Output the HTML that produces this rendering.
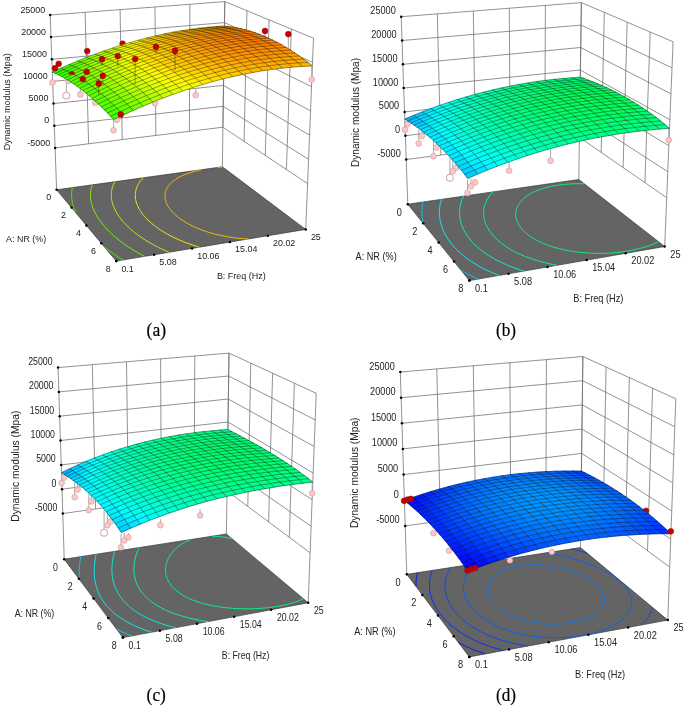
<!DOCTYPE html>
<html><head><meta charset="utf-8"><style>html,body{margin:0;padding:0;background:#fff;}svg{display:block;will-change:transform;}</style></head><body>
<svg width="685" height="705" viewBox="0 0 685 705" font-family="Liberation Sans, sans-serif" fill="#222">
<rect width="685" height="705" fill="#fff"/>
<line x1="50.2" y1="15" x2="55.1" y2="147.9" stroke="#6e6e6e" stroke-width="0.75"/>
<line x1="85.1" y1="12.3" x2="88.6" y2="143.7" stroke="#6e6e6e" stroke-width="0.75"/>
<line x1="120.1" y1="9.6" x2="122.2" y2="139.6" stroke="#6e6e6e" stroke-width="0.75"/>
<line x1="155" y1="7" x2="155.8" y2="135.5" stroke="#6e6e6e" stroke-width="0.75"/>
<line x1="189.9" y1="4.3" x2="189.4" y2="131.3" stroke="#6e6e6e" stroke-width="0.75"/>
<line x1="224.8" y1="1.6" x2="222.9" y2="127.2" stroke="#6e6e6e" stroke-width="0.75"/>
<line x1="224.8" y1="1.6" x2="222.9" y2="127.2" stroke="#6e6e6e" stroke-width="0.75"/>
<line x1="247" y1="10.8" x2="244.1" y2="141.3" stroke="#6e6e6e" stroke-width="0.75"/>
<line x1="269.1" y1="19.9" x2="265.3" y2="155.4" stroke="#6e6e6e" stroke-width="0.75"/>
<line x1="291.3" y1="29.1" x2="286.4" y2="169.5" stroke="#6e6e6e" stroke-width="0.75"/>
<line x1="313.5" y1="38.2" x2="307.6" y2="183.6" stroke="#6e6e6e" stroke-width="0.75"/>
<line x1="55.1" y1="147.9" x2="222.9" y2="127.2" stroke="#6e6e6e" stroke-width="0.75"/>
<line x1="222.9" y1="127.2" x2="307.6" y2="183.6" stroke="#6e6e6e" stroke-width="0.75"/>
<line x1="54.3" y1="125.7" x2="223.2" y2="106.3" stroke="#6e6e6e" stroke-width="0.75"/>
<line x1="223.2" y1="106.3" x2="308.6" y2="159.3" stroke="#6e6e6e" stroke-width="0.75"/>
<line x1="53.5" y1="103.6" x2="223.5" y2="85.4" stroke="#6e6e6e" stroke-width="0.75"/>
<line x1="223.5" y1="85.4" x2="309.6" y2="135.1" stroke="#6e6e6e" stroke-width="0.75"/>
<line x1="52.7" y1="81.4" x2="223.9" y2="64.4" stroke="#6e6e6e" stroke-width="0.75"/>
<line x1="223.9" y1="64.4" x2="310.6" y2="110.9" stroke="#6e6e6e" stroke-width="0.75"/>
<line x1="51.9" y1="59.3" x2="224.2" y2="43.5" stroke="#6e6e6e" stroke-width="0.75"/>
<line x1="224.2" y1="43.5" x2="311.6" y2="86.7" stroke="#6e6e6e" stroke-width="0.75"/>
<line x1="51" y1="37.1" x2="224.5" y2="22.6" stroke="#6e6e6e" stroke-width="0.75"/>
<line x1="224.5" y1="22.6" x2="312.6" y2="62.4" stroke="#6e6e6e" stroke-width="0.75"/>
<line x1="50.2" y1="15" x2="224.8" y2="1.6" stroke="#6e6e6e" stroke-width="0.75"/>
<line x1="224.8" y1="1.6" x2="313.5" y2="38.2" stroke="#6e6e6e" stroke-width="0.75"/>
<line x1="56.6" y1="189.8" x2="55.1" y2="147.9" stroke="#6e6e6e" stroke-width="0.75"/>
<line x1="222.4" y1="166.8" x2="222.9" y2="127.2" stroke="#6e6e6e" stroke-width="0.75"/>
<line x1="305.7" y1="229.4" x2="307.6" y2="183.6" stroke="#6e6e6e" stroke-width="0.75"/>
<polygon points="56.6,189.8 222.4,166.8 305.7,229.4 116.2,261.1" fill="#646464" stroke="#3a3a3a" stroke-width="0.7"/>
<polyline points="75.6,212.5 75.5,212.4 75,211.1 74.5,209.8 74.1,208.6 73.6,207.3 73.2,206 73.2,205.8 72.9,204.7 72.6,203.5 72.3,202.2 72.1,200.9 72.1,200.7 71.9,199.6 71.8,198.3 71.7,196.9 71.6,196.5 71.6,195.6 71.6,194.3 71.6,193 71.7,192.9 71.7,191.6 71.9,190.3 72,189.7 72.1,188.9 72.3,187.6" fill="none" stroke="#44ff00" stroke-width="0.9"/>
<polyline points="123,260 122,259.4 121.3,258.9 119.6,257.9 117.9,256.8 116.3,255.7 114.6,254.6 114,254.2 113.1,253.5 111.5,252.4 110,251.3 108.5,250.2 107,249.1 105.6,248 104.7,247.3" fill="none" stroke="#44ff00" stroke-width="0.9"/>
<polyline points="144.5,256.4 142.6,255.4 140.7,254.3 138.8,253.3 137.8,252.7 137,252.3 135.2,251.2 133.5,250.2 131.7,249.1 130.1,248 130,248 128.4,247 126.8,245.9 125.3,244.8 123.7,243.7 122.2,242.6 120.8,241.5 120.6,241.4 119.3,240.4 117.9,239.3 116.6,238.1 115.2,237 113.9,235.9 112.7,234.7 111.4,233.6 110.2,232.5 109,231.3 107.9,230.1 106.8,229 105.7,227.8 104.7,226.6 103.7,225.5 102.7,224.3 101.7,223.1 100.8,221.9 99.9,220.7 99.1,219.5 98.3,218.3 97.5,217.1 96.8,215.8 96.1,214.6 95.4,213.4 94.8,212.2 94.7,211.9 94.2,210.9 93.7,209.7 93.2,208.4 92.7,207.2 92.3,205.9 92.1,205.3 91.9,204.6 91.5,203.4 91.2,202.1 91,200.8 90.9,200.4 90.8,199.5 90.6,198.2 90.5,196.9 90.5,196.3 90.5,195.6 90.5,194.3 90.5,192.9 90.5,192.8 90.6,191.6 90.8,190.3 90.9,189.8 91,188.9 91.3,187.6 91.4,187 91.7,186.2 92.1,184.9" fill="none" stroke="#86ff00" stroke-width="0.9"/>
<polyline points="169.1,252.3 166.8,251.3 164.6,250.3 164.5,250.3 162.5,249.4 160.4,248.4 158.4,247.4 157.9,247.1 156.4,246.4 154.5,245.4 152.6,244.3 150.8,243.3 150.6,243.2 149,242.3 147.2,241.2 145.5,240.2 143.9,239.1 142.2,238 142.1,237.9 140.7,237 139.1,235.9 137.6,234.8 136.2,233.7 134.8,232.6 133.4,231.5 132,230.3 130.7,229.2 129.5,228.1 129.3,227.9 128.3,227 127.1,225.8 125.9,224.7 124.8,223.5 123.8,222.3 122.7,221.2 121.8,220 120.8,218.8 120.5,218.4 119.9,217.6 119.1,216.4 118.2,215.2 117.4,214 116.7,212.8 116,211.6 115.4,210.4 114.8,209.2 114.3,208.1 114.2,207.9 113.7,206.7 113.2,205.4 112.8,204.2 112.4,202.9 112.3,202.5 112.1,201.7 111.8,200.4 111.6,199.1 111.5,198.2 111.4,197.8 111.3,196.5 111.3,195.2 111.3,194.6 111.3,193.9 111.4,192.6 111.5,191.5 111.6,191.3 111.8,189.9 112,188.8 112.1,188.6 112.4,187.2 112.8,186.3 112.9,185.9 113.4,184.5 113.7,184 114.1,183.1 114.7,181.9 114.8,181.7" fill="none" stroke="#c8ff00" stroke-width="0.9"/>
<polyline points="199.4,247.2 197.6,246.7 196.6,246.3 193.8,245.5 192.2,244.9 191.2,244.6 188.6,243.7 186.4,242.9 186.2,242.8 183.8,241.9 181.5,240.9 180.3,240.4 179.2,240 177.1,239 175,238 173.6,237.4 172.9,237 170.9,236 169,235 167.2,234 166,233.3 165.4,233 163.6,231.9 161.9,230.9 160.3,229.8 158.7,228.8 157.2,227.7 156,226.8 155.7,226.6 154.3,225.5 152.9,224.4 151.6,223.3 150.3,222.2 149,221.1 147.9,219.9 146.7,218.8 145.6,217.6 144.6,216.5 143.6,215.3 142.7,214.2 141.8,213 141,211.8 140.6,211.2 140.2,210.6 139.5,209.4 138.8,208.2 138.2,207 137.6,205.8 137.1,204.5 137,204.2 136.6,203.3 136.2,202 135.9,200.8 135.7,199.6 135.7,199.5 135.5,198.2 135.3,197 135.3,195.9 135.3,195.7 135.3,194.4 135.4,193.1 135.4,192.9 135.6,191.7 135.8,190.4 135.9,190.2 136.2,189 136.6,187.8 136.7,187.7 137.2,186.3 137.6,185.6 137.9,184.9 138.7,183.6 138.7,183.5 139.7,182.1 139.9,181.7 140.7,180.7 141.3,180 142,179.2 142.8,178.4 143.4,177.7" fill="none" stroke="#fff600" stroke-width="0.9"/>
<polyline points="217.7,167.5 219.7,167.3 222.7,167.1" fill="none" stroke="#ffc200" stroke-width="0.9"/>
<polyline points="248.6,239 245,238.8 242.9,238.6 240.8,238.5 237.8,238.2 236.6,238 233.2,237.6 232.2,237.5 229.1,237 227.7,236.8 225.2,236.3 223.1,235.9 221.6,235.6 218.2,234.9 218.2,234.9 215.1,234.1 213.1,233.6 212,233.3 209.2,232.4 207.7,232 206.5,231.6 203.9,230.7 201.9,230 201.4,229.8 199,228.9 196.8,227.9 195.5,227.4 194.6,227 192.5,226 190.5,225 188.6,224 187.9,223.6 186.8,223 185,222 183.4,220.9 181.8,219.9 180.2,218.8 178.8,217.7 177.4,216.6 176.1,215.5 174.8,214.4 173.7,213.3 172.5,212.2 171.5,211 170.6,209.9 169.7,208.7 168.8,207.6 168.1,206.4 167.4,205.2 166.8,204 166.7,203.8 166.3,202.8 165.8,201.5 165.5,200.3 165.3,199.3 165.2,199 165,197.8 165,196.5 165,195.9 165,195.2 165.1,193.9 165.2,193.1 165.3,192.6 165.7,191.2 165.9,190.7 166.2,189.9 166.8,188.6 166.8,188.5 167.7,187.1 168,186.7 168.7,185.7 169.3,184.9 169.9,184.2 170.8,183.3 171.3,182.8 172.3,181.8 173.1,181.2 174,180.5 175.2,179.7 175.8,179.2 177.7,178 177.7,178 179.7,176.9 180.9,176.3 181.7,175.9 183.8,175 184.9,174.5 186,174.1 188.2,173.3 190.5,172.5 190.6,172.5 192.9,171.8 195.3,171.1 197.8,170.5 200.3,169.9 201.6,169.7" fill="none" stroke="#ffc200" stroke-width="0.9"/>
<circle cx="56.6" cy="189.8" r="1.25" fill="#000"/>
<circle cx="71.5" cy="207.6" r="1.25" fill="#000"/>
<circle cx="86.4" cy="225.4" r="1.25" fill="#000"/>
<circle cx="101.3" cy="243.3" r="1.25" fill="#000"/>
<circle cx="116.2" cy="261.1" r="1.25" fill="#000"/>
<circle cx="116.2" cy="261.1" r="1.25" fill="#000"/>
<circle cx="154.1" cy="254.8" r="1.25" fill="#000"/>
<circle cx="192" cy="248.4" r="1.25" fill="#000"/>
<circle cx="229.9" cy="242.1" r="1.25" fill="#000"/>
<circle cx="267.8" cy="235.7" r="1.25" fill="#000"/>
<circle cx="305.7" cy="229.4" r="1.25" fill="#000"/>
<circle cx="55.1" cy="147.9" r="1.25" fill="#000"/>
<circle cx="54.3" cy="125.7" r="1.25" fill="#000"/>
<circle cx="53.5" cy="103.6" r="1.25" fill="#000"/>
<circle cx="52.7" cy="81.4" r="1.25" fill="#000"/>
<circle cx="51.9" cy="59.3" r="1.25" fill="#000"/>
<circle cx="51" cy="37.1" r="1.25" fill="#000"/>
<circle cx="50.2" cy="15" r="1.25" fill="#000"/>
<line x1="52.4" y1="82.5" x2="52.4" y2="72" stroke="#a0a0a0" stroke-width="0.9"/>
<line x1="68.5" y1="81" x2="68.5" y2="76" stroke="#a0a0a0" stroke-width="0.9"/>
<line x1="66.3" y1="95.6" x2="66.3" y2="80" stroke="#a0a0a0" stroke-width="0.9"/>
<line x1="80.3" y1="94.5" x2="80.3" y2="86" stroke="#a0a0a0" stroke-width="0.9"/>
<line x1="95.2" y1="102.8" x2="95.2" y2="96" stroke="#a0a0a0" stroke-width="0.9"/>
<line x1="113.6" y1="130.3" x2="113.6" y2="119.8" stroke="#a0a0a0" stroke-width="0.9"/>
<line x1="117" y1="119.8" x2="117" y2="114" stroke="#a0a0a0" stroke-width="0.9"/>
<line x1="155" y1="103.2" x2="155" y2="99" stroke="#a0a0a0" stroke-width="0.9"/>
<line x1="195.7" y1="95.2" x2="195.7" y2="88.5" stroke="#a0a0a0" stroke-width="0.9"/>
<line x1="311.8" y1="79.5" x2="311.8" y2="66.2" stroke="#a0a0a0" stroke-width="0.9"/>
<circle cx="52.4" cy="82.5" r="2.9" fill="#ffc6c6" stroke="#bf9a9a" stroke-width="0.55"/>
<circle cx="68.5" cy="81" r="2.9" fill="#ffc6c6" stroke="#bf9a9a" stroke-width="0.55"/>
<circle cx="66.3" cy="95.6" r="3.4" fill="#fff" stroke="#dcaaaa" stroke-width="1.1"/>
<circle cx="80.3" cy="94.5" r="2.9" fill="#ffc6c6" stroke="#bf9a9a" stroke-width="0.55"/>
<circle cx="95.2" cy="102.8" r="2.9" fill="#ffc6c6" stroke="#bf9a9a" stroke-width="0.55"/>
<circle cx="113.6" cy="130.3" r="2.9" fill="#ffc6c6" stroke="#bf9a9a" stroke-width="0.55"/>
<circle cx="117" cy="119.8" r="2.9" fill="#ffc6c6" stroke="#bf9a9a" stroke-width="0.55"/>
<circle cx="155" cy="103.2" r="2.9" fill="#ffc6c6" stroke="#bf9a9a" stroke-width="0.55"/>
<circle cx="195.7" cy="95.2" r="2.9" fill="#ffc6c6" stroke="#bf9a9a" stroke-width="0.55"/>
<circle cx="311.8" cy="79.5" r="2.9" fill="#ffc6c6" stroke="#bf9a9a" stroke-width="0.55"/>
<circle cx="122.6" cy="43.7" r="2.9" fill="#c80000" stroke="#8c0000" stroke-width="0.5"/>
<g stroke-width="0.5">
<path d="M215.7 26.6l8.7 -0.6 4.4 0.5 -8.7 0.6z" fill="#ffbb00" stroke="#ffbb00"/>
<path d="M207.1 27.3l8.6 -0.7 4.4 0.5 -8.7 0.7z" fill="#ffba00" stroke="#ffba00"/>
<path d="M198.4 28.2l8.7 -0.9 4.3 0.5 -8.8 1z" fill="#ffbb00" stroke="#ffbb00"/>
<path d="M220.1 27.1l8.7 -0.6 4.5 0.7 -8.8 0.5z" fill="#ffaf00" stroke="#ffaf00"/>
<path d="M189.8 29.4l8.6 -1.2 4.2 0.6 -8.7 1.1z" fill="#ffbe00" stroke="#ffbe00"/>
<path d="M211.4 27.8l8.7 -0.7 4.4 0.6 -8.8 0.8z" fill="#ffae00" stroke="#ffae00"/>
<path d="M181.1 30.7l8.7 -1.3 4.1 0.5 -8.7 1.4z" fill="#ffc200" stroke="#ffc200"/>
<path d="M202.6 28.8l8.8 -1 4.3 0.7 -8.8 1z" fill="#ffaf00" stroke="#ffaf00"/>
<path d="M172.4 32.2l8.7 -1.5 4.1 0.6 -8.8 1.6z" fill="#ffc800" stroke="#ffc800"/>
<path d="M224.5 27.7l8.8 -0.5 4.4 0.8 -8.9 0.5z" fill="#ffa400" stroke="#ffa400"/>
<path d="M193.9 29.9l8.7 -1.1 4.3 0.7 -8.8 1.2z" fill="#ffb200" stroke="#ffb200"/>
<path d="M163.8 34l8.6 -1.8 4 0.7 -8.7 1.7z" fill="#ffd000" stroke="#ffd000"/>
<path d="M215.7 28.5l8.8 -0.8 4.3 0.8 -8.9 0.8z" fill="#ffa300" stroke="#ffa300"/>
<path d="M185.2 31.3l8.7 -1.4 4.2 0.8 -8.8 1.4z" fill="#ffb600" stroke="#ffb600"/>
<path d="M155.1 35.9l8.7 -1.9 3.9 0.6 -8.7 2z" fill="#ffd900" stroke="#ffd900"/>
<path d="M206.9 29.5l8.8 -1 4.2 0.8 -8.8 1z" fill="#ffa400" stroke="#ffa400"/>
<path d="M146.5 38l8.6 -2.1 3.9 0.7 -8.7 2.1z" fill="#ffe300" stroke="#ffe300"/>
<path d="M228.8 28.5l8.9 -0.5 4.4 0.9 -8.9 0.6z" fill="#ff9b00" stroke="#ff9b00"/>
<path d="M176.4 32.9l8.8 -1.6 4.1 0.8 -8.8 1.6z" fill="#ffbc00" stroke="#ffbc00"/>
<path d="M198.1 30.7l8.8 -1.2 4.2 0.8 -8.9 1.2z" fill="#ffa700" stroke="#ffa700"/>
<path d="M137.9 40.3l8.6 -2.3 3.8 0.7 -8.7 2.4z" fill="#ffef00" stroke="#ffef00"/>
<path d="M167.7 34.6l8.7 -1.7 4.1 0.8 -8.8 1.8z" fill="#ffc400" stroke="#ffc400"/>
<path d="M219.9 29.3l8.9 -0.8 4.4 1 -9 0.8z" fill="#ff9a00" stroke="#ff9a00"/>
<path d="M129.3 42.7l8.6 -2.4 3.7 0.8 -8.7 2.5z" fill="#fffd00" stroke="#fffd00"/>
<path d="M189.3 32.1l8.8 -1.4 4.1 0.8 -8.9 1.5z" fill="#ffac00" stroke="#ffac00"/>
<path d="M159 36.6l8.7 -2 4 0.9 -8.8 2z" fill="#ffcd00" stroke="#ffcd00"/>
<path d="M120.6 45.4l8.7 -2.7 3.6 0.9 -8.7 2.6z" fill="#efff00" stroke="#efff00"/>
<path d="M211.1 30.3l8.8 -1 4.3 1 -8.9 1z" fill="#ff9b00" stroke="#ff9b00"/>
<path d="M233.2 29.5l8.9 -0.6 4.4 1.1 -9 0.6z" fill="#ff9300" stroke="#ff9300"/>
<path d="M150.3 38.7l8.7 -2.1 3.9 0.9 -8.8 2.1z" fill="#ffd800" stroke="#ffd800"/>
<path d="M180.5 33.7l8.8 -1.6 4 0.9 -8.8 1.6z" fill="#ffb200" stroke="#ffb200"/>
<path d="M112.1 48.2l8.5 -2.8 3.6 0.8 -8.6 2.9z" fill="#daff00" stroke="#daff00"/>
<path d="M202.2 31.5l8.9 -1.2 4.2 1 -8.9 1.3z" fill="#ff9e00" stroke="#ff9e00"/>
<path d="M103.5 51.1l8.6 -2.9 3.5 0.9 -8.7 3z" fill="#c4ff00" stroke="#c4ff00"/>
<path d="M141.6 41.1l8.7 -2.4 3.8 0.9 -8.8 2.4z" fill="#ffe400" stroke="#ffe400"/>
<path d="M171.7 35.5l8.8 -1.8 4 0.9 -8.9 1.8z" fill="#ffba00" stroke="#ffba00"/>
<path d="M224.2 30.3l9 -0.8 4.3 1.1 -9 0.9z" fill="#ff9200" stroke="#ff9200"/>
<path d="M94.9 54.3l8.6 -3.2 3.4 1 -8.6 3.2z" fill="#acff00" stroke="#acff00"/>
<path d="M132.9 43.6l8.7 -2.5 3.7 0.9 -8.7 2.5z" fill="#fff200" stroke="#fff200"/>
<path d="M193.3 33l8.9 -1.5 4.2 1.1 -9 1.4z" fill="#ffa300" stroke="#ffa300"/>
<path d="M86.4 57.5l8.5 -3.2 3.4 1 -8.6 3.3z" fill="#93ff00" stroke="#93ff00"/>
<path d="M162.9 37.5l8.8 -2 3.9 0.9 -8.9 2z" fill="#ffc300" stroke="#ffc300"/>
<path d="M215.3 31.3l8.9 -1 4.3 1.2 -9 1z" fill="#ff9300" stroke="#ff9300"/>
<path d="M124.2 46.2l8.7 -2.6 3.7 0.9 -8.8 2.8z" fill="#fdff00" stroke="#fdff00"/>
<path d="M77.8 61l8.6 -3.5 3.3 1.1 -8.7 3.5z" fill="#78ff00" stroke="#78ff00"/>
<path d="M237.5 30.6l9 -0.6 4.5 1.3 -9.1 0.6z" fill="#ff8d00" stroke="#ff8d00"/>
<path d="M69.3 64.5l8.5 -3.5 3.2 1.1 -8.5 3.6z" fill="#5cff00" stroke="#5cff00"/>
<path d="M184.5 34.6l8.8 -1.6 4.1 1 -8.9 1.7z" fill="#ffa900" stroke="#ffa900"/>
<path d="M154.1 39.6l8.8 -2.1 3.8 0.9 -8.8 2.3z" fill="#ffce00" stroke="#ffce00"/>
<path d="M115.6 49.1l8.6 -2.9 3.6 1.1 -8.7 2.9z" fill="#e8ff00" stroke="#e8ff00"/>
<path d="M60.8 68.2l8.5 -3.7 3.2 1.2 -8.6 3.8z" fill="#3fff00" stroke="#3fff00"/>
<path d="M206.4 32.6l8.9 -1.3 4.2 1.2 -9 1.3z" fill="#ff9600" stroke="#ff9600"/>
<path d="M52.3 72.1l8.5 -3.9 3.1 1.3 -8.6 3.9z" fill="#20ff00" stroke="#20ff00"/>
<path d="M106.9 52.1l8.7 -3 3.5 1.1 -8.7 3z" fill="#d1ff00" stroke="#d1ff00"/>
<path d="M145.3 42l8.8 -2.4 3.8 1.1 -8.8 2.4z" fill="#ffda00" stroke="#ffda00"/>
<path d="M175.6 36.4l8.9 -1.8 4 1.1 -9 1.8z" fill="#ffb100" stroke="#ffb100"/>
<path d="M228.5 31.5l9 -0.9 4.4 1.3 -9.1 0.9z" fill="#ff8c00" stroke="#ff8c00"/>
<path d="M98.3 55.3l8.6 -3.2 3.5 1.1 -8.7 3.2z" fill="#b9ff00" stroke="#b9ff00"/>
<path d="M136.6 44.5l8.7 -2.5 3.8 1.1 -8.9 2.5z" fill="#ffe800" stroke="#ffe800"/>
<path d="M197.4 34l9 -1.4 4.1 1.2 -9 1.4z" fill="#ff9b00" stroke="#ff9b00"/>
<path d="M89.7 58.6l8.6 -3.3 3.4 1.1 -8.7 3.4z" fill="#a0ff00" stroke="#a0ff00"/>
<path d="M166.7 38.4l8.9 -2 3.9 1.1 -8.9 2.1z" fill="#ffba00" stroke="#ffba00"/>
<path d="M219.5 32.5l9 -1 4.3 1.3 -9.1 1z" fill="#ff8d00" stroke="#ff8d00"/>
<path d="M127.8 47.3l8.8 -2.8 3.6 1.1 -8.8 2.8z" fill="#fff700" stroke="#fff700"/>
<path d="M81 62.1l8.7 -3.5 3.3 1.2 -8.7 3.6z" fill="#85ff00" stroke="#85ff00"/>
<path d="M241.9 31.9l9.1 -0.6 4.4 1.5 -9.2 0.6z" fill="#ff8800" stroke="#ff8800"/>
<path d="M188.5 35.7l8.9 -1.7 4.1 1.2 -9 1.7z" fill="#ffa100" stroke="#ffa100"/>
<path d="M157.9 40.7l8.8 -2.3 3.9 1.2 -8.9 2.2z" fill="#ffc500" stroke="#ffc500"/>
<path d="M72.5 65.7l8.5 -3.6 3.3 1.3 -8.7 3.6z" fill="#69ff00" stroke="#69ff00"/>
<path d="M119.1 50.2l8.7 -2.9 3.6 1.1 -8.8 2.9z" fill="#f4ff00" stroke="#f4ff00"/>
<path d="M63.9 69.5l8.6 -3.8 3.1 1.3 -8.6 3.9z" fill="#4bff00" stroke="#4bff00"/>
<path d="M210.5 33.8l9 -1.3 4.2 1.3 -9 1.3z" fill="#ff9000" stroke="#ff9000"/>
<path d="M55.3 73.4l8.6 -3.9 3.1 1.4 -8.6 3.9z" fill="#2cff00" stroke="#2cff00"/>
<path d="M149.1 43.1l8.8 -2.4 3.8 1.1 -8.9 2.5z" fill="#ffd200" stroke="#ffd200"/>
<path d="M110.4 53.2l8.7 -3 3.5 1.1 -8.8 3.2z" fill="#ddff00" stroke="#ddff00"/>
<path d="M232.8 32.8l9.1 -0.9 4.3 1.5 -9.1 0.8z" fill="#ff8700" stroke="#ff8700"/>
<path d="M179.5 37.5l9 -1.8 4 1.2 -9 1.9z" fill="#ffa900" stroke="#ffa900"/>
<path d="M101.7 56.4l8.7 -3.2 3.4 1.3 -8.8 3.2z" fill="#c5ff00" stroke="#c5ff00"/>
<path d="M140.2 45.6l8.9 -2.5 3.7 1.2 -8.9 2.6z" fill="#ffdf00" stroke="#ffdf00"/>
<path d="M201.5 35.2l9 -1.4 4.2 1.3 -9.1 1.5z" fill="#ff9500" stroke="#ff9500"/>
<path d="M170.6 39.6l8.9 -2.1 4 1.3 -9 2.1z" fill="#ffb300" stroke="#ffb300"/>
<path d="M93 59.8l8.7 -3.4 3.3 1.3 -8.7 3.5z" fill="#acff00" stroke="#acff00"/>
<path d="M223.7 33.8l9.1 -1 4.3 1.4 -9.1 1.1z" fill="#ff8800" stroke="#ff8800"/>
<path d="M246.2 33.4l9.2 -0.6 4.4 1.6 -9.2 0.6z" fill="#ff8400" stroke="#ff8400"/>
<path d="M131.4 48.4l8.8 -2.8 3.7 1.3 -8.9 2.8z" fill="#ffef00" stroke="#ffef00"/>
<path d="M84.3 63.4l8.7 -3.6 3.3 1.4 -8.8 3.5z" fill="#90ff00" stroke="#90ff00"/>
<path d="M192.5 36.9l9 -1.7 4.1 1.4 -9.1 1.7z" fill="#ff9b00" stroke="#ff9b00"/>
<path d="M161.7 41.8l8.9 -2.2 3.9 1.3 -9 2.2z" fill="#ffbe00" stroke="#ffbe00"/>
<path d="M75.6 67l8.7 -3.6 3.2 1.3 -8.7 3.8z" fill="#74ff00" stroke="#74ff00"/>
<path d="M122.6 51.3l8.8 -2.9 3.6 1.3 -8.9 3z" fill="#ffff00" stroke="#ffff00"/>
<path d="M214.7 35.1l9 -1.3 4.3 1.5 -9.2 1.3z" fill="#ff8b00" stroke="#ff8b00"/>
<path d="M67 70.9l8.6 -3.9 3.2 1.5 -8.7 3.9z" fill="#56ff00" stroke="#56ff00"/>
<path d="M237.1 34.2l9.1 -0.8 4.4 1.6 -9.2 0.9z" fill="#ff8300" stroke="#ff8300"/>
<path d="M58.4 74.8l8.6 -3.9 3.1 1.5 -8.7 4z" fill="#37ff00" stroke="#37ff00"/>
<path d="M152.8 44.3l8.9 -2.5 3.8 1.3 -9 2.5z" fill="#ffca00" stroke="#ffca00"/>
<path d="M183.5 38.8l9 -1.9 4 1.4 -9.1 1.9z" fill="#ffa300" stroke="#ffa300"/>
<path d="M113.8 54.5l8.8 -3.2 3.5 1.4 -8.8 3.1z" fill="#e8ff00" stroke="#e8ff00"/>
<path d="M105 57.7l8.8 -3.2 3.5 1.3 -8.9 3.3z" fill="#d0ff00" stroke="#d0ff00"/>
<path d="M205.6 36.6l9.1 -1.5 4.1 1.5 -9.1 1.5z" fill="#ff9000" stroke="#ff9000"/>
<path d="M143.9 46.9l8.9 -2.6 3.7 1.3 -8.9 2.7z" fill="#ffd800" stroke="#ffd800"/>
<path d="M174.5 40.9l9 -2.1 3.9 1.4 -9 2.1z" fill="#ffac00" stroke="#ffac00"/>
<path d="M228 35.3l9.1 -1.1 4.3 1.7 -9.2 1z" fill="#ff8400" stroke="#ff8400"/>
<path d="M96.3 61.2l8.7 -3.5 3.4 1.4 -8.8 3.5z" fill="#b6ff00" stroke="#b6ff00"/>
<path d="M250.6 35l9.2 -0.6 4.4 1.8 -9.2 0.6z" fill="#ff8200" stroke="#ff8200"/>
<path d="M135 49.7l8.9 -2.8 3.7 1.4 -9 2.8z" fill="#ffe700" stroke="#ffe700"/>
<path d="M87.5 64.7l8.8 -3.5 3.3 1.4 -8.8 3.7z" fill="#9aff00" stroke="#9aff00"/>
<path d="M196.5 38.3l9.1 -1.7 4.1 1.5 -9.2 1.7z" fill="#ff9600" stroke="#ff9600"/>
<path d="M165.5 43.1l9 -2.2 3.9 1.4 -9.1 2.3z" fill="#ffb700" stroke="#ffb700"/>
<path d="M78.8 68.5l8.7 -3.8 3.3 1.6 -8.8 3.8z" fill="#7eff00" stroke="#7eff00"/>
<path d="M126.1 52.7l8.9 -3 3.6 1.4 -8.9 3z" fill="#fff800" stroke="#fff800"/>
<path d="M218.8 36.6l9.2 -1.3 4.2 1.6 -9.2 1.3z" fill="#ff8700" stroke="#ff8700"/>
<path d="M241.4 35.9l9.2 -0.9 4.4 1.8 -9.3 0.8z" fill="#ff8100" stroke="#ff8100"/>
<path d="M70.1 72.4l8.7 -3.9 3.2 1.6 -8.8 3.9z" fill="#60ff00" stroke="#60ff00"/>
<path d="M156.5 45.6l9 -2.5 3.8 1.5 -9 2.5z" fill="#ffc400" stroke="#ffc400"/>
<path d="M187.4 40.2l9.1 -1.9 4 1.5 -9.1 1.9z" fill="#ff9e00" stroke="#ff9e00"/>
<path d="M61.4 76.4l8.7 -4 3.1 1.6 -8.7 4.1z" fill="#40ff00" stroke="#40ff00"/>
<path d="M117.3 55.8l8.8 -3.1 3.6 1.4 -9 3.2z" fill="#f1ff00" stroke="#f1ff00"/>
<path d="M209.7 38.1l9.1 -1.5 4.2 1.6 -9.2 1.5z" fill="#ff8c00" stroke="#ff8c00"/>
<path d="M108.4 59.1l8.9 -3.3 3.4 1.5 -8.9 3.4z" fill="#d8ff00" stroke="#d8ff00"/>
<path d="M147.6 48.3l8.9 -2.7 3.8 1.5 -9.1 2.7z" fill="#ffd200" stroke="#ffd200"/>
<path d="M232.2 36.9l9.2 -1 4.3 1.7 -9.3 1.1z" fill="#ff8200" stroke="#ff8200"/>
<path d="M178.4 42.3l9 -2.1 4 1.5 -9.1 2.2z" fill="#ffa700" stroke="#ffa700"/>
<path d="M255 36.8l9.2 -0.6 4.4 1.9 -9.3 0.6z" fill="#ff8100" stroke="#ff8100"/>
<path d="M99.6 62.6l8.8 -3.5 3.4 1.6 -8.9 3.5z" fill="#beff00" stroke="#beff00"/>
<path d="M138.6 51.1l9 -2.8 3.6 1.5 -9 2.9z" fill="#ffe100" stroke="#ffe100"/>
<path d="M200.5 39.8l9.2 -1.7 4.1 1.6 -9.3 1.8z" fill="#ff9200" stroke="#ff9200"/>
<path d="M90.8 66.3l8.8 -3.7 3.3 1.6 -8.9 3.7z" fill="#a3ff00" stroke="#a3ff00"/>
<path d="M169.3 44.6l9.1 -2.3 3.9 1.6 -9.2 2.3z" fill="#ffb200" stroke="#ffb200"/>
<path d="M223 38.2l9.2 -1.3 4.2 1.8 -9.3 1.3z" fill="#ff8500" stroke="#ff8500"/>
<path d="M82 70.1l8.8 -3.8 3.2 1.6 -8.8 3.8z" fill="#86ff00" stroke="#86ff00"/>
<path d="M129.7 54.1l8.9 -3 3.6 1.6 -9 3z" fill="#fff200" stroke="#fff200"/>
<path d="M245.7 37.6l9.3 -0.8 4.3 1.9 -9.3 0.9z" fill="#ff8000" stroke="#ff8000"/>
<path d="M73.2 74l8.8 -3.9 3.2 1.6 -8.9 4z" fill="#68ff00" stroke="#68ff00"/>
<path d="M191.4 41.7l9.1 -1.9 4 1.7 -9.2 1.9z" fill="#ff9a00" stroke="#ff9a00"/>
<path d="M160.3 47.1l9 -2.5 3.8 1.6 -9.1 2.5z" fill="#ffbf00" stroke="#ffbf00"/>
<path d="M120.7 57.3l9 -3.2 3.5 1.6 -9 3.2z" fill="#f8ff00" stroke="#f8ff00"/>
<path d="M64.5 78.1l8.7 -4.1 3.1 1.7 -8.8 4.2z" fill="#48ff00" stroke="#48ff00"/>
<path d="M213.8 39.7l9.2 -1.5 4.1 1.8 -9.3 1.5z" fill="#ff8900" stroke="#ff8900"/>
<path d="M111.8 60.7l8.9 -3.4 3.5 1.6 -9 3.4z" fill="#e0ff00" stroke="#e0ff00"/>
<path d="M151.2 49.8l9.1 -2.7 3.7 1.6 -9.1 2.7z" fill="#ffcd00" stroke="#ffcd00"/>
<path d="M236.4 38.7l9.3 -1.1 4.3 2 -9.4 1z" fill="#ff8100" stroke="#ff8100"/>
<path d="M259.3 38.7l9.3 -0.6 4.4 2.1 -9.4 0.6z" fill="#ff8100" stroke="#ff8100"/>
<path d="M182.3 43.9l9.1 -2.2 3.9 1.7 -9.2 2.2z" fill="#ffa400" stroke="#ffa400"/>
<path d="M102.9 64.2l8.9 -3.5 3.4 1.6 -9 3.6z" fill="#c6ff00" stroke="#c6ff00"/>
<path d="M142.2 52.7l9 -2.9 3.7 1.6 -9.1 2.9z" fill="#ffdd00" stroke="#ffdd00"/>
<path d="M204.5 41.5l9.3 -1.8 4 1.8 -9.2 1.8z" fill="#ff9000" stroke="#ff9000"/>
<path d="M94 67.9l8.9 -3.7 3.3 1.7 -8.9 3.8z" fill="#aaff00" stroke="#aaff00"/>
<path d="M173.1 46.2l9.2 -2.3 3.8 1.7 -9.2 2.3z" fill="#ffaf00" stroke="#ffaf00"/>
<path d="M227.1 40l9.3 -1.3 4.2 1.9 -9.3 1.3z" fill="#ff8400" stroke="#ff8400"/>
<path d="M250 39.6l9.3 -0.9 4.3 2.1 -9.4 0.8z" fill="#ff8000" stroke="#ff8000"/>
<path d="M85.2 71.7l8.8 -3.8 3.3 1.8 -8.9 3.9z" fill="#8dff00" stroke="#8dff00"/>
<path d="M133.2 55.7l9 -3 3.6 1.6 -9.1 3.1z" fill="#ffed00" stroke="#ffed00"/>
<path d="M76.3 75.7l8.9 -4 3.2 1.9 -8.9 4z" fill="#6fff00" stroke="#6fff00"/>
<path d="M195.3 43.4l9.2 -1.9 4.1 1.8 -9.3 1.9z" fill="#ff9700" stroke="#ff9700"/>
<path d="M164 48.7l9.1 -2.5 3.8 1.7 -9.1 2.6z" fill="#ffbb00" stroke="#ffbb00"/>
<path d="M124.2 58.9l9 -3.2 3.5 1.7 -9 3.3z" fill="#feff00" stroke="#feff00"/>
<path d="M67.5 79.9l8.8 -4.2 3.2 1.9 -8.9 4.2z" fill="#4fff00" stroke="#4fff00"/>
<path d="M217.8 41.5l9.3 -1.5 4.2 1.9 -9.4 1.6z" fill="#ff8800" stroke="#ff8800"/>
<path d="M263.6 40.8l9.4 -0.6 4.4 2.2 -9.4 0.6z" fill="#ff8300" stroke="#ff8300"/>
<path d="M240.6 40.6l9.4 -1 4.2 2 -9.4 1.1z" fill="#ff8100" stroke="#ff8100"/>
<path d="M115.2 62.3l9 -3.4 3.5 1.8 -9.1 3.4z" fill="#e6ff00" stroke="#e6ff00"/>
<path d="M154.9 51.4l9.1 -2.7 3.8 1.8 -9.2 2.7z" fill="#ffc900" stroke="#ffc900"/>
<path d="M186.1 45.6l9.2 -2.2 4 1.8 -9.3 2.2z" fill="#ffa100" stroke="#ffa100"/>
<path d="M106.2 65.9l9 -3.6 3.4 1.8 -9 3.7z" fill="#ccff00" stroke="#ccff00"/>
<path d="M208.6 43.3l9.2 -1.8 4.1 2 -9.3 1.7z" fill="#ff8e00" stroke="#ff8e00"/>
<path d="M145.8 54.3l9.1 -2.9 3.7 1.8 -9.2 2.9z" fill="#ffd900" stroke="#ffd900"/>
<path d="M176.9 47.9l9.2 -2.3 3.9 1.8 -9.2 2.4z" fill="#ffac00" stroke="#ffac00"/>
<path d="M97.3 69.7l8.9 -3.8 3.4 1.9 -9 3.7z" fill="#b0ff00" stroke="#b0ff00"/>
<path d="M231.3 41.9l9.3 -1.3 4.2 2.1 -9.4 1.3z" fill="#ff8400" stroke="#ff8400"/>
<path d="M254.2 41.6l9.4 -0.8 4.4 2.2 -9.5 0.9z" fill="#ff8200" stroke="#ff8200"/>
<path d="M136.7 57.4l9.1 -3.1 3.6 1.8 -9.1 3.2z" fill="#ffea00" stroke="#ffea00"/>
<path d="M88.4 73.6l8.9 -3.9 3.3 1.8 -9 4z" fill="#93ff00" stroke="#93ff00"/>
<path d="M199.3 45.2l9.3 -1.9 4 1.9 -9.4 2z" fill="#ff9600" stroke="#ff9600"/>
<path d="M167.8 50.5l9.1 -2.6 3.9 1.9 -9.3 2.6z" fill="#ffb900" stroke="#ffb900"/>
<path d="M79.5 77.6l8.9 -4 3.2 1.9 -9 4.1z" fill="#75ff00" stroke="#75ff00"/>
<path d="M127.7 60.7l9 -3.3 3.6 1.9 -9.2 3.3z" fill="#fffc00" stroke="#fffc00"/>
<path d="M221.9 43.5l9.4 -1.6 4.1 2.1 -9.4 1.6z" fill="#ff8800" stroke="#ff8800"/>
<path d="M70.6 81.8l8.9 -4.2 3.1 2 -9 4.2z" fill="#55ff00" stroke="#55ff00"/>
<path d="M268 43l9.4 -0.6 4.4 2.4 -9.5 0.6z" fill="#ff8600" stroke="#ff8600"/>
<path d="M244.8 42.7l9.4 -1.1 4.3 2.3 -9.5 1.1z" fill="#ff8200" stroke="#ff8200"/>
<path d="M158.6 53.2l9.2 -2.7 3.7 1.9 -9.2 2.7z" fill="#ffc700" stroke="#ffc700"/>
<path d="M190 47.4l9.3 -2.2 3.9 2 -9.3 2.2z" fill="#ff9f00" stroke="#ff9f00"/>
<path d="M118.6 64.1l9.1 -3.4 3.4 1.9 -9.1 3.5z" fill="#eaff00" stroke="#eaff00"/>
<path d="M109.6 67.8l9 -3.7 3.4 2 -9.1 3.6z" fill="#d0ff00" stroke="#d0ff00"/>
<path d="M212.6 45.2l9.3 -1.7 4.1 2.1 -9.4 1.7z" fill="#ff8e00" stroke="#ff8e00"/>
<path d="M149.4 56.1l9.2 -2.9 3.7 1.9 -9.3 3z" fill="#ffd600" stroke="#ffd600"/>
<path d="M235.4 44l9.4 -1.3 4.2 2.3 -9.4 1.3z" fill="#ff8500" stroke="#ff8500"/>
<path d="M258.5 43.9l9.5 -0.9 4.3 2.4 -9.5 0.9z" fill="#ff8400" stroke="#ff8400"/>
<path d="M180.8 49.8l9.2 -2.4 3.9 2 -9.3 2.4z" fill="#ffaa00" stroke="#ffaa00"/>
<path d="M100.6 71.5l9 -3.7 3.3 1.9 -9.1 3.8z" fill="#b5ff00" stroke="#b5ff00"/>
<path d="M140.3 59.3l9.1 -3.2 3.6 2 -9.2 3.1z" fill="#ffe700" stroke="#ffe700"/>
<path d="M91.6 75.5l9 -4 3.2 2 -9 4z" fill="#97ff00" stroke="#97ff00"/>
<path d="M203.2 47.2l9.4 -2 4 2.1 -9.4 2z" fill="#ff9600" stroke="#ff9600"/>
<path d="M171.5 52.4l9.3 -2.6 3.8 2 -9.3 2.6z" fill="#ffb700" stroke="#ffb700"/>
<path d="M82.6 79.6l9 -4.1 3.2 2 -9.1 4.2z" fill="#79ff00" stroke="#79ff00"/>
<path d="M226 45.6l9.4 -1.6 4.2 2.3 -9.5 1.5z" fill="#ff8900" stroke="#ff8900"/>
<path d="M272.3 45.4l9.5 -0.6 4.4 2.6 -9.6 0.6z" fill="#ff8900" stroke="#ff8900"/>
<path d="M131.1 62.6l9.2 -3.3 3.5 1.9 -9.2 3.4z" fill="#fff900" stroke="#fff900"/>
<path d="M249 45l9.5 -1.1 4.3 2.4 -9.6 1z" fill="#ff8500" stroke="#ff8500"/>
<path d="M73.6 83.8l9 -4.2 3.1 2.1 -9 4.3z" fill="#59ff00" stroke="#59ff00"/>
<path d="M193.9 49.4l9.3 -2.2 4 2.1 -9.4 2.2z" fill="#ff9f00" stroke="#ff9f00"/>
<path d="M162.3 55.1l9.2 -2.7 3.8 2 -9.4 2.8z" fill="#ffc500" stroke="#ffc500"/>
<path d="M122 66.1l9.1 -3.5 3.5 2 -9.2 3.5z" fill="#eeff00" stroke="#eeff00"/>
<path d="M216.6 47.3l9.4 -1.7 4.1 2.2 -9.5 1.8z" fill="#ff8f00" stroke="#ff8f00"/>
<path d="M112.9 69.7l9.1 -3.6 3.4 2 -9.2 3.7z" fill="#d4ff00" stroke="#d4ff00"/>
<path d="M262.8 46.3l9.5 -0.9 4.3 2.6 -9.6 0.8z" fill="#ff8800" stroke="#ff8800"/>
<path d="M153 58.1l9.3 -3 3.6 2.1 -9.3 3z" fill="#ffd400" stroke="#ffd400"/>
<path d="M239.6 46.3l9.4 -1.3 4.2 2.3 -9.5 1.4z" fill="#ff8700" stroke="#ff8700"/>
<path d="M184.6 51.8l9.3 -2.4 3.9 2.1 -9.4 2.4z" fill="#ffaa00" stroke="#ffaa00"/>
<path d="M103.8 73.5l9.1 -3.8 3.3 2.1 -9.1 3.9z" fill="#b8ff00" stroke="#b8ff00"/>
<path d="M143.8 61.2l9.2 -3.1 3.6 2.1 -9.2 3.1z" fill="#ffe500" stroke="#ffe500"/>
<path d="M207.2 49.3l9.4 -2 4 2.3 -9.5 2z" fill="#ff9700" stroke="#ff9700"/>
<path d="M94.8 77.5l9 -4 3.3 2.2 -9.1 4z" fill="#9bff00" stroke="#9bff00"/>
<path d="M175.3 54.4l9.3 -2.6 3.8 2.1 -9.4 2.6z" fill="#ffb600" stroke="#ffb600"/>
<path d="M276.6 48l9.6 -0.6 4.4 2.7 -9.6 0.6z" fill="#ff8e00" stroke="#ff8e00"/>
<path d="M230.1 47.8l9.5 -1.5 4.1 2.4 -9.5 1.5z" fill="#ff8b00" stroke="#ff8b00"/>
<path d="M85.7 81.7l9.1 -4.2 3.2 2.2 -9.2 4.2z" fill="#7cff00" stroke="#7cff00"/>
<path d="M253.2 47.3l9.6 -1 4.2 2.5 -9.6 1.1z" fill="#ff8800" stroke="#ff8800"/>
<path d="M134.6 64.6l9.2 -3.4 3.6 2.1 -9.3 3.4z" fill="#fff700" stroke="#fff700"/>
<path d="M76.7 86l9 -4.3 3.1 2.2 -9 4.3z" fill="#5cff00" stroke="#5cff00"/>
<path d="M197.8 51.5l9.4 -2.2 3.9 2.3 -9.4 2.2z" fill="#ffa000" stroke="#ffa000"/>
<path d="M165.9 57.2l9.4 -2.8 3.7 2.1 -9.4 2.9z" fill="#ffc400" stroke="#ffc400"/>
<path d="M125.4 68.1l9.2 -3.5 3.5 2.1 -9.3 3.6z" fill="#f0ff00" stroke="#f0ff00"/>
<path d="M220.6 49.6l9.5 -1.8 4.1 2.4 -9.6 1.8z" fill="#ff9100" stroke="#ff9100"/>
<path d="M267 48.8l9.6 -0.8 4.4 2.7 -9.7 0.8z" fill="#ff8d00" stroke="#ff8d00"/>
<path d="M243.7 48.7l9.5 -1.4 4.2 2.6 -9.6 1.3z" fill="#ff8a00" stroke="#ff8a00"/>
<path d="M116.2 71.8l9.2 -3.7 3.4 2.2 -9.2 3.7z" fill="#d6ff00" stroke="#d6ff00"/>
<path d="M156.6 60.2l9.3 -3 3.7 2.2 -9.3 3z" fill="#ffd400" stroke="#ffd400"/>
<path d="M188.4 53.9l9.4 -2.4 3.9 2.3 -9.5 2.4z" fill="#ffab00" stroke="#ffab00"/>
<path d="M107.1 75.7l9.1 -3.9 3.4 2.2 -9.2 3.9z" fill="#baff00" stroke="#baff00"/>
<path d="M211.1 51.6l9.5 -2 4 2.4 -9.5 2z" fill="#ff9800" stroke="#ff9800"/>
<path d="M147.4 63.3l9.2 -3.1 3.7 2.2 -9.4 3.2z" fill="#ffe500" stroke="#ffe500"/>
<path d="M281 50.7l9.6 -0.6 4.4 2.9 -9.7 0.5z" fill="#ff9500" stroke="#ff9500"/>
<path d="M98 79.7l9.1 -4 3.3 2.2 -9.2 4.1z" fill="#9dff00" stroke="#9dff00"/>
<path d="M179 56.5l9.4 -2.6 3.8 2.3 -9.5 2.6z" fill="#ffb700" stroke="#ffb700"/>
<path d="M234.2 50.2l9.5 -1.5 4.1 2.5 -9.6 1.5z" fill="#ff8e00" stroke="#ff8e00"/>
<path d="M257.4 49.9l9.6 -1.1 4.3 2.7 -9.7 1z" fill="#ff8d00" stroke="#ff8d00"/>
<path d="M88.8 83.9l9.2 -4.2 3.2 2.3 -9.2 4.2z" fill="#7eff00" stroke="#7eff00"/>
<path d="M138.1 66.7l9.3 -3.4 3.5 2.3 -9.3 3.4z" fill="#fff700" stroke="#fff700"/>
<path d="M79.8 88.2l9 -4.3 3.2 2.3 -9.2 4.4z" fill="#5fff00" stroke="#5fff00"/>
<path d="M201.7 53.8l9.4 -2.2 4 2.4 -9.6 2.2z" fill="#ffa200" stroke="#ffa200"/>
<path d="M169.6 59.4l9.4 -2.9 3.7 2.3 -9.4 2.9z" fill="#ffc500" stroke="#ffc500"/>
<path d="M128.8 70.3l9.3 -3.6 3.5 2.3 -9.4 3.5z" fill="#f1ff00" stroke="#f1ff00"/>
<path d="M224.6 52l9.6 -1.8 4 2.5 -9.6 1.8z" fill="#ff9400" stroke="#ff9400"/>
<path d="M271.3 51.5l9.7 -0.8 4.3 2.8 -9.7 0.8z" fill="#ff9300" stroke="#ff9300"/>
<path d="M247.8 51.2l9.6 -1.3 4.2 2.6 -9.6 1.3z" fill="#ff8f00" stroke="#ff8f00"/>
<path d="M119.6 74l9.2 -3.7 3.4 2.2 -9.3 3.8z" fill="#d7ff00" stroke="#d7ff00"/>
<path d="M160.3 62.4l9.3 -3 3.7 2.3 -9.4 3z" fill="#ffd400" stroke="#ffd400"/>
<path d="M192.2 56.2l9.5 -2.4 3.8 2.4 -9.5 2.4z" fill="#ffac00" stroke="#ffac00"/>
<path d="M110.4 77.9l9.2 -3.9 3.3 2.3 -9.3 3.9z" fill="#bbff00" stroke="#bbff00"/>
<path d="M285.3 53.5l9.7 -0.5 4.4 3 -9.8 0.5z" fill="#ff9c00" stroke="#ff9c00"/>
<path d="M215.1 54l9.5 -2 4 2.5 -9.6 2z" fill="#ff9b00" stroke="#ff9b00"/>
<path d="M150.9 65.6l9.4 -3.2 3.6 2.3 -9.5 3.2z" fill="#ffe500" stroke="#ffe500"/>
<path d="M261.6 52.5l9.7 -1 4.3 2.8 -9.8 1.1z" fill="#ff9200" stroke="#ff9200"/>
<path d="M238.2 52.7l9.6 -1.5 4.2 2.6 -9.7 1.6z" fill="#ff9300" stroke="#ff9300"/>
<path d="M101.2 82l9.2 -4.1 3.2 2.3 -9.2 4.1z" fill="#9eff00" stroke="#9eff00"/>
<path d="M182.7 58.8l9.5 -2.6 3.8 2.4 -9.5 2.6z" fill="#ffb900" stroke="#ffb900"/>
<path d="M92 86.2l9.2 -4.2 3.2 2.3 -9.3 4.3z" fill="#7fff00" stroke="#7fff00"/>
<path d="M141.6 69l9.3 -3.4 3.5 2.3 -9.4 3.4z" fill="#fff700" stroke="#fff700"/>
<path d="M205.5 56.2l9.6 -2.2 3.9 2.5 -9.6 2.2z" fill="#ffa400" stroke="#ffa400"/>
<path d="M82.8 90.6l9.2 -4.4 3.1 2.4 -9.2 4.4z" fill="#60ff00" stroke="#60ff00"/>
<path d="M173.3 61.7l9.4 -2.9 3.8 2.4 -9.5 2.9z" fill="#ffc600" stroke="#ffc600"/>
<path d="M275.6 54.3l9.7 -0.8 4.3 3 -9.8 0.8z" fill="#ff9900" stroke="#ff9900"/>
<path d="M228.6 54.5l9.6 -1.8 4.1 2.7 -9.7 1.8z" fill="#ff9800" stroke="#ff9800"/>
<path d="M132.2 72.5l9.4 -3.5 3.4 2.3 -9.4 3.6z" fill="#f1ff00" stroke="#f1ff00"/>
<path d="M252 53.8l9.6 -1.3 4.2 2.9 -9.7 1.3z" fill="#ff9400" stroke="#ff9400"/>
<path d="M163.9 64.7l9.4 -3 3.7 2.4 -9.5 3z" fill="#ffd500" stroke="#ffd500"/>
<path d="M196 58.6l9.5 -2.4 3.9 2.5 -9.6 2.4z" fill="#ffaf00" stroke="#ffaf00"/>
<path d="M122.9 76.3l9.3 -3.8 3.4 2.4 -9.3 3.8z" fill="#d7ff00" stroke="#d7ff00"/>
<path d="M289.6 56.5l9.8 -0.5 4.3 3.1 -9.8 0.6z" fill="#ffa400" stroke="#ffa400"/>
<path d="M219 56.5l9.6 -2 4 2.7 -9.6 2z" fill="#ff9f00" stroke="#ff9f00"/>
<path d="M113.6 80.2l9.3 -3.9 3.4 2.4 -9.4 4z" fill="#bbff00" stroke="#bbff00"/>
<path d="M265.8 55.4l9.8 -1.1 4.2 3 -9.8 1z" fill="#ff9900" stroke="#ff9900"/>
<path d="M154.4 67.9l9.5 -3.2 3.6 2.4 -9.5 3.3z" fill="#ffe600" stroke="#ffe600"/>
<path d="M242.3 55.4l9.7 -1.6 4.1 2.9 -9.7 1.5z" fill="#ff9800" stroke="#ff9800"/>
<path d="M186.5 61.2l9.5 -2.6 3.8 2.5 -9.6 2.7z" fill="#ffbb00" stroke="#ffbb00"/>
<path d="M104.4 84.3l9.2 -4.1 3.3 2.5 -9.3 4.1z" fill="#9eff00" stroke="#9eff00"/>
<path d="M95.1 88.6l9.3 -4.3 3.2 2.5 -9.3 4.3z" fill="#7fff00" stroke="#7fff00"/>
<path d="M145 71.3l9.4 -3.4 3.6 2.5 -9.5 3.4z" fill="#fff800" stroke="#fff800"/>
<path d="M209.4 58.7l9.6 -2.2 4 2.7 -9.7 2.2z" fill="#ffa800" stroke="#ffa800"/>
<path d="M279.8 57.3l9.8 -0.8 4.3 3.2 -9.9 0.7z" fill="#ffa100" stroke="#ffa100"/>
<path d="M177 64.1l9.5 -2.9 3.7 2.6 -9.5 2.9z" fill="#ffc900" stroke="#ffc900"/>
<path d="M85.9 93l9.2 -4.4 3.2 2.5 -9.3 4.5z" fill="#60ff00" stroke="#60ff00"/>
<path d="M232.6 57.2l9.7 -1.8 4.1 2.8 -9.8 1.8z" fill="#ff9d00" stroke="#ff9d00"/>
<path d="M256.1 56.7l9.7 -1.3 4.2 2.9 -9.8 1.3z" fill="#ff9b00" stroke="#ff9b00"/>
<path d="M135.6 74.9l9.4 -3.6 3.5 2.5 -9.4 3.7z" fill="#efff00" stroke="#efff00"/>
<path d="M199.8 61.1l9.6 -2.4 3.9 2.7 -9.7 2.4z" fill="#ffb200" stroke="#ffb200"/>
<path d="M167.5 67.1l9.5 -3 3.7 2.6 -9.6 3z" fill="#ffd800" stroke="#ffd800"/>
<path d="M126.3 78.7l9.3 -3.8 3.5 2.6 -9.5 3.8z" fill="#d5ff00" stroke="#d5ff00"/>
<path d="M293.9 59.7l9.8 -0.6 4.4 3.4 -9.9 0.4z" fill="#ffad00" stroke="#ffad00"/>
<path d="M223 59.2l9.6 -2 4 2.8 -9.7 1.9z" fill="#ffa400" stroke="#ffa400"/>
<path d="M270 58.3l9.8 -1 4.2 3.1 -9.8 1z" fill="#ffa100" stroke="#ffa100"/>
<path d="M116.9 82.7l9.4 -4 3.3 2.6 -9.4 4z" fill="#baff00" stroke="#baff00"/>
<path d="M246.4 58.2l9.7 -1.5 4.1 2.9 -9.8 1.5z" fill="#ff9e00" stroke="#ff9e00"/>
<path d="M158 70.4l9.5 -3.3 3.6 2.6 -9.6 3.3z" fill="#ffe800" stroke="#ffe800"/>
<path d="M190.2 63.8l9.6 -2.7 3.8 2.7 -9.6 2.7z" fill="#ffbe00" stroke="#ffbe00"/>
<path d="M107.6 86.8l9.3 -4.1 3.3 2.6 -9.4 4.1z" fill="#9dff00" stroke="#9dff00"/>
<path d="M148.5 73.8l9.5 -3.4 3.5 2.6 -9.5 3.4z" fill="#fffa00" stroke="#fffa00"/>
<path d="M213.3 61.4l9.7 -2.2 3.9 2.7 -9.7 2.3z" fill="#ffad00" stroke="#ffad00"/>
<path d="M98.3 91.1l9.3 -4.3 3.2 2.6 -9.4 4.4z" fill="#7fff00" stroke="#7fff00"/>
<path d="M284 60.4l9.9 -0.7 4.3 3.2 -9.9 0.8z" fill="#ffaa00" stroke="#ffaa00"/>
<path d="M180.7 66.7l9.5 -2.9 3.8 2.7 -9.7 2.8z" fill="#ffcc00" stroke="#ffcc00"/>
<path d="M236.6 60l9.8 -1.8 4 2.9 -9.8 1.8z" fill="#ffa300" stroke="#ffa300"/>
<path d="M260.2 59.6l9.8 -1.3 4.2 3.1 -9.9 1.3z" fill="#ffa200" stroke="#ffa200"/>
<path d="M89 95.6l9.3 -4.5 3.1 2.7 -9.4 4.5z" fill="#5fff00" stroke="#5fff00"/>
<path d="M139.1 77.5l9.4 -3.7 3.5 2.6 -9.5 3.7z" fill="#edff00" stroke="#edff00"/>
<path d="M298.2 62.9l9.9 -0.4 4.3 3.4 -9.9 0.5z" fill="#ffb700" stroke="#ffb700"/>
<path d="M203.6 63.8l9.7 -2.4 3.9 2.8 -9.8 2.4z" fill="#ffb700" stroke="#ffb700"/>
<path d="M171.1 69.7l9.6 -3 3.6 2.6 -9.6 3.1z" fill="#ffdb00" stroke="#ffdb00"/>
<path d="M129.6 81.3l9.5 -3.8 3.4 2.6 -9.5 3.8z" fill="#d3ff00" stroke="#d3ff00"/>
<path d="M274.2 61.4l9.8 -1 4.3 3.3 -9.9 1z" fill="#ffa900" stroke="#ffa900"/>
<path d="M226.9 61.9l9.7 -1.9 4 2.9 -9.8 2z" fill="#ffaa00" stroke="#ffaa00"/>
<path d="M250.4 61.1l9.8 -1.5 4.1 3.1 -9.8 1.5z" fill="#ffa500" stroke="#ffa500"/>
<path d="M120.2 85.3l9.4 -4 3.4 2.6 -9.5 4z" fill="#b8ff00" stroke="#b8ff00"/>
<path d="M161.5 73l9.6 -3.3 3.6 2.7 -9.6 3.3z" fill="#ffeb00" stroke="#ffeb00"/>
<path d="M194 66.5l9.6 -2.7 3.8 2.8 -9.7 2.7z" fill="#ffc300" stroke="#ffc300"/>
<path d="M110.8 89.4l9.4 -4.1 3.3 2.6 -9.5 4.2z" fill="#9bff00" stroke="#9bff00"/>
<path d="M288.3 63.7l9.9 -0.8 4.3 3.5 -10 0.7z" fill="#ffb400" stroke="#ffb400"/>
<path d="M217.2 64.2l9.7 -2.3 3.9 3 -9.8 2.2z" fill="#ffb200" stroke="#ffb200"/>
<path d="M152 76.4l9.5 -3.4 3.6 2.7 -9.6 3.5z" fill="#fffd00" stroke="#fffd00"/>
<path d="M101.4 93.8l9.4 -4.4 3.2 2.7 -9.4 4.4z" fill="#7dff00" stroke="#7dff00"/>
<path d="M264.3 62.7l9.9 -1.3 4.2 3.3 -9.9 1.2z" fill="#ffaa00" stroke="#ffaa00"/>
<path d="M240.6 62.9l9.8 -1.8 4.1 3.1 -9.9 1.7z" fill="#ffaa00" stroke="#ffaa00"/>
<path d="M184.3 69.3l9.7 -2.8 3.7 2.8 -9.7 2.8z" fill="#ffd000" stroke="#ffd000"/>
<path d="M92 98.3l9.4 -4.5 3.2 2.7 -9.5 4.5z" fill="#5dff00" stroke="#5dff00"/>
<path d="M142.5 80.1l9.5 -3.7 3.5 2.8 -9.6 3.6z" fill="#eaff00" stroke="#eaff00"/>
<path d="M207.4 66.6l9.8 -2.4 3.8 2.9 -9.8 2.4z" fill="#ffbc00" stroke="#ffbc00"/>
<path d="M174.7 72.4l9.6 -3.1 3.7 2.8 -9.7 3.1z" fill="#ffdf00" stroke="#ffdf00"/>
<path d="M278.4 64.7l9.9 -1 4.2 3.4 -10 1z" fill="#ffb300" stroke="#ffb300"/>
<path d="M133 83.9l9.5 -3.8 3.4 2.7 -9.6 3.9z" fill="#d0ff00" stroke="#d0ff00"/>
<path d="M230.8 64.9l9.8 -2 4 3 -9.8 2z" fill="#ffb000" stroke="#ffb000"/>
<path d="M254.5 64.2l9.8 -1.5 4.2 3.2 -10 1.5z" fill="#ffad00" stroke="#ffad00"/>
<path d="M123.5 87.9l9.5 -4 3.3 2.8 -9.5 4z" fill="#b5ff00" stroke="#b5ff00"/>
<path d="M165.1 75.7l9.6 -3.3 3.6 2.8 -9.7 3.3z" fill="#ffef00" stroke="#ffef00"/>
<path d="M197.7 69.3l9.7 -2.7 3.8 2.9 -9.7 2.7z" fill="#ffc800" stroke="#ffc800"/>
<path d="M114 92.1l9.5 -4.2 3.3 2.8 -9.6 4.2z" fill="#98ff00" stroke="#98ff00"/>
<path d="M221 67.1l9.8 -2.2 4 3 -9.9 2.2z" fill="#ffb900" stroke="#ffb900"/>
<path d="M268.5 65.9l9.9 -1.2 4.1 3.4 -9.9 1.2z" fill="#ffb400" stroke="#ffb400"/>
<path d="M155.5 79.2l9.6 -3.5 3.5 2.8 -9.6 3.5z" fill="#fdff00" stroke="#fdff00"/>
<path d="M244.6 65.9l9.9 -1.7 4 3.2 -9.9 1.7z" fill="#ffb200" stroke="#ffb200"/>
<path d="M104.6 96.5l9.4 -4.4 3.2 2.8 -9.5 4.4z" fill="#7aff00" stroke="#7aff00"/>
<path d="M188 72.1l9.7 -2.8 3.8 2.9 -9.8 2.9z" fill="#ffd500" stroke="#ffd500"/>
<path d="M95.1 101l9.5 -4.5 3.1 2.8 -9.5 4.6z" fill="#5aff00" stroke="#5aff00"/>
<path d="M145.9 82.8l9.6 -3.6 3.5 2.8 -9.7 3.7z" fill="#e5ff00" stroke="#e5ff00"/>
<path d="M211.2 69.5l9.8 -2.4 3.9 3 -9.9 2.5z" fill="#ffc200" stroke="#ffc200"/>
<path d="M178.3 75.2l9.7 -3.1 3.7 3 -9.8 3z" fill="#ffe300" stroke="#ffe300"/>
<path d="M234.8 67.9l9.8 -2 4 3.2 -9.9 2z" fill="#ffb800" stroke="#ffb800"/>
<path d="M258.5 67.4l10 -1.5 4.1 3.4 -10 1.4z" fill="#ffb600" stroke="#ffb600"/>
<path d="M136.3 86.7l9.6 -3.9 3.4 2.9 -9.6 3.8z" fill="#ccff00" stroke="#ccff00"/>
<path d="M201.5 72.2l9.7 -2.7 3.8 3.1 -9.8 2.6z" fill="#ffce00" stroke="#ffce00"/>
<path d="M126.8 90.7l9.5 -4 3.4 2.8 -9.7 4.1z" fill="#b1ff00" stroke="#b1ff00"/>
<path d="M168.6 78.5l9.7 -3.3 3.6 2.9 -9.7 3.3z" fill="#fff300" stroke="#fff300"/>
<path d="M224.9 70.1l9.9 -2.2 3.9 3.2 -9.9 2.2z" fill="#ffc000" stroke="#ffc000"/>
<path d="M117.2 94.9l9.6 -4.2 3.2 2.9 -9.6 4.2z" fill="#94ff00" stroke="#94ff00"/>
<path d="M248.6 69.1l9.9 -1.7 4.1 3.3 -10 1.8z" fill="#ffba00" stroke="#ffba00"/>
<path d="M159 82l9.6 -3.5 3.6 2.9 -9.8 3.5z" fill="#f8ff00" stroke="#f8ff00"/>
<path d="M191.7 75.1l9.8 -2.9 3.7 3 -9.8 2.9z" fill="#ffdb00" stroke="#ffdb00"/>
<path d="M107.7 99.3l9.5 -4.4 3.2 2.9 -9.5 4.5z" fill="#76ff00" stroke="#76ff00"/>
<path d="M98.2 103.9l9.5 -4.6 3.2 3 -9.6 4.5z" fill="#57ff00" stroke="#57ff00"/>
<path d="M149.3 85.7l9.7 -3.7 3.4 2.9 -9.7 3.7z" fill="#e0ff00" stroke="#e0ff00"/>
<path d="M215 72.6l9.9 -2.5 3.9 3.2 -10 2.4z" fill="#ffc900" stroke="#ffc900"/>
<path d="M181.9 78.1l9.8 -3 3.7 3 -9.9 3.1z" fill="#ffe900" stroke="#ffe900"/>
<path d="M238.7 71.1l9.9 -2 4 3.4 -10 1.9z" fill="#ffc000" stroke="#ffc000"/>
<path d="M139.7 89.5l9.6 -3.8 3.4 2.9 -9.7 3.9z" fill="#c7ff00" stroke="#c7ff00"/>
<path d="M205.2 75.2l9.8 -2.6 3.8 3.1 -9.9 2.7z" fill="#ffd400" stroke="#ffd400"/>
<path d="M172.2 81.4l9.7 -3.3 3.6 3.1 -9.8 3.3z" fill="#fff900" stroke="#fff900"/>
<path d="M130 93.6l9.7 -4.1 3.3 3 -9.7 4.1z" fill="#acff00" stroke="#acff00"/>
<path d="M228.8 73.3l9.9 -2.2 3.9 3.3 -10 2.2z" fill="#ffc800" stroke="#ffc800"/>
<path d="M120.4 97.8l9.6 -4.2 3.3 3 -9.6 4.3z" fill="#8fff00" stroke="#8fff00"/>
<path d="M162.4 84.9l9.8 -3.5 3.5 3.1 -9.8 3.5z" fill="#f1ff00" stroke="#f1ff00"/>
<path d="M195.4 78.1l9.8 -2.9 3.7 3.2 -9.9 2.9z" fill="#ffe100" stroke="#ffe100"/>
<path d="M110.9 102.3l9.5 -4.5 3.3 3.1 -9.7 4.4z" fill="#71ff00" stroke="#71ff00"/>
<path d="M218.8 75.7l10 -2.4 3.8 3.3 -10 2.4z" fill="#ffd100" stroke="#ffd100"/>
<path d="M101.3 106.8l9.6 -4.5 3.1 3 -9.6 4.6z" fill="#52ff00" stroke="#52ff00"/>
<path d="M152.7 88.6l9.7 -3.7 3.5 3.1 -9.8 3.7z" fill="#daff00" stroke="#daff00"/>
<path d="M185.5 81.2l9.9 -3.1 3.6 3.2 -9.9 3z" fill="#ffef00" stroke="#ffef00"/>
<path d="M143 92.5l9.7 -3.9 3.4 3.1 -9.7 3.9z" fill="#c1ff00" stroke="#c1ff00"/>
<path d="M208.9 78.4l9.9 -2.7 3.8 3.3 -9.9 2.6z" fill="#ffdc00" stroke="#ffdc00"/>
<path d="M175.7 84.5l9.8 -3.3 3.6 3.1 -9.8 3.3z" fill="#ffff00" stroke="#ffff00"/>
<path d="M133.3 96.6l9.7 -4.1 3.4 3.1 -9.8 4.1z" fill="#a6ff00" stroke="#a6ff00"/>
<path d="M123.7 100.9l9.6 -4.3 3.3 3.1 -9.7 4.2z" fill="#8aff00" stroke="#8aff00"/>
<path d="M165.9 88l9.8 -3.5 3.6 3.1 -9.9 3.5z" fill="#eaff00" stroke="#eaff00"/>
<path d="M199 81.3l9.9 -2.9 3.8 3.2 -10 2.9z" fill="#ffe800" stroke="#ffe800"/>
<path d="M114 105.3l9.7 -4.4 3.2 3 -9.7 4.5z" fill="#6cff00" stroke="#6cff00"/>
<path d="M156.1 91.7l9.8 -3.7 3.5 3.1 -9.9 3.8z" fill="#d3ff00" stroke="#d3ff00"/>
<path d="M104.4 109.9l9.6 -4.6 3.2 3.1 -9.7 4.6z" fill="#4dff00" stroke="#4dff00"/>
<path d="M189.1 84.3l9.9 -3 3.7 3.2 -10 3.1z" fill="#fff600" stroke="#fff600"/>
<path d="M146.4 95.6l9.7 -3.9 3.4 3.2 -9.8 3.9z" fill="#baff00" stroke="#baff00"/>
<path d="M179.3 87.6l9.8 -3.3 3.6 3.3 -9.9 3.3z" fill="#f7ff00" stroke="#f7ff00"/>
<path d="M136.6 99.7l9.8 -4.1 3.3 3.2 -9.8 4.1z" fill="#9fff00" stroke="#9fff00"/>
<path d="M126.9 103.9l9.7 -4.2 3.3 3.2 -9.8 4.2z" fill="#83ff00" stroke="#83ff00"/>
<path d="M169.4 91.1l9.9 -3.5 3.5 3.3 -9.9 3.5z" fill="#e2ff00" stroke="#e2ff00"/>
<path d="M117.2 108.4l9.7 -4.5 3.2 3.2 -9.8 4.5z" fill="#66ff00" stroke="#66ff00"/>
<path d="M159.5 94.9l9.9 -3.8 3.5 3.3 -10 3.7z" fill="#cbff00" stroke="#cbff00"/>
<path d="M107.5 113l9.7 -4.6 3.1 3.2 -9.7 4.6z" fill="#47ff00" stroke="#47ff00"/>
<path d="M149.7 98.8l9.8 -3.9 3.4 3.2 -9.9 3.9z" fill="#b2ff00" stroke="#b2ff00"/>
<path d="M139.9 102.9l9.8 -4.1 3.3 3.2 -9.8 4.1z" fill="#98ff00" stroke="#98ff00"/>
<path d="M130.1 107.1l9.8 -4.2 3.3 3.2 -9.9 4.3z" fill="#7cff00" stroke="#7cff00"/>
<path d="M120.3 111.6l9.8 -4.5 3.2 3.3 -9.8 4.5z" fill="#5fff00" stroke="#5fff00"/>
<path d="M110.6 116.2l9.7 -4.6 3.2 3.3 -9.9 4.7z" fill="#41ff00" stroke="#41ff00"/>
</g>
<g fill="none" stroke="#000" stroke-opacity="0.55" stroke-width="0.7">
<polyline points="52.3,72.1 60.8,68.2 69.3,64.5 77.8,61 86.4,57.5 94.9,54.3 103.5,51.1 112.1,48.2 120.6,45.4 129.3,42.7 137.9,40.3 146.5,38 155.1,35.9 163.8,34 172.4,32.2 181.1,30.7 189.8,29.4 198.4,28.2 207.1,27.3 215.7,26.6 224.4,26"/>
<polyline points="52.3,72.1 55.3,73.4 58.4,74.8 61.4,76.4 64.5,78.1 67.5,79.9 70.6,81.8 73.6,83.8 76.7,86 79.8,88.2 82.8,90.6 85.9,93 89,95.6 92,98.3 95.1,101 98.2,103.9 101.3,106.8 104.4,109.9 107.5,113 110.6,116.2 113.6,119.6"/>
<polyline points="55.3,73.4 63.9,69.5 72.5,65.7 81,62.1 89.7,58.6 98.3,55.3 106.9,52.1 115.6,49.1 124.2,46.2 132.9,43.6 141.6,41.1 150.3,38.7 159,36.6 167.7,34.6 176.4,32.9 185.2,31.3 193.9,29.9 202.6,28.8 211.4,27.8 220.1,27.1 228.8,26.5"/>
<polyline points="60.8,68.2 63.9,69.5 67,70.9 70.1,72.4 73.2,74 76.3,75.7 79.5,77.6 82.6,79.6 85.7,81.7 88.8,83.9 92,86.2 95.1,88.6 98.3,91.1 101.4,93.8 104.6,96.5 107.7,99.3 110.9,102.3 114,105.3 117.2,108.4 120.3,111.6 123.5,114.9"/>
<polyline points="58.4,74.8 67,70.9 75.6,67 84.3,63.4 93,59.8 101.7,56.4 110.4,53.2 119.1,50.2 127.8,47.3 136.6,44.5 145.3,42 154.1,39.6 162.9,37.5 171.7,35.5 180.5,33.7 189.3,32.1 198.1,30.7 206.9,29.5 215.7,28.5 224.5,27.7 233.3,27.2"/>
<polyline points="69.3,64.5 72.5,65.7 75.6,67 78.8,68.5 82,70.1 85.2,71.7 88.4,73.6 91.6,75.5 94.8,77.5 98,79.7 101.2,82 104.4,84.3 107.6,86.8 110.8,89.4 114,92.1 117.2,94.9 120.4,97.8 123.7,100.9 126.9,103.9 130.1,107.1 133.3,110.4"/>
<polyline points="61.4,76.4 70.1,72.4 78.8,68.5 87.5,64.7 96.3,61.2 105,57.7 113.8,54.5 122.6,51.3 131.4,48.4 140.2,45.6 149.1,43.1 157.9,40.7 166.7,38.4 175.6,36.4 184.5,34.6 193.3,33 202.2,31.5 211.1,30.3 219.9,29.3 228.8,28.5 237.7,28"/>
<polyline points="77.8,61 81,62.1 84.3,63.4 87.5,64.7 90.8,66.3 94,67.9 97.3,69.7 100.6,71.5 103.8,73.5 107.1,75.7 110.4,77.9 113.6,80.2 116.9,82.7 120.2,85.3 123.5,87.9 126.8,90.7 130,93.6 133.3,96.6 136.6,99.7 139.9,102.9 143.2,106.1"/>
<polyline points="64.5,78.1 73.2,74 82,70.1 90.8,66.3 99.6,62.6 108.4,59.1 117.3,55.8 126.1,52.7 135,49.7 143.9,46.9 152.8,44.3 161.7,41.8 170.6,39.6 179.5,37.5 188.5,35.7 197.4,34 206.4,32.6 215.3,31.3 224.2,30.3 233.2,29.5 242.1,28.9"/>
<polyline points="86.4,57.5 89.7,58.6 93,59.8 96.3,61.2 99.6,62.6 102.9,64.2 106.2,65.9 109.6,67.8 112.9,69.7 116.2,71.8 119.6,74 122.9,76.3 126.3,78.7 129.6,81.3 133,83.9 136.3,86.7 139.7,89.5 143,92.5 146.4,95.6 149.7,98.8 153,102"/>
<polyline points="67.5,79.9 76.3,75.7 85.2,71.7 94,67.9 102.9,64.2 111.8,60.7 120.7,57.3 129.7,54.1 138.6,51.1 147.6,48.3 156.5,45.6 165.5,43.1 174.5,40.9 183.5,38.8 192.5,36.9 201.5,35.2 210.5,33.8 219.5,32.5 228.5,31.5 237.5,30.6 246.5,30"/>
<polyline points="94.9,54.3 98.3,55.3 101.7,56.4 105,57.7 108.4,59.1 111.8,60.7 115.2,62.3 118.6,64.1 122,66.1 125.4,68.1 128.8,70.3 132.2,72.5 135.6,74.9 139.1,77.5 142.5,80.1 145.9,82.8 149.3,85.7 152.7,88.6 156.1,91.7 159.5,94.9 162.9,98.1"/>
<polyline points="70.6,81.8 79.5,77.6 88.4,73.6 97.3,69.7 106.2,65.9 115.2,62.3 124.2,58.9 133.2,55.7 142.2,52.7 151.2,49.8 160.3,47.1 169.3,44.6 178.4,42.3 187.4,40.2 196.5,38.3 205.6,36.6 214.7,35.1 223.7,33.8 232.8,32.8 241.9,31.9 251,31.3"/>
<polyline points="103.5,51.1 106.9,52.1 110.4,53.2 113.8,54.5 117.3,55.8 120.7,57.3 124.2,58.9 127.7,60.7 131.1,62.6 134.6,64.6 138.1,66.7 141.6,69 145,71.3 148.5,73.8 152,76.4 155.5,79.2 159,82 162.4,84.9 165.9,88 169.4,91.1 172.9,94.4"/>
<polyline points="73.6,83.8 82.6,79.6 91.6,75.5 100.6,71.5 109.6,67.8 118.6,64.1 127.7,60.7 136.7,57.4 145.8,54.3 154.9,51.4 164,48.7 173.1,46.2 182.3,43.9 191.4,41.7 200.5,39.8 209.7,38.1 218.8,36.6 228,35.3 237.1,34.2 246.2,33.4 255.4,32.8"/>
<polyline points="112.1,48.2 115.6,49.1 119.1,50.2 122.6,51.3 126.1,52.7 129.7,54.1 133.2,55.7 136.7,57.4 140.3,59.3 143.8,61.2 147.4,63.3 150.9,65.6 154.4,67.9 158,70.4 161.5,73 165.1,75.7 168.6,78.5 172.2,81.4 175.7,84.5 179.3,87.6 182.8,90.9"/>
<polyline points="76.7,86 85.7,81.7 94.8,77.5 103.8,73.5 112.9,69.7 122,66.1 131.1,62.6 140.3,59.3 149.4,56.1 158.6,53.2 167.8,50.5 176.9,47.9 186.1,45.6 195.3,43.4 204.5,41.5 213.8,39.7 223,38.2 232.2,36.9 241.4,35.9 250.6,35 259.8,34.4"/>
<polyline points="120.6,45.4 124.2,46.2 127.8,47.3 131.4,48.4 135,49.7 138.6,51.1 142.2,52.7 145.8,54.3 149.4,56.1 153,58.1 156.6,60.2 160.3,62.4 163.9,64.7 167.5,67.1 171.1,69.7 174.7,72.4 178.3,75.2 181.9,78.1 185.5,81.2 189.1,84.3 192.7,87.6"/>
<polyline points="79.8,88.2 88.8,83.9 98,79.7 107.1,75.7 116.2,71.8 125.4,68.1 134.6,64.6 143.8,61.2 153,58.1 162.3,55.1 171.5,52.4 180.8,49.8 190,47.4 199.3,45.2 208.6,43.3 217.8,41.5 227.1,40 236.4,38.7 245.7,37.6 255,36.8 264.2,36.2"/>
<polyline points="129.3,42.7 132.9,43.6 136.6,44.5 140.2,45.6 143.9,46.9 147.6,48.3 151.2,49.8 154.9,51.4 158.6,53.2 162.3,55.1 165.9,57.2 169.6,59.4 173.3,61.7 177,64.1 180.7,66.7 184.3,69.3 188,72.1 191.7,75.1 195.4,78.1 199,81.3 202.7,84.5"/>
<polyline points="82.8,90.6 92,86.2 101.2,82 110.4,77.9 119.6,74 128.8,70.3 138.1,66.7 147.4,63.3 156.6,60.2 165.9,57.2 175.3,54.4 184.6,51.8 193.9,49.4 203.2,47.2 212.6,45.2 221.9,43.5 231.3,41.9 240.6,40.6 250,39.6 259.3,38.7 268.6,38.1"/>
<polyline points="137.9,40.3 141.6,41.1 145.3,42 149.1,43.1 152.8,44.3 156.5,45.6 160.3,47.1 164,48.7 167.8,50.5 171.5,52.4 175.3,54.4 179,56.5 182.7,58.8 186.5,61.2 190.2,63.8 194,66.5 197.7,69.3 201.5,72.2 205.2,75.2 208.9,78.4 212.7,81.6"/>
<polyline points="85.9,93 95.1,88.6 104.4,84.3 113.6,80.2 122.9,76.3 132.2,72.5 141.6,69 150.9,65.6 160.3,62.4 169.6,59.4 179,56.5 188.4,53.9 197.8,51.5 207.2,49.3 216.6,47.3 226,45.6 235.4,44 244.8,42.7 254.2,41.6 263.6,40.8 273,40.2"/>
<polyline points="146.5,38 150.3,38.7 154.1,39.6 157.9,40.7 161.7,41.8 165.5,43.1 169.3,44.6 173.1,46.2 176.9,47.9 180.8,49.8 184.6,51.8 188.4,53.9 192.2,56.2 196,58.6 199.8,61.1 203.6,63.8 207.4,66.6 211.2,69.5 215,72.6 218.8,75.7 222.6,79"/>
<polyline points="89,95.6 98.3,91.1 107.6,86.8 116.9,82.7 126.3,78.7 135.6,74.9 145,71.3 154.4,67.9 163.9,64.7 173.3,61.7 182.7,58.8 192.2,56.2 201.7,53.8 211.1,51.6 220.6,49.6 230.1,47.8 239.6,46.3 249,45 258.5,43.9 268,43 277.4,42.4"/>
<polyline points="155.1,35.9 159,36.6 162.9,37.5 166.7,38.4 170.6,39.6 174.5,40.9 178.4,42.3 182.3,43.9 186.1,45.6 190,47.4 193.9,49.4 197.8,51.5 201.7,53.8 205.5,56.2 209.4,58.7 213.3,61.4 217.2,64.2 221,67.1 224.9,70.1 228.8,73.3 232.6,76.6"/>
<polyline points="92,98.3 101.4,93.8 110.8,89.4 120.2,85.3 129.6,81.3 139.1,77.5 148.5,73.8 158,70.4 167.5,67.1 177,64.1 186.5,61.2 196,58.6 205.5,56.2 215.1,54 224.6,52 234.2,50.2 243.7,48.7 253.2,47.3 262.8,46.3 272.3,45.4 281.8,44.8"/>
<polyline points="163.8,34 167.7,34.6 171.7,35.5 175.6,36.4 179.5,37.5 183.5,38.8 187.4,40.2 191.4,41.7 195.3,43.4 199.3,45.2 203.2,47.2 207.2,49.3 211.1,51.6 215.1,54 219,56.5 223,59.2 226.9,61.9 230.8,64.9 234.8,67.9 238.7,71.1 242.6,74.4"/>
<polyline points="95.1,101 104.6,96.5 114,92.1 123.5,87.9 133,83.9 142.5,80.1 152,76.4 161.5,73 171.1,69.7 180.7,66.7 190.2,63.8 199.8,61.1 209.4,58.7 219,56.5 228.6,54.5 238.2,52.7 247.8,51.2 257.4,49.9 267,48.8 276.6,48 286.2,47.4"/>
<polyline points="172.4,32.2 176.4,32.9 180.5,33.7 184.5,34.6 188.5,35.7 192.5,36.9 196.5,38.3 200.5,39.8 204.5,41.5 208.6,43.3 212.6,45.2 216.6,47.3 220.6,49.6 224.6,52 228.6,54.5 232.6,57.2 236.6,60 240.6,62.9 244.6,65.9 248.6,69.1 252.6,72.5"/>
<polyline points="98.2,103.9 107.7,99.3 117.2,94.9 126.8,90.7 136.3,86.7 145.9,82.8 155.5,79.2 165.1,75.7 174.7,72.4 184.3,69.3 194,66.5 203.6,63.8 213.3,61.4 223,59.2 232.6,57.2 242.3,55.4 252,53.8 261.6,52.5 271.3,51.5 281,50.7 290.6,50.1"/>
<polyline points="181.1,30.7 185.2,31.3 189.3,32.1 193.3,33 197.4,34 201.5,35.2 205.6,36.6 209.7,38.1 213.8,39.7 217.8,41.5 221.9,43.5 226,45.6 230.1,47.8 234.2,50.2 238.2,52.7 242.3,55.4 246.4,58.2 250.4,61.1 254.5,64.2 258.5,67.4 262.6,70.7"/>
<polyline points="101.3,106.8 110.9,102.3 120.4,97.8 130,93.6 139.7,89.5 149.3,85.7 159,82 168.6,78.5 178.3,75.2 188,72.1 197.7,69.3 207.4,66.6 217.2,64.2 226.9,61.9 236.6,60 246.4,58.2 256.1,56.7 265.8,55.4 275.6,54.3 285.3,53.5 295,53"/>
<polyline points="189.8,29.4 193.9,29.9 198.1,30.7 202.2,31.5 206.4,32.6 210.5,33.8 214.7,35.1 218.8,36.6 223,38.2 227.1,40 231.3,41.9 235.4,44 239.6,46.3 243.7,48.7 247.8,51.2 252,53.8 256.1,56.7 260.2,59.6 264.3,62.7 268.5,65.9 272.6,69.3"/>
<polyline points="104.4,109.9 114,105.3 123.7,100.9 133.3,96.6 143,92.5 152.7,88.6 162.4,84.9 172.2,81.4 181.9,78.1 191.7,75.1 201.5,72.2 211.2,69.5 221,67.1 230.8,64.9 240.6,62.9 250.4,61.1 260.2,59.6 270,58.3 279.8,57.3 289.6,56.5 299.4,56"/>
<polyline points="198.4,28.2 202.6,28.8 206.9,29.5 211.1,30.3 215.3,31.3 219.5,32.5 223.7,33.8 228,35.3 232.2,36.9 236.4,38.7 240.6,40.6 244.8,42.7 249,45 253.2,47.3 257.4,49.9 261.6,52.5 265.8,55.4 270,58.3 274.2,61.4 278.4,64.7 282.5,68.1"/>
<polyline points="107.5,113 117.2,108.4 126.9,103.9 136.6,99.7 146.4,95.6 156.1,91.7 165.9,88 175.7,84.5 185.5,81.2 195.4,78.1 205.2,75.2 215,72.6 224.9,70.1 234.8,67.9 244.6,65.9 254.5,64.2 264.3,62.7 274.2,61.4 284,60.4 293.9,59.7 303.7,59.1"/>
<polyline points="207.1,27.3 211.4,27.8 215.7,28.5 219.9,29.3 224.2,30.3 228.5,31.5 232.8,32.8 237.1,34.2 241.4,35.9 245.7,37.6 250,39.6 254.2,41.6 258.5,43.9 262.8,46.3 267,48.8 271.3,51.5 275.6,54.3 279.8,57.3 284,60.4 288.3,63.7 292.5,67.1"/>
<polyline points="110.6,116.2 120.3,111.6 130.1,107.1 139.9,102.9 149.7,98.8 159.5,94.9 169.4,91.1 179.3,87.6 189.1,84.3 199,81.3 208.9,78.4 218.8,75.7 228.8,73.3 238.7,71.1 248.6,69.1 258.5,67.4 268.5,65.9 278.4,64.7 288.3,63.7 298.2,62.9 308.1,62.5"/>
<polyline points="215.7,26.6 220.1,27.1 224.5,27.7 228.8,28.5 233.2,29.5 237.5,30.6 241.9,31.9 246.2,33.4 250.6,35 255,36.8 259.3,38.7 263.6,40.8 268,43 272.3,45.4 276.6,48 281,50.7 285.3,53.5 289.6,56.5 293.9,59.7 298.2,62.9 302.5,66.4"/>
<polyline points="113.6,119.6 123.5,114.9 133.3,110.4 143.2,106.1 153,102 162.9,98.1 172.9,94.4 182.8,90.9 192.7,87.6 202.7,84.5 212.7,81.6 222.6,79 232.6,76.6 242.6,74.4 252.6,72.5 262.6,70.7 272.6,69.3 282.5,68.1 292.5,67.1 302.5,66.4 312.4,65.9"/>
<polyline points="224.4,26 228.8,26.5 233.3,27.2 237.7,28 242.1,28.9 246.5,30 251,31.3 255.4,32.8 259.8,34.4 264.2,36.2 268.6,38.1 273,40.2 277.4,42.4 281.8,44.8 286.2,47.4 290.6,50.1 295,53 299.4,56 303.7,59.1 308.1,62.5 312.4,65.9"/>
</g>
<line x1="87.2" y1="51.1" x2="87.2" y2="56" stroke="#000" stroke-opacity="0.6" stroke-width="0.6"/>
<line x1="102" y1="59.2" x2="102" y2="66" stroke="#000" stroke-opacity="0.6" stroke-width="0.6"/>
<line x1="117.8" y1="56.1" x2="117.8" y2="66.7" stroke="#000" stroke-opacity="0.6" stroke-width="0.6"/>
<line x1="135.1" y1="59.1" x2="135.1" y2="84.2" stroke="#000" stroke-opacity="0.6" stroke-width="0.6"/>
<line x1="102.8" y1="75.8" x2="102.8" y2="84.2" stroke="#000" stroke-opacity="0.6" stroke-width="0.6"/>
<line x1="98.7" y1="83.5" x2="98.7" y2="95" stroke="#000" stroke-opacity="0.6" stroke-width="0.6"/>
<line x1="156" y1="47" x2="156" y2="53.6" stroke="#000" stroke-opacity="0.6" stroke-width="0.6"/>
<line x1="175" y1="50.7" x2="175" y2="70.4" stroke="#000" stroke-opacity="0.6" stroke-width="0.6"/>
<line x1="265" y1="31" x2="265" y2="38.6" stroke="#000" stroke-opacity="0.6" stroke-width="0.6"/>
<line x1="288.3" y1="34.1" x2="288.3" y2="48.8" stroke="#000" stroke-opacity="0.6" stroke-width="0.6"/>
<circle cx="55" cy="68.2" r="2.9" fill="#c80000" stroke="#8c0000" stroke-width="0.5"/>
<circle cx="58.7" cy="63.8" r="2.9" fill="#c80000" stroke="#8c0000" stroke-width="0.5"/>
<circle cx="87.2" cy="51.1" r="2.9" fill="#c80000" stroke="#8c0000" stroke-width="0.5"/>
<circle cx="102" cy="59.2" r="2.9" fill="#c80000" stroke="#8c0000" stroke-width="0.5"/>
<circle cx="117.8" cy="56.1" r="2.9" fill="#c80000" stroke="#8c0000" stroke-width="0.5"/>
<circle cx="135.1" cy="59.1" r="2.9" fill="#c80000" stroke="#8c0000" stroke-width="0.5"/>
<circle cx="86.7" cy="71.8" r="2.9" fill="#c80000" stroke="#8c0000" stroke-width="0.5"/>
<circle cx="82.8" cy="79.1" r="2.9" fill="#c80000" stroke="#8c0000" stroke-width="0.5"/>
<circle cx="102.8" cy="75.8" r="2.9" fill="#c80000" stroke="#8c0000" stroke-width="0.5"/>
<circle cx="98.7" cy="83.5" r="2.9" fill="#c80000" stroke="#8c0000" stroke-width="0.5"/>
<circle cx="156" cy="47" r="2.9" fill="#c80000" stroke="#8c0000" stroke-width="0.5"/>
<circle cx="175" cy="50.7" r="2.9" fill="#c80000" stroke="#8c0000" stroke-width="0.5"/>
<circle cx="120.8" cy="114.5" r="2.9" fill="#c80000" stroke="#8c0000" stroke-width="0.5"/>
<circle cx="265" cy="31" r="2.9" fill="#c80000" stroke="#8c0000" stroke-width="0.5"/>
<circle cx="288.3" cy="34.1" r="2.9" fill="#c80000" stroke="#8c0000" stroke-width="0.5"/>
<path d="M69 74.3A2.9 2.9 0 0 1 74.8 74.3z" fill="#c80000" stroke="#8c0000" stroke-width="0.5"/>
<text x="50.1" y="145.6" font-size="9.6" text-anchor="end" textLength="22.8" lengthAdjust="spacingAndGlyphs">-5000</text>
<text x="49.3" y="123.4" font-size="9.6" text-anchor="end" textLength="5" lengthAdjust="spacingAndGlyphs">0</text>
<text x="48.5" y="101.3" font-size="9.6" text-anchor="end" textLength="19.9" lengthAdjust="spacingAndGlyphs">5000</text>
<text x="47.7" y="79.1" font-size="9.6" text-anchor="end" textLength="24.8" lengthAdjust="spacingAndGlyphs">10000</text>
<text x="46.9" y="57" font-size="9.6" text-anchor="end" textLength="24.8" lengthAdjust="spacingAndGlyphs">15000</text>
<text x="46" y="34.8" font-size="9.6" text-anchor="end" textLength="24.8" lengthAdjust="spacingAndGlyphs">20000</text>
<text x="45.2" y="12.7" font-size="9.6" text-anchor="end" textLength="24.8" lengthAdjust="spacingAndGlyphs">25000</text>
<text x="48.7" y="200.3" font-size="9.6" text-anchor="middle" textLength="5" lengthAdjust="spacingAndGlyphs">0</text>
<text x="63.6" y="218.2" font-size="9.6" text-anchor="middle" textLength="5" lengthAdjust="spacingAndGlyphs">2</text>
<text x="78.5" y="236" font-size="9.6" text-anchor="middle" textLength="5" lengthAdjust="spacingAndGlyphs">4</text>
<text x="93.4" y="253.8" font-size="9.6" text-anchor="middle" textLength="5" lengthAdjust="spacingAndGlyphs">6</text>
<text x="108.3" y="271.7" font-size="9.6" text-anchor="middle" textLength="5" lengthAdjust="spacingAndGlyphs">8</text>
<text x="121.4" y="271.5" font-size="9.6" textLength="12.4" lengthAdjust="spacingAndGlyphs">0.1</text>
<text x="159.3" y="265.1" font-size="9.6" textLength="17.4" lengthAdjust="spacingAndGlyphs">5.08</text>
<text x="197.2" y="258.8" font-size="9.6" textLength="22.3" lengthAdjust="spacingAndGlyphs">10.06</text>
<text x="235.1" y="252.4" font-size="9.6" textLength="22.3" lengthAdjust="spacingAndGlyphs">15.04</text>
<text x="273" y="246.1" font-size="9.6" textLength="22.3" lengthAdjust="spacingAndGlyphs">20.02</text>
<text x="310.9" y="239.8" font-size="9.6" textLength="9.9" lengthAdjust="spacingAndGlyphs">25</text>
<text transform="translate(9.5,101.8) rotate(-90)" font-size="9.6" text-anchor="middle" textLength="97" lengthAdjust="spacingAndGlyphs">Dynamic modulus (Mpa)</text>
<text x="6.1" y="241.5" font-size="9.6" textLength="40" lengthAdjust="spacingAndGlyphs">A: NR (%)</text>
<text x="216.9" y="279.3" font-size="9.6" textLength="48.8" lengthAdjust="spacingAndGlyphs">B: Freq (Hz)</text>
<text x="146.6" y="336.3" font-size="18" font-family="Liberation Serif, serif" fill="#000" stroke="#000" stroke-width="0.2" textLength="19.5" lengthAdjust="spacingAndGlyphs">(a)</text>
<line x1="401.2" y1="16.7" x2="406.2" y2="159.5" stroke="#6e6e6e" stroke-width="0.75"/>
<line x1="437.3" y1="13.9" x2="440.9" y2="155" stroke="#6e6e6e" stroke-width="0.75"/>
<line x1="473.3" y1="11.1" x2="475.5" y2="150.6" stroke="#6e6e6e" stroke-width="0.75"/>
<line x1="509.3" y1="8.3" x2="510.1" y2="146.2" stroke="#6e6e6e" stroke-width="0.75"/>
<line x1="545.4" y1="5.4" x2="544.8" y2="141.7" stroke="#6e6e6e" stroke-width="0.75"/>
<line x1="581.4" y1="2.6" x2="579.4" y2="137.3" stroke="#6e6e6e" stroke-width="0.75"/>
<line x1="581.4" y1="2.6" x2="579.4" y2="137.3" stroke="#6e6e6e" stroke-width="0.75"/>
<line x1="604.3" y1="12.4" x2="601.2" y2="152.4" stroke="#6e6e6e" stroke-width="0.75"/>
<line x1="627.2" y1="22.2" x2="623.1" y2="167.5" stroke="#6e6e6e" stroke-width="0.75"/>
<line x1="650.2" y1="32" x2="644.9" y2="182.6" stroke="#6e6e6e" stroke-width="0.75"/>
<line x1="673.1" y1="41.8" x2="666.7" y2="197.7" stroke="#6e6e6e" stroke-width="0.75"/>
<line x1="406.2" y1="159.5" x2="579.4" y2="137.3" stroke="#6e6e6e" stroke-width="0.75"/>
<line x1="579.4" y1="137.3" x2="666.7" y2="197.7" stroke="#6e6e6e" stroke-width="0.75"/>
<line x1="405.4" y1="135.7" x2="579.7" y2="114.9" stroke="#6e6e6e" stroke-width="0.75"/>
<line x1="579.7" y1="114.9" x2="667.8" y2="171.7" stroke="#6e6e6e" stroke-width="0.75"/>
<line x1="404.6" y1="111.9" x2="580.1" y2="92.4" stroke="#6e6e6e" stroke-width="0.75"/>
<line x1="580.1" y1="92.4" x2="668.8" y2="145.7" stroke="#6e6e6e" stroke-width="0.75"/>
<line x1="403.7" y1="88.1" x2="580.4" y2="70" stroke="#6e6e6e" stroke-width="0.75"/>
<line x1="580.4" y1="70" x2="669.9" y2="119.7" stroke="#6e6e6e" stroke-width="0.75"/>
<line x1="402.9" y1="64.3" x2="580.7" y2="47.5" stroke="#6e6e6e" stroke-width="0.75"/>
<line x1="580.7" y1="47.5" x2="671" y2="93.8" stroke="#6e6e6e" stroke-width="0.75"/>
<line x1="402.1" y1="40.5" x2="581.1" y2="25.1" stroke="#6e6e6e" stroke-width="0.75"/>
<line x1="581.1" y1="25.1" x2="672" y2="67.8" stroke="#6e6e6e" stroke-width="0.75"/>
<line x1="401.2" y1="16.7" x2="581.4" y2="2.6" stroke="#6e6e6e" stroke-width="0.75"/>
<line x1="581.4" y1="2.6" x2="673.1" y2="41.8" stroke="#6e6e6e" stroke-width="0.75"/>
<line x1="407.8" y1="204.2" x2="406.2" y2="159.5" stroke="#6e6e6e" stroke-width="0.75"/>
<line x1="578.8" y1="179.5" x2="579.4" y2="137.3" stroke="#6e6e6e" stroke-width="0.75"/>
<line x1="664.7" y1="246.5" x2="666.7" y2="197.7" stroke="#6e6e6e" stroke-width="0.75"/>
<polygon points="407.8,204.2 578.8,179.5 664.7,246.5 469.4,280.6" fill="#646464" stroke="#3a3a3a" stroke-width="0.7"/>
<polyline points="423.1,223.2 422.8,221.9 422.6,220.5 422.4,219.1 422.2,218 422.2,217.7 422.1,216.3 422,214.9 421.9,213.6 421.9,213.5 421.9,212.1 421.9,210.6 422,209.8 422,209.2 422.1,207.8 422.3,206.3 422.3,206.2 422.5,204.9 422.7,203.4 422.8,203 423,202" fill="none" stroke="#00ceff" stroke-width="0.9"/>
<polyline points="478.1,279.1 475.8,278.1 474.1,277.2 473.6,277 471.5,275.9 469.3,274.8 467.7,274 467.3,273.7 465.3,272.6 463.4,271.5 461.5,270.4 460.8,270" fill="none" stroke="#00ceff" stroke-width="0.9"/>
<polyline points="499.1,275.5 498.5,275.2 496.5,274.5 494.1,273.4 492.7,272.9 491.7,272.4 489.3,271.4 487.1,270.3 486.6,270.1 484.9,269.3 482.8,268.2 480.7,267.1 480.1,266.7 478.7,266 476.8,264.9 474.9,263.8 473.1,262.6 472.8,262.4 471.3,261.5 469.6,260.3 468,259.2 466.4,258 464.9,256.8 463.7,255.9 463.4,255.6 461.9,254.4 460.5,253.2 459.2,252 457.9,250.8 456.6,249.6 455.4,248.3 454.3,247.1 453.1,245.8 452.1,244.5 451.1,243.3 450.1,242 449.1,240.7 448.2,239.4 447.4,238.1 446.6,236.8 445.8,235.5 445.1,234.2 444.4,232.9 444.3,232.6 443.8,231.5 443.2,230.2 442.6,228.9 442.1,227.5 441.7,226.2 441.3,225 441.2,224.8 440.9,223.4 440.5,222.1 440.2,220.7 440,219.5 440,219.3 439.8,217.9 439.6,216.5 439.5,215.1 439.5,215 439.4,213.7 439.4,212.3 439.4,211.1 439.4,210.9 439.5,209.5 439.6,208 439.7,207.7 439.8,206.6 440,205.1 440.2,204.5 440.3,203.7 440.7,202.2 440.8,201.6 441,200.8 441.5,199.3" fill="none" stroke="#00fffe" stroke-width="0.9"/>
<polyline points="524.1,271.1 521.1,270.2 519.9,269.8 518.3,269.2 515.5,268.3 514.4,267.9 512.8,267.3 510.3,266.3 508.7,265.7 507.8,265.3 505.4,264.3 503.1,263.3 502.6,263.1 500.8,262.2 498.7,261.2 496.6,260.1 496,259.8 494.6,259 492.6,257.9 490.7,256.8 488.9,255.7 488.4,255.3 487.1,254.5 485.5,253.4 483.8,252.2 482.3,251.1 480.7,249.9 479.3,248.7 478,247.6 477.9,247.5 476.5,246.3 475.2,245.1 474,243.8 472.8,242.6 471.7,241.4 470.6,240.1 469.6,238.9 468.6,237.6 467.6,236.3 466.8,235 466.2,234.2 465.9,233.7 465.2,232.4 464.4,231.1 463.7,229.8 463.1,228.5 462.5,227.2 462,225.8 461.8,225.2 461.5,224.5 461.1,223.2 460.7,221.8 460.4,220.4 460.2,219.7 460.1,219.1 459.9,217.7 459.7,216.3 459.6,215.2 459.6,214.9 459.5,213.5 459.5,212.1 459.5,211.5 459.5,210.7 459.7,209.3 459.8,208.1 459.8,207.8 460.1,206.4 460.3,205.1 460.3,205 460.7,203.5 461,202.4 461.1,202.1 461.6,200.6 461.9,199.8 462.2,199.1 462.9,197.6 462.9,197.4 463.6,196.1" fill="none" stroke="#00ffd4" stroke-width="0.9"/>
<polyline points="557.2,265.3 553.3,264.6 552.6,264.4 549.6,263.8 547.8,263.4 546.1,263 542.8,262.2 542.7,262.1 539.6,261.3 537.6,260.7 536.5,260.4 533.6,259.5 532.2,259 530.8,258.5 528.1,257.6 526.6,257 525.5,256.6 523.1,255.6 520.7,254.6 520.4,254.4 518.5,253.5 516.3,252.5 514.2,251.4 513.6,251.1 512.2,250.3 510.2,249.2 508.4,248.1 506.6,247 505.3,246.1 504.9,245.9 503.3,244.7 501.7,243.6 500.3,242.4 498.8,241.2 497.5,240 496.2,238.8 495,237.6 493.8,236.4 492.7,235.1 491.7,233.9 490.7,232.6 489.8,231.4 488.9,230.1 488.2,228.8 487.4,227.5 486.9,226.5 486.8,226.2 486.2,224.9 485.6,223.6 485.1,222.2 484.7,220.9 484.6,220.4 484.4,219.5 484.1,218.2 483.9,216.8 483.8,215.9 483.7,215.4 483.6,214.1 483.6,212.7 483.6,212.2 483.7,211.3 483.8,209.8 483.9,209.1 484,208.4 484.3,207 484.5,206.2 484.7,205.5 485.2,204.1 485.4,203.7 485.8,202.6 486.4,201.3 486.4,201.1 487.2,199.6 487.5,199.1 488.1,198.1 488.8,197.1 489.1,196.6 490.2,195.2 490.3,195 491.6,193.5 491.6,193.4 493.1,191.9" fill="none" stroke="#00ffab" stroke-width="0.9"/>
<polyline points="658.5,241.7 657.2,242.3 656.1,242.8 653.6,243.9 651.9,244.6 650.9,245 648.2,246 645.4,246.9 643.7,247.4 642.6,247.7 639.6,248.5 636.6,249.3 633.5,250 630.3,250.6 627,251.2 623.7,251.7 620.3,252.1 616.9,252.5 613.3,252.8 612.3,252.9 609.7,253.1 606.1,253.2 602.3,253.3 601.6,253.4 598.5,253.4 594.6,253.3 593.8,253.3 590.6,253.2 587.5,253 586.5,252.9 582.3,252.6 581.9,252.6 578,252.1 577,252 573.6,251.5 572.5,251.4 569,250.8 568.4,250.7 564.6,249.9 564.2,249.9 561,249.1 559.3,248.7 557.7,248.3 554.6,247.4 554,247.3 551.7,246.5 548.9,245.6 548.4,245.4 546.3,244.6 543.8,243.6 542.2,242.9 541.5,242.6 539.3,241.6 537.2,240.5 535.2,239.5 534.7,239.2 533.3,238.4 531.6,237.3 529.9,236.1 528.3,235 526.9,233.8 525.5,232.6 524.2,231.5 523,230.2 521.9,229 520.9,227.8 520,226.5 519.1,225.3 518.4,224 517.7,222.7 517.4,222.1 517.1,221.4 516.6,220.1 516.3,218.8 516,217.4 515.9,217.2 515.8,216.1 515.7,214.7 515.7,213.6 515.7,213.3 515.8,211.9 516,210.6 516.1,210.5 516.5,209 516.8,208.1 517,207.6 517.6,206.1 517.8,205.8 518.5,204.6 519,203.7 519.5,203.1 520.4,201.8 520.7,201.5 522,200.1 522.1,199.9 523.6,198.5 523.9,198.3 525.4,197.1 526,196.6 527.3,195.7 528.5,194.9 529.2,194.5 531.3,193.3 531.7,193.1 533.4,192.2 535.6,191.2 535.8,191.1 537.9,190.2 540.3,189.4 541.7,188.9 542.7,188.6 545.2,187.8 547.8,187.2 550.4,186.5 553.1,186 555.9,185.5 557.8,185.2 558.7,185.1 559.1,185 561.6,184.7 564.6,184.4 567.7,184.1 570.8,183.9 574.1,183.8 577.1,183.7 577.4,183.7 580.8,183.7 584.3,183.8" fill="none" stroke="#00ff81" stroke-width="0.9"/>
<circle cx="407.8" cy="204.2" r="1.25" fill="#000"/>
<circle cx="423.2" cy="223.3" r="1.25" fill="#000"/>
<circle cx="438.6" cy="242.4" r="1.25" fill="#000"/>
<circle cx="454" cy="261.5" r="1.25" fill="#000"/>
<circle cx="469.4" cy="280.6" r="1.25" fill="#000"/>
<circle cx="469.4" cy="280.6" r="1.25" fill="#000"/>
<circle cx="508.5" cy="273.8" r="1.25" fill="#000"/>
<circle cx="547.5" cy="267" r="1.25" fill="#000"/>
<circle cx="586.6" cy="260.1" r="1.25" fill="#000"/>
<circle cx="625.7" cy="253.3" r="1.25" fill="#000"/>
<circle cx="664.7" cy="246.5" r="1.25" fill="#000"/>
<circle cx="406.2" cy="159.5" r="1.25" fill="#000"/>
<circle cx="405.4" cy="135.7" r="1.25" fill="#000"/>
<circle cx="404.6" cy="111.9" r="1.25" fill="#000"/>
<circle cx="403.7" cy="88.1" r="1.25" fill="#000"/>
<circle cx="402.9" cy="64.3" r="1.25" fill="#000"/>
<circle cx="402.1" cy="40.5" r="1.25" fill="#000"/>
<circle cx="401.2" cy="16.7" r="1.25" fill="#000"/>
<line x1="407.5" y1="124.2" x2="407.5" y2="121" stroke="#a0a0a0" stroke-width="0.9"/>
<line x1="404.9" y1="129.7" x2="404.9" y2="121" stroke="#a0a0a0" stroke-width="0.9"/>
<line x1="421.9" y1="136" x2="421.9" y2="130" stroke="#a0a0a0" stroke-width="0.9"/>
<line x1="418.7" y1="143.5" x2="418.7" y2="130" stroke="#a0a0a0" stroke-width="0.9"/>
<line x1="436.4" y1="147.4" x2="436.4" y2="141" stroke="#a0a0a0" stroke-width="0.9"/>
<line x1="433.5" y1="156.2" x2="433.5" y2="141" stroke="#a0a0a0" stroke-width="0.9"/>
<line x1="456.1" y1="167.8" x2="456.1" y2="160" stroke="#a0a0a0" stroke-width="0.9"/>
<line x1="452.8" y1="171.1" x2="452.8" y2="158" stroke="#a0a0a0" stroke-width="0.9"/>
<line x1="449.9" y1="177.7" x2="449.9" y2="158" stroke="#a0a0a0" stroke-width="0.9"/>
<line x1="475.1" y1="182.5" x2="475.1" y2="179" stroke="#a0a0a0" stroke-width="0.9"/>
<line x1="470.9" y1="186.2" x2="470.9" y2="179" stroke="#a0a0a0" stroke-width="0.9"/>
<line x1="467.5" y1="193" x2="467.5" y2="180" stroke="#a0a0a0" stroke-width="0.9"/>
<line x1="509.1" y1="170.7" x2="509.1" y2="161.9" stroke="#a0a0a0" stroke-width="0.9"/>
<line x1="550.6" y1="160.7" x2="550.6" y2="149.4" stroke="#a0a0a0" stroke-width="0.9"/>
<line x1="668.8" y1="140" x2="668.8" y2="127" stroke="#a0a0a0" stroke-width="0.9"/>
<circle cx="407.5" cy="124.2" r="2.9" fill="#ffc6c6" stroke="#bf9a9a" stroke-width="0.55"/>
<circle cx="404.9" cy="129.7" r="2.9" fill="#ffc6c6" stroke="#bf9a9a" stroke-width="0.55"/>
<circle cx="421.9" cy="136" r="2.9" fill="#ffc6c6" stroke="#bf9a9a" stroke-width="0.55"/>
<circle cx="418.7" cy="143.5" r="2.9" fill="#ffc6c6" stroke="#bf9a9a" stroke-width="0.55"/>
<circle cx="436.4" cy="147.4" r="2.9" fill="#ffc6c6" stroke="#bf9a9a" stroke-width="0.55"/>
<circle cx="433.5" cy="156.2" r="2.9" fill="#ffc6c6" stroke="#bf9a9a" stroke-width="0.55"/>
<circle cx="456.1" cy="167.8" r="2.9" fill="#ffc6c6" stroke="#bf9a9a" stroke-width="0.55"/>
<circle cx="452.8" cy="171.1" r="2.9" fill="#ffc6c6" stroke="#bf9a9a" stroke-width="0.55"/>
<circle cx="449.9" cy="177.7" r="3.4" fill="#fff" stroke="#dcaaaa" stroke-width="1.1"/>
<circle cx="475.1" cy="182.5" r="2.9" fill="#ffc6c6" stroke="#bf9a9a" stroke-width="0.55"/>
<circle cx="470.9" cy="186.2" r="2.9" fill="#ffc6c6" stroke="#bf9a9a" stroke-width="0.55"/>
<circle cx="467.5" cy="193" r="2.9" fill="#ffc6c6" stroke="#bf9a9a" stroke-width="0.55"/>
<circle cx="509.1" cy="170.7" r="2.9" fill="#ffc6c6" stroke="#bf9a9a" stroke-width="0.55"/>
<circle cx="550.6" cy="160.7" r="2.9" fill="#ffc6c6" stroke="#bf9a9a" stroke-width="0.55"/>
<circle cx="668.8" cy="140" r="2.9" fill="#ffc6c6" stroke="#bf9a9a" stroke-width="0.55"/>
<g stroke-width="0.5">
<path d="M571.5 77.8l8.8 -0.6 4.5 1.5 -8.9 0.6z" fill="#00ff85" stroke="#00ff85"/>
<path d="M562.7 78.5l8.8 -0.7 4.4 1.5 -8.9 0.8z" fill="#00ff83" stroke="#00ff83"/>
<path d="M553.9 79.4l8.8 -0.9 4.3 1.6 -8.9 0.9z" fill="#00ff82" stroke="#00ff82"/>
<path d="M575.9 79.3l8.9 -0.6 4.5 1.7 -9 0.6z" fill="#00ff7d" stroke="#00ff7d"/>
<path d="M545 80.4l8.9 -1 4.2 1.6 -8.9 1z" fill="#00ff83" stroke="#00ff83"/>
<path d="M567 80.1l8.9 -0.8 4.4 1.7 -8.9 0.8z" fill="#00ff7b" stroke="#00ff7b"/>
<path d="M536.2 81.6l8.8 -1.2 4.2 1.6 -8.8 1.3z" fill="#00ff84" stroke="#00ff84"/>
<path d="M558.1 81l8.9 -0.9 4.4 1.7 -9 0.9z" fill="#00ff7a" stroke="#00ff7a"/>
<path d="M580.3 81l9 -0.6 4.4 1.7 -9 0.6z" fill="#00ff76" stroke="#00ff76"/>
<path d="M527.4 83l8.8 -1.4 4.2 1.7 -8.9 1.3z" fill="#00ff87" stroke="#00ff87"/>
<path d="M549.2 82l8.9 -1 4.3 1.7 -8.9 1z" fill="#00ff7a" stroke="#00ff7a"/>
<path d="M571.4 81.8l8.9 -0.8 4.4 1.7 -9 0.8z" fill="#00ff74" stroke="#00ff74"/>
<path d="M518.6 84.5l8.8 -1.5 4.1 1.6 -8.9 1.5z" fill="#00ff8c" stroke="#00ff8c"/>
<path d="M540.4 83.3l8.8 -1.3 4.3 1.7 -9 1.3z" fill="#00ff7c" stroke="#00ff7c"/>
<path d="M509.8 86.2l8.8 -1.7 4 1.6 -8.9 1.7z" fill="#00ff91" stroke="#00ff91"/>
<path d="M562.4 82.7l9 -0.9 4.3 1.7 -9 0.9z" fill="#00ff72" stroke="#00ff72"/>
<path d="M584.7 82.7l9 -0.6 4.5 1.9 -9.1 0.6z" fill="#00ff70" stroke="#00ff70"/>
<path d="M531.5 84.6l8.9 -1.3 4.1 1.7 -8.9 1.3z" fill="#00ff7f" stroke="#00ff7f"/>
<path d="M501 88l8.8 -1.8 3.9 1.6 -8.9 1.9z" fill="#00ff99" stroke="#00ff99"/>
<path d="M553.5 83.7l8.9 -1 4.3 1.7 -9 1.1z" fill="#00ff73" stroke="#00ff73"/>
<path d="M575.7 83.5l9 -0.8 4.4 1.9 -9 0.8z" fill="#00ff6d" stroke="#00ff6d"/>
<path d="M492.2 90l8.8 -2 3.8 1.7 -8.8 2z" fill="#00ffa1" stroke="#00ffa1"/>
<path d="M522.6 86.1l8.9 -1.5 4.1 1.7 -9 1.6z" fill="#00ff83" stroke="#00ff83"/>
<path d="M544.5 85l9 -1.3 4.2 1.8 -9 1.2z" fill="#00ff74" stroke="#00ff74"/>
<path d="M483.4 92.2l8.8 -2.2 3.8 1.7 -8.9 2.2z" fill="#00ffab" stroke="#00ffab"/>
<path d="M513.7 87.8l8.9 -1.7 4 1.8 -8.9 1.7z" fill="#00ff89" stroke="#00ff89"/>
<path d="M566.7 84.4l9 -0.9 4.4 1.9 -9.1 0.9z" fill="#00ff6c" stroke="#00ff6c"/>
<path d="M589.1 84.6l9.1 -0.6 4.5 1.9 -9.1 0.6z" fill="#00ff6a" stroke="#00ff6a"/>
<path d="M474.6 94.5l8.8 -2.3 3.7 1.7 -8.8 2.3z" fill="#00ffb6" stroke="#00ffb6"/>
<path d="M535.6 86.3l8.9 -1.3 4.2 1.7 -9.1 1.4z" fill="#00ff77" stroke="#00ff77"/>
<path d="M504.8 89.7l8.9 -1.9 4 1.8 -9 1.8z" fill="#00ff90" stroke="#00ff90"/>
<path d="M465.8 97l8.8 -2.5 3.7 1.7 -8.9 2.5z" fill="#00ffc2" stroke="#00ffc2"/>
<path d="M557.7 85.5l9 -1.1 4.3 1.9 -9.1 1.1z" fill="#00ff6c" stroke="#00ff6c"/>
<path d="M580.1 85.4l9 -0.8 4.5 1.9 -9.2 0.8z" fill="#00ff68" stroke="#00ff68"/>
<path d="M496 91.7l8.8 -2 3.9 1.7 -8.9 2.1z" fill="#00ff98" stroke="#00ff98"/>
<path d="M526.6 87.9l9 -1.6 4 1.8 -9 1.6z" fill="#00ff7c" stroke="#00ff7c"/>
<path d="M457.1 99.6l8.7 -2.6 3.6 1.7 -8.8 2.7z" fill="#00ffd0" stroke="#00ffd0"/>
<path d="M548.7 86.7l9 -1.2 4.2 1.9 -9.1 1.2z" fill="#00ff6e" stroke="#00ff6e"/>
<path d="M448.3 102.4l8.8 -2.8 3.5 1.8 -8.8 2.8z" fill="#00ffdf" stroke="#00ffdf"/>
<path d="M487.1 93.9l8.9 -2.2 3.8 1.8 -8.9 2.2z" fill="#00ffa2" stroke="#00ffa2"/>
<path d="M517.7 89.6l8.9 -1.7 4 1.8 -9 1.7z" fill="#00ff81" stroke="#00ff81"/>
<path d="M571 86.3l9.1 -0.9 4.3 1.9 -9.1 1z" fill="#00ff66" stroke="#00ff66"/>
<path d="M593.6 86.5l9.1 -0.6 4.5 2 -9.2 0.7z" fill="#00ff66" stroke="#00ff66"/>
<path d="M439.6 105.4l8.7 -3 3.5 1.8 -8.8 3z" fill="#00fff0" stroke="#00fff0"/>
<path d="M478.3 96.2l8.8 -2.3 3.8 1.8 -9 2.3z" fill="#00ffad" stroke="#00ffad"/>
<path d="M539.6 88.1l9.1 -1.4 4.1 1.9 -9.1 1.4z" fill="#00ff71" stroke="#00ff71"/>
<path d="M430.9 108.6l8.7 -3.2 3.4 1.8 -8.8 3.2z" fill="#00fcff" stroke="#00fcff"/>
<path d="M508.7 91.4l9 -1.8 3.9 1.8 -9 1.9z" fill="#00ff88" stroke="#00ff88"/>
<path d="M561.9 87.4l9.1 -1.1 4.3 2 -9.2 1.1z" fill="#00ff67" stroke="#00ff67"/>
<path d="M469.4 98.7l8.9 -2.5 3.6 1.8 -8.9 2.5z" fill="#00ffb9" stroke="#00ffb9"/>
<path d="M422.2 111.9l8.7 -3.3 3.3 1.8 -8.8 3.4z" fill="#00e5ff" stroke="#00e5ff"/>
<path d="M584.4 87.3l9.2 -0.8 4.4 2.1 -9.2 0.8z" fill="#00ff63" stroke="#00ff63"/>
<path d="M413.5 115.4l8.7 -3.5 3.2 1.9 -8.7 3.5z" fill="#00cdff" stroke="#00cdff"/>
<path d="M530.6 89.7l9 -1.6 4.1 1.9 -9.1 1.6z" fill="#00ff75" stroke="#00ff75"/>
<path d="M499.8 93.5l8.9 -2.1 3.9 1.9 -9 2z" fill="#00ff90" stroke="#00ff90"/>
<path d="M460.6 101.4l8.8 -2.7 3.6 1.8 -8.9 2.7z" fill="#00ffc7" stroke="#00ffc7"/>
<path d="M404.8 119.1l8.7 -3.7 3.2 1.9 -8.8 3.7z" fill="#00b2ff" stroke="#00b2ff"/>
<path d="M552.8 88.6l9.1 -1.2 4.2 2 -9.2 1.2z" fill="#00ff68" stroke="#00ff68"/>
<path d="M490.9 95.7l8.9 -2.2 3.8 1.8 -9 2.2z" fill="#00ff9a" stroke="#00ff9a"/>
<path d="M451.8 104.2l8.8 -2.8 3.5 1.8 -8.9 2.9z" fill="#00ffd6" stroke="#00ffd6"/>
<path d="M575.3 88.3l9.1 -1 4.4 2.1 -9.3 0.9z" fill="#00ff62" stroke="#00ff62"/>
<path d="M521.6 91.4l9 -1.7 4 1.9 -9.1 1.7z" fill="#00ff7a" stroke="#00ff7a"/>
<path d="M598 88.6l9.2 -0.7 4.5 2.2 -9.3 0.6z" fill="#00ff62" stroke="#00ff62"/>
<path d="M443 107.2l8.8 -3 3.4 1.9 -8.8 3.1z" fill="#00ffe7" stroke="#00ffe7"/>
<path d="M481.9 98l9 -2.3 3.7 1.8 -9 2.4z" fill="#00ffa5" stroke="#00ffa5"/>
<path d="M543.7 90l9.1 -1.4 4.1 2 -9.1 1.4z" fill="#00ff6b" stroke="#00ff6b"/>
<path d="M512.6 93.3l9 -1.9 3.9 1.9 -9 1.9z" fill="#00ff81" stroke="#00ff81"/>
<path d="M434.2 110.4l8.8 -3.2 3.4 2 -8.9 3.2z" fill="#00fff8" stroke="#00fff8"/>
<path d="M566.1 89.4l9.2 -1.1 4.2 2 -9.2 1.1z" fill="#00ff62" stroke="#00ff62"/>
<path d="M588.8 89.4l9.2 -0.8 4.4 2.1 -9.3 0.8z" fill="#00ff5f" stroke="#00ff5f"/>
<path d="M473 100.5l8.9 -2.5 3.7 1.9 -9 2.6z" fill="#00ffb1" stroke="#00ffb1"/>
<path d="M425.4 113.8l8.8 -3.4 3.3 2 -8.8 3.4z" fill="#00f0ff" stroke="#00f0ff"/>
<path d="M534.6 91.6l9.1 -1.6 4.1 2 -9.2 1.6z" fill="#00ff6f" stroke="#00ff6f"/>
<path d="M503.6 95.3l9 -2 3.9 1.9 -9.1 2.1z" fill="#00ff8a" stroke="#00ff8a"/>
<path d="M416.7 117.3l8.7 -3.5 3.3 2 -8.9 3.5z" fill="#00d8ff" stroke="#00d8ff"/>
<path d="M464.1 103.2l8.9 -2.7 3.6 2 -8.9 2.7z" fill="#00ffbf" stroke="#00ffbf"/>
<path d="M407.9 121l8.8 -3.7 3.1 2 -8.8 3.8z" fill="#00bdff" stroke="#00bdff"/>
<path d="M556.9 90.6l9.2 -1.2 4.2 2 -9.2 1.3z" fill="#00ff63" stroke="#00ff63"/>
<path d="M579.5 90.3l9.3 -0.9 4.3 2.1 -9.3 1z" fill="#00ff5e" stroke="#00ff5e"/>
<path d="M494.6 97.5l9 -2.2 3.8 2 -9.1 2.2z" fill="#00ff93" stroke="#00ff93"/>
<path d="M602.4 90.7l9.3 -0.6 4.4 2.2 -9.3 0.7z" fill="#00ff5f" stroke="#00ff5f"/>
<path d="M455.2 106.1l8.9 -2.9 3.6 2 -9 2.9z" fill="#00ffce" stroke="#00ffce"/>
<path d="M525.5 93.3l9.1 -1.7 4 2 -9.1 1.8z" fill="#00ff75" stroke="#00ff75"/>
<path d="M446.4 109.2l8.8 -3.1 3.5 2 -8.9 3.1z" fill="#00ffdf" stroke="#00ffdf"/>
<path d="M547.8 92l9.1 -1.4 4.2 2.1 -9.2 1.4z" fill="#00ff66" stroke="#00ff66"/>
<path d="M485.6 99.9l9 -2.4 3.7 2 -9 2.4z" fill="#00ff9e" stroke="#00ff9e"/>
<path d="M516.5 95.2l9 -1.9 4 2.1 -9.2 1.9z" fill="#00ff7b" stroke="#00ff7b"/>
<path d="M570.3 91.4l9.2 -1.1 4.3 2.2 -9.3 1.1z" fill="#00ff5e" stroke="#00ff5e"/>
<path d="M437.5 112.4l8.9 -3.2 3.4 2 -9 3.2z" fill="#00fff0" stroke="#00fff0"/>
<path d="M593.1 91.5l9.3 -0.8 4.4 2.3 -9.3 0.8z" fill="#00ff5d" stroke="#00ff5d"/>
<path d="M476.6 102.5l9 -2.6 3.7 2 -9.1 2.6z" fill="#00ffaa" stroke="#00ffaa"/>
<path d="M428.7 115.8l8.8 -3.4 3.3 2 -8.9 3.4z" fill="#00faff" stroke="#00faff"/>
<path d="M538.6 93.6l9.2 -1.6 4.1 2.1 -9.2 1.6z" fill="#00ff6a" stroke="#00ff6a"/>
<path d="M507.4 97.3l9.1 -2.1 3.8 2.1 -9.1 2.1z" fill="#00ff84" stroke="#00ff84"/>
<path d="M419.8 119.3l8.9 -3.5 3.2 2 -8.9 3.6z" fill="#00e1ff" stroke="#00e1ff"/>
<path d="M467.7 105.2l8.9 -2.7 3.6 2 -9 2.7z" fill="#00ffb8" stroke="#00ffb8"/>
<path d="M561.1 92.7l9.2 -1.3 4.2 2.2 -9.3 1.3z" fill="#00ff5f" stroke="#00ff5f"/>
<path d="M411 123.1l8.8 -3.8 3.2 2.1 -8.9 3.8z" fill="#00c7ff" stroke="#00c7ff"/>
<path d="M583.8 92.5l9.3 -1 4.4 2.3 -9.4 0.9z" fill="#00ff5b" stroke="#00ff5b"/>
<path d="M606.8 93l9.3 -0.7 4.5 2.4 -9.4 0.6z" fill="#00ff5d" stroke="#00ff5d"/>
<path d="M498.3 99.5l9.1 -2.2 3.8 2.1 -9.1 2.2z" fill="#00ff8d" stroke="#00ff8d"/>
<path d="M529.5 95.4l9.1 -1.8 4.1 2.1 -9.3 1.8z" fill="#00ff70" stroke="#00ff70"/>
<path d="M458.7 108.1l9 -2.9 3.5 2 -9 3z" fill="#00ffc7" stroke="#00ffc7"/>
<path d="M551.9 94.1l9.2 -1.4 4.1 2.2 -9.2 1.4z" fill="#00ff62" stroke="#00ff62"/>
<path d="M449.8 111.2l8.9 -3.1 3.5 2.1 -9.1 3.1z" fill="#00ffd7" stroke="#00ffd7"/>
<path d="M489.3 101.9l9 -2.4 3.8 2.1 -9.2 2.4z" fill="#00ff98" stroke="#00ff98"/>
<path d="M520.3 97.3l9.2 -1.9 3.9 2.1 -9.2 1.9z" fill="#00ff76" stroke="#00ff76"/>
<path d="M574.5 93.6l9.3 -1.1 4.3 2.2 -9.4 1.2z" fill="#00ff5b" stroke="#00ff5b"/>
<path d="M597.5 93.8l9.3 -0.8 4.4 2.3 -9.4 0.8z" fill="#00ff5b" stroke="#00ff5b"/>
<path d="M440.8 114.4l9 -3.2 3.3 2.1 -8.9 3.2z" fill="#00ffe9" stroke="#00ffe9"/>
<path d="M480.2 104.5l9.1 -2.6 3.6 2.1 -9.1 2.6z" fill="#00ffa4" stroke="#00ffa4"/>
<path d="M542.7 95.7l9.2 -1.6 4.1 2.2 -9.3 1.6z" fill="#00ff66" stroke="#00ff66"/>
<path d="M431.9 117.8l8.9 -3.4 3.4 2.1 -9 3.5z" fill="#00fffc" stroke="#00fffc"/>
<path d="M511.2 99.4l9.1 -2.1 3.9 2.1 -9.2 2.1z" fill="#00ff7f" stroke="#00ff7f"/>
<path d="M423 121.4l8.9 -3.6 3.3 2.2 -9 3.6z" fill="#00eaff" stroke="#00eaff"/>
<path d="M565.2 94.9l9.3 -1.3 4.2 2.3 -9.3 1.3z" fill="#00ff5c" stroke="#00ff5c"/>
<path d="M471.2 107.2l9 -2.7 3.6 2.1 -9.1 2.8z" fill="#00ffb2" stroke="#00ffb2"/>
<path d="M611.2 95.3l9.4 -0.6 4.5 2.4 -9.5 0.7z" fill="#00ff5d" stroke="#00ff5d"/>
<path d="M588.1 94.7l9.4 -0.9 4.3 2.3 -9.4 1z" fill="#00ff59" stroke="#00ff59"/>
<path d="M414.1 125.2l8.9 -3.8 3.2 2.2 -8.9 3.8z" fill="#00d0ff" stroke="#00d0ff"/>
<path d="M533.4 97.5l9.3 -1.8 4 2.2 -9.3 1.8z" fill="#00ff6c" stroke="#00ff6c"/>
<path d="M502.1 101.6l9.1 -2.2 3.8 2.1 -9.2 2.3z" fill="#00ff88" stroke="#00ff88"/>
<path d="M462.2 110.2l9 -3 3.5 2.2 -9.1 2.9z" fill="#00ffc1" stroke="#00ffc1"/>
<path d="M556 96.3l9.2 -1.4 4.2 2.3 -9.4 1.4z" fill="#00ff5f" stroke="#00ff5f"/>
<path d="M453.1 113.3l9.1 -3.1 3.4 2.1 -9.1 3.2z" fill="#00ffd1" stroke="#00ffd1"/>
<path d="M492.9 104l9.2 -2.4 3.7 2.2 -9.2 2.4z" fill="#00ff93" stroke="#00ff93"/>
<path d="M578.7 95.9l9.4 -1.2 4.3 2.4 -9.4 1.2z" fill="#00ff59" stroke="#00ff59"/>
<path d="M524.2 99.4l9.2 -1.9 4 2.2 -9.3 2z" fill="#00ff72" stroke="#00ff72"/>
<path d="M601.8 96.1l9.4 -0.8 4.4 2.5 -9.5 0.8z" fill="#00ff5a" stroke="#00ff5a"/>
<path d="M444.2 116.5l8.9 -3.2 3.4 2.2 -9 3.3z" fill="#00ffe3" stroke="#00ffe3"/>
<path d="M483.8 106.6l9.1 -2.6 3.7 2.2 -9.2 2.7z" fill="#00ff9f" stroke="#00ff9f"/>
<path d="M546.7 97.9l9.3 -1.6 4 2.3 -9.3 1.7z" fill="#00ff63" stroke="#00ff63"/>
<path d="M435.2 120l9 -3.5 3.3 2.3 -9.1 3.4z" fill="#00fff6" stroke="#00fff6"/>
<path d="M515 101.5l9.2 -2.1 3.9 2.3 -9.3 2.1z" fill="#00ff7a" stroke="#00ff7a"/>
<path d="M569.4 97.2l9.3 -1.3 4.3 2.4 -9.5 1.3z" fill="#00ff5a" stroke="#00ff5a"/>
<path d="M615.6 97.8l9.5 -0.7 4.5 2.6 -9.6 0.7z" fill="#00ff5d" stroke="#00ff5d"/>
<path d="M426.2 123.6l9 -3.6 3.2 2.2 -9 3.7z" fill="#00f2ff" stroke="#00f2ff"/>
<path d="M592.4 97.1l9.4 -1 4.3 2.5 -9.4 1z" fill="#00ff58" stroke="#00ff58"/>
<path d="M474.7 109.4l9.1 -2.8 3.6 2.3 -9.1 2.7z" fill="#00ffad" stroke="#00ffad"/>
<path d="M417.3 127.4l8.9 -3.8 3.2 2.3 -9 3.8z" fill="#00d8ff" stroke="#00d8ff"/>
<path d="M537.4 99.7l9.3 -1.8 4 2.4 -9.4 1.8z" fill="#00ff69" stroke="#00ff69"/>
<path d="M505.8 103.8l9.2 -2.3 3.8 2.3 -9.2 2.3z" fill="#00ff84" stroke="#00ff84"/>
<path d="M465.6 112.3l9.1 -2.9 3.6 2.2 -9.2 3z" fill="#00ffbc" stroke="#00ffbc"/>
<path d="M560 98.6l9.4 -1.4 4.1 2.4 -9.4 1.4z" fill="#00ff5d" stroke="#00ff5d"/>
<path d="M583 98.3l9.4 -1.2 4.3 2.5 -9.5 1.2z" fill="#00ff58" stroke="#00ff58"/>
<path d="M606.1 98.6l9.5 -0.8 4.4 2.6 -9.5 0.8z" fill="#00ff5a" stroke="#00ff5a"/>
<path d="M456.5 115.5l9.1 -3.2 3.5 2.3 -9.1 3.2z" fill="#00ffcc" stroke="#00ffcc"/>
<path d="M496.6 106.2l9.2 -2.4 3.8 2.3 -9.3 2.4z" fill="#00ff8f" stroke="#00ff8f"/>
<path d="M528.1 101.7l9.3 -2 3.9 2.4 -9.3 1.9z" fill="#00ff6f" stroke="#00ff6f"/>
<path d="M447.5 118.8l9 -3.3 3.5 2.3 -9.2 3.3z" fill="#00ffdd" stroke="#00ffdd"/>
<path d="M550.7 100.3l9.3 -1.7 4.1 2.4 -9.4 1.7z" fill="#00ff61" stroke="#00ff61"/>
<path d="M487.4 108.9l9.2 -2.7 3.7 2.3 -9.3 2.7z" fill="#00ff9b" stroke="#00ff9b"/>
<path d="M518.8 103.8l9.3 -2.1 3.9 2.3 -9.4 2.2z" fill="#00ff77" stroke="#00ff77"/>
<path d="M438.4 122.2l9.1 -3.4 3.3 2.3 -9.1 3.5z" fill="#00fff0" stroke="#00fff0"/>
<path d="M573.5 99.6l9.5 -1.3 4.2 2.5 -9.5 1.3z" fill="#00ff59" stroke="#00ff59"/>
<path d="M620 100.4l9.6 -0.7 4.4 2.7 -9.6 0.7z" fill="#00ff5e" stroke="#00ff5e"/>
<path d="M596.7 99.6l9.4 -1 4.4 2.6 -9.6 1z" fill="#00ff58" stroke="#00ff58"/>
<path d="M478.3 111.6l9.1 -2.7 3.6 2.3 -9.2 2.8z" fill="#00ffa8" stroke="#00ffa8"/>
<path d="M429.4 125.9l9 -3.7 3.3 2.4 -9.1 3.7z" fill="#00f8ff" stroke="#00f8ff"/>
<path d="M541.3 102.1l9.4 -1.8 4 2.4 -9.4 1.8z" fill="#00ff66" stroke="#00ff66"/>
<path d="M420.4 129.7l9 -3.8 3.2 2.4 -9.1 3.9z" fill="#00dfff" stroke="#00dfff"/>
<path d="M509.6 106.1l9.2 -2.3 3.8 2.4 -9.3 2.3z" fill="#00ff81" stroke="#00ff81"/>
<path d="M469.1 114.6l9.2 -3 3.5 2.4 -9.2 3z" fill="#00ffb7" stroke="#00ffb7"/>
<path d="M564.1 101l9.4 -1.4 4.2 2.5 -9.5 1.5z" fill="#00ff5c" stroke="#00ff5c"/>
<path d="M610.5 101.2l9.5 -0.8 4.4 2.7 -9.6 0.8z" fill="#00ff5b" stroke="#00ff5b"/>
<path d="M587.2 100.8l9.5 -1.2 4.2 2.6 -9.5 1.2z" fill="#00ff58" stroke="#00ff58"/>
<path d="M500.3 108.5l9.3 -2.4 3.7 2.4 -9.3 2.5z" fill="#00ff8b" stroke="#00ff8b"/>
<path d="M532 104l9.3 -1.9 4 2.4 -9.4 2z" fill="#00ff6d" stroke="#00ff6d"/>
<path d="M460 117.8l9.1 -3.2 3.5 2.4 -9.2 3.2z" fill="#00ffc7" stroke="#00ffc7"/>
<path d="M450.8 121.1l9.2 -3.3 3.4 2.4 -9.2 3.3z" fill="#00ffd9" stroke="#00ffd9"/>
<path d="M554.7 102.7l9.4 -1.7 4.1 2.6 -9.5 1.6z" fill="#00ff60" stroke="#00ff60"/>
<path d="M491 111.2l9.3 -2.7 3.7 2.5 -9.3 2.6z" fill="#00ff97" stroke="#00ff97"/>
<path d="M624.4 103.1l9.6 -0.7 4.5 2.8 -9.7 0.7z" fill="#00ff5f" stroke="#00ff5f"/>
<path d="M522.6 106.2l9.4 -2.2 3.9 2.5 -9.4 2.1z" fill="#00ff75" stroke="#00ff75"/>
<path d="M577.7 102.1l9.5 -1.3 4.2 2.6 -9.6 1.3z" fill="#00ff59" stroke="#00ff59"/>
<path d="M600.9 102.2l9.6 -1 4.3 2.7 -9.6 1z" fill="#00ff59" stroke="#00ff59"/>
<path d="M441.7 124.6l9.1 -3.5 3.4 2.4 -9.2 3.6z" fill="#00ffec" stroke="#00ffec"/>
<path d="M481.8 114l9.2 -2.8 3.7 2.4 -9.4 2.9z" fill="#00ffa5" stroke="#00ffa5"/>
<path d="M432.6 128.3l9.1 -3.7 3.3 2.5 -9.2 3.7z" fill="#00feff" stroke="#00feff"/>
<path d="M545.3 104.5l9.4 -1.8 4 2.5 -9.5 1.9z" fill="#00ff65" stroke="#00ff65"/>
<path d="M513.3 108.5l9.3 -2.3 3.9 2.4 -9.4 2.4z" fill="#00ff7e" stroke="#00ff7e"/>
<path d="M423.5 132.2l9.1 -3.9 3.2 2.5 -9.2 3.9z" fill="#00e4ff" stroke="#00e4ff"/>
<path d="M568.2 103.6l9.5 -1.5 4.1 2.6 -9.5 1.5z" fill="#00ff5c" stroke="#00ff5c"/>
<path d="M472.6 117l9.2 -3 3.5 2.5 -9.3 3z" fill="#00ffb4" stroke="#00ffb4"/>
<path d="M614.8 103.9l9.6 -0.8 4.4 2.8 -9.7 0.8z" fill="#00ff5d" stroke="#00ff5d"/>
<path d="M591.4 103.4l9.5 -1.2 4.3 2.7 -9.6 1.2z" fill="#00ff59" stroke="#00ff59"/>
<path d="M535.9 106.5l9.4 -2 3.9 2.6 -9.5 2z" fill="#00ff6c" stroke="#00ff6c"/>
<path d="M504 111l9.3 -2.5 3.8 2.5 -9.4 2.5z" fill="#00ff89" stroke="#00ff89"/>
<path d="M463.4 120.2l9.2 -3.2 3.4 2.5 -9.2 3.2z" fill="#00ffc4" stroke="#00ffc4"/>
<path d="M558.7 105.2l9.5 -1.6 4.1 2.6 -9.6 1.7z" fill="#00ff60" stroke="#00ff60"/>
<path d="M454.2 123.5l9.2 -3.3 3.4 2.5 -9.3 3.4z" fill="#00ffd5" stroke="#00ffd5"/>
<path d="M628.8 105.9l9.7 -0.7 4.4 2.9 -9.7 0.7z" fill="#00ff62" stroke="#00ff62"/>
<path d="M494.7 113.6l9.3 -2.6 3.7 2.5 -9.4 2.7z" fill="#00ff95" stroke="#00ff95"/>
<path d="M581.8 104.7l9.6 -1.3 4.2 2.7 -9.6 1.4z" fill="#00ff5a" stroke="#00ff5a"/>
<path d="M605.2 104.9l9.6 -1 4.3 2.8 -9.6 1.1z" fill="#00ff5b" stroke="#00ff5b"/>
<path d="M526.5 108.6l9.4 -2.1 3.8 2.6 -9.4 2.1z" fill="#00ff74" stroke="#00ff74"/>
<path d="M445 127.1l9.2 -3.6 3.3 2.6 -9.3 3.5z" fill="#00ffe8" stroke="#00ffe8"/>
<path d="M485.3 116.5l9.4 -2.9 3.6 2.6 -9.4 2.8z" fill="#00ffa2" stroke="#00ffa2"/>
<path d="M549.2 107.1l9.5 -1.9 4 2.7 -9.5 1.8z" fill="#00ff65" stroke="#00ff65"/>
<path d="M435.8 130.8l9.2 -3.7 3.2 2.5 -9.2 3.8z" fill="#00fffc" stroke="#00fffc"/>
<path d="M517.1 111l9.4 -2.4 3.8 2.6 -9.5 2.4z" fill="#00ff7d" stroke="#00ff7d"/>
<path d="M426.6 134.7l9.2 -3.9 3.2 2.6 -9.2 3.9z" fill="#00e9ff" stroke="#00e9ff"/>
<path d="M572.3 106.2l9.5 -1.5 4.2 2.8 -9.6 1.5z" fill="#00ff5c" stroke="#00ff5c"/>
<path d="M619.1 106.7l9.7 -0.8 4.4 2.9 -9.7 0.9z" fill="#00ff5f" stroke="#00ff5f"/>
<path d="M595.6 106.1l9.6 -1.2 4.3 2.9 -9.7 1.1z" fill="#00ff5b" stroke="#00ff5b"/>
<path d="M476 119.5l9.3 -3 3.6 2.5 -9.4 3.1z" fill="#00ffb1" stroke="#00ffb1"/>
<path d="M539.7 109.1l9.5 -2 4 2.6 -9.6 2.1z" fill="#00ff6b" stroke="#00ff6b"/>
<path d="M507.7 113.5l9.4 -2.5 3.7 2.6 -9.5 2.5z" fill="#00ff88" stroke="#00ff88"/>
<path d="M466.8 122.7l9.2 -3.2 3.5 2.6 -9.3 3.2z" fill="#00ffc1" stroke="#00ffc1"/>
<path d="M562.7 107.9l9.6 -1.7 4.1 2.8 -9.7 1.7z" fill="#00ff60" stroke="#00ff60"/>
<path d="M633.2 108.8l9.7 -0.7 4.5 3 -9.8 0.8z" fill="#00ff66" stroke="#00ff66"/>
<path d="M457.5 126.1l9.3 -3.4 3.4 2.6 -9.4 3.4z" fill="#00ffd3" stroke="#00ffd3"/>
<path d="M586 107.5l9.6 -1.4 4.2 2.8 -9.7 1.4z" fill="#00ff5c" stroke="#00ff5c"/>
<path d="M609.5 107.8l9.6 -1.1 4.4 3 -9.8 1z" fill="#00ff5e" stroke="#00ff5e"/>
<path d="M498.3 116.2l9.4 -2.7 3.6 2.6 -9.4 2.7z" fill="#00ff94" stroke="#00ff94"/>
<path d="M530.3 111.2l9.4 -2.1 3.9 2.7 -9.5 2.2z" fill="#00ff73" stroke="#00ff73"/>
<path d="M448.2 129.6l9.3 -3.5 3.3 2.6 -9.3 3.6z" fill="#00ffe5" stroke="#00ffe5"/>
<path d="M553.2 109.7l9.5 -1.8 4 2.8 -9.6 1.8z" fill="#00ff65" stroke="#00ff65"/>
<path d="M488.9 119l9.4 -2.8 3.6 2.6 -9.5 2.9z" fill="#00ffa1" stroke="#00ffa1"/>
<path d="M439 133.4l9.2 -3.8 3.3 2.7 -9.3 3.8z" fill="#00fff9" stroke="#00fff9"/>
<path d="M520.8 113.6l9.5 -2.4 3.8 2.8 -9.6 2.3z" fill="#00ff7c" stroke="#00ff7c"/>
<path d="M623.5 109.7l9.7 -0.9 4.4 3.1 -9.8 0.8z" fill="#00ff63" stroke="#00ff63"/>
<path d="M576.4 109l9.6 -1.5 4.1 2.8 -9.7 1.5z" fill="#00ff5e" stroke="#00ff5e"/>
<path d="M599.8 108.9l9.7 -1.1 4.2 2.9 -9.7 1.2z" fill="#00ff5d" stroke="#00ff5d"/>
<path d="M429.8 137.3l9.2 -3.9 3.2 2.7 -9.3 4z" fill="#00ecff" stroke="#00ecff"/>
<path d="M479.5 122.1l9.4 -3.1 3.5 2.7 -9.4 3.1z" fill="#00ffb0" stroke="#00ffb0"/>
<path d="M543.6 111.8l9.6 -2.1 3.9 2.8 -9.6 2.1z" fill="#00ff6c" stroke="#00ff6c"/>
<path d="M511.3 116.1l9.5 -2.5 3.7 2.7 -9.5 2.6z" fill="#00ff87" stroke="#00ff87"/>
<path d="M470.2 125.3l9.3 -3.2 3.5 2.7 -9.4 3.3z" fill="#00ffc0" stroke="#00ffc0"/>
<path d="M637.6 111.9l9.8 -0.8 4.4 3.2 -9.8 0.7z" fill="#00ff6b" stroke="#00ff6b"/>
<path d="M566.7 110.7l9.7 -1.7 4 2.8 -9.7 1.7z" fill="#00ff62" stroke="#00ff62"/>
<path d="M613.7 110.7l9.8 -1 4.3 3 -9.8 1.1z" fill="#00ff61" stroke="#00ff61"/>
<path d="M590.1 110.3l9.7 -1.4 4.2 3 -9.7 1.4z" fill="#00ff5e" stroke="#00ff5e"/>
<path d="M460.8 128.7l9.4 -3.4 3.4 2.8 -9.4 3.4z" fill="#00ffd1" stroke="#00ffd1"/>
<path d="M501.9 118.8l9.4 -2.7 3.7 2.8 -9.5 2.7z" fill="#00ff93" stroke="#00ff93"/>
<path d="M534.1 114l9.5 -2.2 3.9 2.8 -9.6 2.2z" fill="#00ff74" stroke="#00ff74"/>
<path d="M451.5 132.3l9.3 -3.6 3.4 2.8 -9.4 3.6z" fill="#00ffe4" stroke="#00ffe4"/>
<path d="M557.1 112.5l9.6 -1.8 4 2.8 -9.6 1.9z" fill="#00ff67" stroke="#00ff67"/>
<path d="M492.4 121.7l9.5 -2.9 3.6 2.8 -9.5 2.9z" fill="#00ffa0" stroke="#00ffa0"/>
<path d="M627.8 112.7l9.8 -0.8 4.4 3.1 -9.9 0.9z" fill="#00ff68" stroke="#00ff68"/>
<path d="M442.2 136.1l9.3 -3.8 3.3 2.8 -9.4 3.8z" fill="#00fff8" stroke="#00fff8"/>
<path d="M524.5 116.3l9.6 -2.3 3.8 2.8 -9.6 2.4z" fill="#00ff7d" stroke="#00ff7d"/>
<path d="M580.4 111.8l9.7 -1.5 4.2 3 -9.8 1.5z" fill="#00ff61" stroke="#00ff61"/>
<path d="M604 111.9l9.7 -1.2 4.3 3.1 -9.8 1.2z" fill="#00ff61" stroke="#00ff61"/>
<path d="M432.9 140.1l9.3 -4 3.2 2.8 -9.3 4z" fill="#00eeff" stroke="#00eeff"/>
<path d="M483 124.8l9.4 -3.1 3.6 2.8 -9.5 3.1z" fill="#00ffaf" stroke="#00ffaf"/>
<path d="M547.5 114.6l9.6 -2.1 4 2.9 -9.7 2.1z" fill="#00ff6d" stroke="#00ff6d"/>
<path d="M515 118.9l9.5 -2.6 3.8 2.9 -9.6 2.5z" fill="#00ff87" stroke="#00ff87"/>
<path d="M642 115l9.8 -0.7 4.5 3.3 -9.9 0.7z" fill="#00ff70" stroke="#00ff70"/>
<path d="M473.6 128.1l9.4 -3.3 3.5 2.8 -9.5 3.3z" fill="#00ffbf" stroke="#00ffbf"/>
<path d="M570.7 113.5l9.7 -1.7 4.1 3 -9.7 1.8z" fill="#00ff64" stroke="#00ff64"/>
<path d="M618 113.8l9.8 -1.1 4.3 3.2 -9.8 1.1z" fill="#00ff66" stroke="#00ff66"/>
<path d="M594.3 113.3l9.7 -1.4 4.2 3.1 -9.8 1.4z" fill="#00ff62" stroke="#00ff62"/>
<path d="M505.5 121.6l9.5 -2.7 3.7 2.8 -9.6 2.8z" fill="#00ff93" stroke="#00ff93"/>
<path d="M537.9 116.8l9.6 -2.2 3.9 2.9 -9.7 2.2z" fill="#00ff75" stroke="#00ff75"/>
<path d="M464.2 131.5l9.4 -3.4 3.4 2.8 -9.5 3.5z" fill="#00ffd0" stroke="#00ffd0"/>
<path d="M454.8 135.1l9.4 -3.6 3.3 2.9 -9.4 3.6z" fill="#00ffe3" stroke="#00ffe3"/>
<path d="M561.1 115.4l9.6 -1.9 4.1 3.1 -9.8 1.9z" fill="#00ff69" stroke="#00ff69"/>
<path d="M632.1 115.9l9.9 -0.9 4.4 3.3 -10 0.9z" fill="#00ff6d" stroke="#00ff6d"/>
<path d="M496 124.5l9.5 -2.9 3.6 2.9 -9.6 2.9z" fill="#00ffa0" stroke="#00ffa0"/>
<path d="M584.5 114.8l9.8 -1.5 4.1 3.1 -9.8 1.6z" fill="#00ff64" stroke="#00ff64"/>
<path d="M608.2 115l9.8 -1.2 4.3 3.2 -9.9 1.2z" fill="#00ff65" stroke="#00ff65"/>
<path d="M528.3 119.2l9.6 -2.4 3.8 2.9 -9.7 2.4z" fill="#00ff7e" stroke="#00ff7e"/>
<path d="M445.4 138.9l9.4 -3.8 3.3 2.9 -9.5 3.9z" fill="#00fff7" stroke="#00fff7"/>
<path d="M436.1 142.9l9.3 -4 3.2 3 -9.4 4z" fill="#00efff" stroke="#00efff"/>
<path d="M486.5 127.6l9.5 -3.1 3.5 2.9 -9.5 3.2z" fill="#00ffaf" stroke="#00ffaf"/>
<path d="M646.4 118.3l9.9 -0.7 4.4 3.4 -10 0.8z" fill="#00ff77" stroke="#00ff77"/>
<path d="M551.4 117.5l9.7 -2.1 3.9 3.1 -9.7 2z" fill="#00ff70" stroke="#00ff70"/>
<path d="M518.7 121.7l9.6 -2.5 3.7 2.9 -9.6 2.6z" fill="#00ff89" stroke="#00ff89"/>
<path d="M622.3 117l9.8 -1.1 4.3 3.3 -9.9 1.1z" fill="#00ff6b" stroke="#00ff6b"/>
<path d="M574.8 116.6l9.7 -1.8 4.1 3.2 -9.8 1.7z" fill="#00ff68" stroke="#00ff68"/>
<path d="M477 130.9l9.5 -3.3 3.5 3 -9.6 3.3z" fill="#00ffbf" stroke="#00ffbf"/>
<path d="M598.4 116.4l9.8 -1.4 4.2 3.2 -9.9 1.4z" fill="#00ff66" stroke="#00ff66"/>
<path d="M541.7 119.7l9.7 -2.2 3.9 3 -9.8 2.3z" fill="#00ff77" stroke="#00ff77"/>
<path d="M509.1 124.5l9.6 -2.8 3.7 3 -9.7 2.8z" fill="#00ff95" stroke="#00ff95"/>
<path d="M467.5 134.4l9.5 -3.5 3.4 3 -9.5 3.5z" fill="#00ffd0" stroke="#00ffd0"/>
<path d="M636.4 119.2l10 -0.9 4.3 3.5 -10 0.9z" fill="#00ff73" stroke="#00ff73"/>
<path d="M565 118.5l9.8 -1.9 4 3.1 -9.8 1.9z" fill="#00ff6d" stroke="#00ff6d"/>
<path d="M458.1 138l9.4 -3.6 3.4 3 -9.5 3.7z" fill="#00ffe3" stroke="#00ffe3"/>
<path d="M612.4 118.2l9.9 -1.2 4.2 3.3 -9.9 1.3z" fill="#00ff6b" stroke="#00ff6b"/>
<path d="M588.6 118l9.8 -1.6 4.1 3.2 -9.9 1.6z" fill="#00ff68" stroke="#00ff68"/>
<path d="M499.5 127.4l9.6 -2.9 3.6 3 -9.6 3z" fill="#00ffa2" stroke="#00ffa2"/>
<path d="M532 122.1l9.7 -2.4 3.8 3.1 -9.7 2.4z" fill="#00ff80" stroke="#00ff80"/>
<path d="M448.6 141.9l9.5 -3.9 3.3 3.1 -9.5 3.9z" fill="#00fff7" stroke="#00fff7"/>
<path d="M650.7 121.8l10 -0.8 4.4 3.6 -10 0.7z" fill="#00ff7e" stroke="#00ff7e"/>
<path d="M490 130.6l9.5 -3.2 3.6 3.1 -9.6 3.1z" fill="#00ffb0" stroke="#00ffb0"/>
<path d="M439.2 145.9l9.4 -4 3.3 3.1 -9.5 4z" fill="#00f0ff" stroke="#00f0ff"/>
<path d="M555.3 120.5l9.7 -2 4 3.1 -9.9 2.1z" fill="#00ff73" stroke="#00ff73"/>
<path d="M626.5 120.3l9.9 -1.1 4.3 3.5 -9.9 1.1z" fill="#00ff72" stroke="#00ff72"/>
<path d="M522.4 124.7l9.6 -2.6 3.8 3.1 -9.7 2.6z" fill="#00ff8b" stroke="#00ff8b"/>
<path d="M578.8 119.7l9.8 -1.7 4 3.2 -9.8 1.8z" fill="#00ff6c" stroke="#00ff6c"/>
<path d="M602.5 119.6l9.9 -1.4 4.2 3.4 -10 1.4z" fill="#00ff6c" stroke="#00ff6c"/>
<path d="M480.4 133.9l9.6 -3.3 3.5 3 -9.7 3.4z" fill="#00ffc0" stroke="#00ffc0"/>
<path d="M545.5 122.8l9.8 -2.3 3.8 3.2 -9.8 2.3z" fill="#00ff7b" stroke="#00ff7b"/>
<path d="M512.7 127.5l9.7 -2.8 3.7 3.1 -9.8 2.9z" fill="#00ff97" stroke="#00ff97"/>
<path d="M470.9 137.4l9.5 -3.5 3.4 3.1 -9.6 3.5z" fill="#00ffd1" stroke="#00ffd1"/>
<path d="M640.7 122.7l10 -0.9 4.4 3.5 -10 1z" fill="#00ff7b" stroke="#00ff7b"/>
<path d="M569 121.6l9.8 -1.9 4 3.3 -9.9 1.9z" fill="#00ff71" stroke="#00ff71"/>
<path d="M616.6 121.6l9.9 -1.3 4.3 3.5 -10 1.2z" fill="#00ff71" stroke="#00ff71"/>
<path d="M592.6 121.2l9.9 -1.6 4.1 3.4 -9.9 1.6z" fill="#00ff6e" stroke="#00ff6e"/>
<path d="M461.4 141.1l9.5 -3.7 3.3 3.1 -9.6 3.7z" fill="#00ffe4" stroke="#00ffe4"/>
<path d="M503.1 130.5l9.6 -3 3.6 3.2 -9.7 2.9z" fill="#00ffa4" stroke="#00ffa4"/>
<path d="M535.8 125.2l9.7 -2.4 3.8 3.2 -9.8 2.4z" fill="#00ff84" stroke="#00ff84"/>
<path d="M655.1 125.3l10 -0.7 4.4 3.7 -10 0.7z" fill="#00ff86" stroke="#00ff86"/>
<path d="M451.9 145l9.5 -3.9 3.2 3.1 -9.5 3.9z" fill="#00fff8" stroke="#00fff8"/>
<path d="M559.1 123.7l9.9 -2.1 3.9 3.3 -9.9 2.1z" fill="#00ff77" stroke="#00ff77"/>
<path d="M493.5 133.6l9.6 -3.1 3.5 3.1 -9.7 3.2z" fill="#00ffb2" stroke="#00ffb2"/>
<path d="M630.8 123.8l9.9 -1.1 4.4 3.6 -10.1 1.1z" fill="#00ff79" stroke="#00ff79"/>
<path d="M442.4 149l9.5 -4 3.2 3.1 -9.6 4.2z" fill="#00efff" stroke="#00efff"/>
<path d="M582.8 123l9.8 -1.8 4.1 3.4 -9.9 1.7z" fill="#00ff71" stroke="#00ff71"/>
<path d="M526.1 127.8l9.7 -2.6 3.7 3.2 -9.8 2.7z" fill="#00ff8e" stroke="#00ff8e"/>
<path d="M606.6 123l10 -1.4 4.2 3.4 -10 1.5z" fill="#00ff72" stroke="#00ff72"/>
<path d="M483.8 137l9.7 -3.4 3.4 3.2 -9.6 3.4z" fill="#00ffc2" stroke="#00ffc2"/>
<path d="M549.3 126l9.8 -2.3 3.9 3.3 -9.9 2.3z" fill="#00ff7f" stroke="#00ff7f"/>
<path d="M645.1 126.3l10 -1 4.4 3.7 -10.2 1z" fill="#00ff83" stroke="#00ff83"/>
<path d="M516.3 130.7l9.8 -2.9 3.6 3.3 -9.7 2.8z" fill="#00ff9a" stroke="#00ff9a"/>
<path d="M474.2 140.5l9.6 -3.5 3.5 3.2 -9.7 3.6z" fill="#00ffd3" stroke="#00ffd3"/>
<path d="M572.9 124.9l9.9 -1.9 4 3.3 -10 2z" fill="#00ff76" stroke="#00ff76"/>
<path d="M620.8 125l10 -1.2 4.2 3.6 -10.1 1.2z" fill="#00ff78" stroke="#00ff78"/>
<path d="M596.7 124.6l9.9 -1.6 4.2 3.5 -10 1.6z" fill="#00ff74" stroke="#00ff74"/>
<path d="M464.6 144.2l9.6 -3.7 3.4 3.3 -9.7 3.7z" fill="#00ffe6" stroke="#00ffe6"/>
<path d="M506.6 133.6l9.7 -2.9 3.7 3.2 -9.8 3z" fill="#00ffa7" stroke="#00ffa7"/>
<path d="M539.5 128.4l9.8 -2.4 3.8 3.3 -9.8 2.5z" fill="#00ff88" stroke="#00ff88"/>
<path d="M455.1 148.1l9.5 -3.9 3.3 3.3 -9.6 4z" fill="#00fff9" stroke="#00fff9"/>
<path d="M635 127.4l10.1 -1.1 4.2 3.7 -10.1 1.1z" fill="#00ff81" stroke="#00ff81"/>
<path d="M563 127l9.9 -2.1 3.9 3.4 -9.9 2.1z" fill="#00ff7c" stroke="#00ff7c"/>
<path d="M496.9 136.8l9.7 -3.2 3.6 3.3 -9.8 3.2z" fill="#00ffb5" stroke="#00ffb5"/>
<path d="M610.8 126.5l10 -1.5 4.1 3.6 -10 1.5z" fill="#00ff79" stroke="#00ff79"/>
<path d="M586.8 126.3l9.9 -1.7 4.1 3.5 -10 1.8z" fill="#00ff77" stroke="#00ff77"/>
<path d="M445.5 152.3l9.6 -4.2 3.2 3.4 -9.6 4.1z" fill="#00ecff" stroke="#00ecff"/>
<path d="M529.7 131.1l9.8 -2.7 3.8 3.4 -9.9 2.7z" fill="#00ff92" stroke="#00ff92"/>
<path d="M487.3 140.2l9.6 -3.4 3.5 3.3 -9.7 3.4z" fill="#00ffc5" stroke="#00ffc5"/>
<path d="M553.1 129.3l9.9 -2.3 3.9 3.4 -9.9 2.4z" fill="#00ff84" stroke="#00ff84"/>
<path d="M520 133.9l9.7 -2.8 3.7 3.4 -9.8 2.8z" fill="#00ff9e" stroke="#00ff9e"/>
<path d="M624.9 128.6l10.1 -1.2 4.2 3.7 -10.1 1.3z" fill="#00ff80" stroke="#00ff80"/>
<path d="M576.8 128.3l10 -2 4 3.6 -10 1.9z" fill="#00ff7c" stroke="#00ff7c"/>
<path d="M477.6 143.8l9.7 -3.6 3.4 3.3 -9.8 3.6z" fill="#00ffd6" stroke="#00ffd6"/>
<path d="M600.8 128.1l10 -1.6 4.1 3.6 -10.1 1.6z" fill="#00ff7b" stroke="#00ff7b"/>
<path d="M543.3 131.8l9.8 -2.5 3.9 3.5 -10 2.5z" fill="#00ff8d" stroke="#00ff8d"/>
<path d="M467.9 147.5l9.7 -3.7 3.3 3.3 -9.7 3.8z" fill="#00ffe8" stroke="#00ffe8"/>
<path d="M510.2 136.9l9.8 -3 3.6 3.4 -9.9 3.1z" fill="#00ffab" stroke="#00ffab"/>
<path d="M566.9 130.4l9.9 -2.1 4 3.5 -10 2.2z" fill="#00ff82" stroke="#00ff82"/>
<path d="M458.3 151.5l9.6 -4 3.3 3.4 -9.7 4z" fill="#00fffc" stroke="#00fffc"/>
<path d="M614.9 130.1l10 -1.5 4.2 3.8 -10.1 1.4z" fill="#00ff81" stroke="#00ff81"/>
<path d="M590.8 129.9l10 -1.8 4 3.6 -10 1.8z" fill="#00ff7e" stroke="#00ff7e"/>
<path d="M500.4 140.1l9.8 -3.2 3.5 3.5 -9.8 3.2z" fill="#00ffb9" stroke="#00ffb9"/>
<path d="M533.4 134.5l9.9 -2.7 3.7 3.5 -9.9 2.7z" fill="#00ff97" stroke="#00ff97"/>
<path d="M448.7 155.6l9.6 -4.1 3.2 3.4 -9.7 4.2z" fill="#00e9ff" stroke="#00e9ff"/>
<path d="M490.7 143.5l9.7 -3.4 3.5 3.5 -9.8 3.4z" fill="#00ffc9" stroke="#00ffc9"/>
<path d="M557 132.8l9.9 -2.4 3.9 3.6 -10 2.3z" fill="#00ff8a" stroke="#00ff8a"/>
<path d="M523.6 137.3l9.8 -2.8 3.7 3.5 -9.9 2.8z" fill="#00ffa3" stroke="#00ffa3"/>
<path d="M580.8 131.8l10 -1.9 4 3.6 -10.1 2z" fill="#00ff83" stroke="#00ff83"/>
<path d="M604.8 131.7l10.1 -1.6 4.1 3.7 -10.1 1.7z" fill="#00ff83" stroke="#00ff83"/>
<path d="M480.9 147.1l9.8 -3.6 3.4 3.5 -9.8 3.6z" fill="#00ffda" stroke="#00ffda"/>
<path d="M547 135.3l10 -2.5 3.8 3.5 -10 2.6z" fill="#00ff93" stroke="#00ff93"/>
<path d="M513.7 140.4l9.9 -3.1 3.6 3.5 -9.9 3.1z" fill="#00ffb0" stroke="#00ffb0"/>
<path d="M471.2 150.9l9.7 -3.8 3.4 3.5 -9.8 3.9z" fill="#00ffec" stroke="#00ffec"/>
<path d="M570.8 134l10 -2.2 3.9 3.7 -10.1 2.2z" fill="#00ff89" stroke="#00ff89"/>
<path d="M594.8 133.5l10 -1.8 4.1 3.8 -10.2 1.8z" fill="#00ff86" stroke="#00ff86"/>
<path d="M461.5 154.9l9.7 -4 3.3 3.6 -9.8 4z" fill="#00feff" stroke="#00feff"/>
<path d="M503.9 143.6l9.8 -3.2 3.6 3.5 -9.9 3.3z" fill="#00ffbe" stroke="#00ffbe"/>
<path d="M537.1 138l9.9 -2.7 3.8 3.6 -10 2.7z" fill="#00ff9d" stroke="#00ff9d"/>
<path d="M451.8 159.1l9.7 -4.2 3.2 3.6 -9.7 4.2z" fill="#00e5ff" stroke="#00e5ff"/>
<path d="M560.8 136.3l10 -2.3 3.8 3.7 -10 2.4z" fill="#00ff91" stroke="#00ff91"/>
<path d="M494.1 147l9.8 -3.4 3.5 3.6 -9.9 3.4z" fill="#00ffcd" stroke="#00ffcd"/>
<path d="M584.7 135.5l10.1 -2 3.9 3.8 -10.1 2z" fill="#00ff8b" stroke="#00ff8b"/>
<path d="M527.2 140.8l9.9 -2.8 3.7 3.6 -10 2.9z" fill="#00ffa8" stroke="#00ffa8"/>
<path d="M484.3 150.6l9.8 -3.6 3.4 3.6 -9.8 3.7z" fill="#00ffde" stroke="#00ffde"/>
<path d="M550.8 138.9l10 -2.6 3.8 3.8 -10.1 2.5z" fill="#00ff9a" stroke="#00ff9a"/>
<path d="M517.3 143.9l9.9 -3.1 3.6 3.7 -10 3.1z" fill="#00ffb5" stroke="#00ffb5"/>
<path d="M474.5 154.5l9.8 -3.9 3.4 3.7 -9.9 3.8z" fill="#00fff1" stroke="#00fff1"/>
<path d="M574.6 137.7l10.1 -2.2 3.9 3.8 -10.1 2.2z" fill="#00ff91" stroke="#00ff91"/>
<path d="M464.7 158.5l9.8 -4 3.3 3.6 -9.8 4.1z" fill="#00f9ff" stroke="#00f9ff"/>
<path d="M507.4 147.2l9.9 -3.3 3.5 3.7 -9.9 3.3z" fill="#00ffc4" stroke="#00ffc4"/>
<path d="M540.8 141.6l10 -2.7 3.7 3.7 -10 2.7z" fill="#00ffa4" stroke="#00ffa4"/>
<path d="M455 162.7l9.7 -4.2 3.3 3.7 -9.8 4.2z" fill="#00dfff" stroke="#00dfff"/>
<path d="M564.6 140.1l10 -2.4 3.9 3.8 -10.1 2.4z" fill="#00ff99" stroke="#00ff99"/>
<path d="M497.5 150.6l9.9 -3.4 3.5 3.7 -10 3.5z" fill="#00ffd3" stroke="#00ffd3"/>
<path d="M530.8 144.5l10 -2.9 3.7 3.7 -10.1 3z" fill="#00ffaf" stroke="#00ffaf"/>
<path d="M487.7 154.3l9.8 -3.7 3.4 3.8 -9.9 3.7z" fill="#00ffe4" stroke="#00ffe4"/>
<path d="M554.5 142.6l10.1 -2.5 3.8 3.8 -10.2 2.6z" fill="#00ffa1" stroke="#00ffa1"/>
<path d="M520.8 147.6l10 -3.1 3.6 3.8 -10 3.1z" fill="#00ffbc" stroke="#00ffbc"/>
<path d="M477.8 158.1l9.9 -3.8 3.3 3.8 -9.9 3.8z" fill="#00fff6" stroke="#00fff6"/>
<path d="M468 162.2l9.8 -4.1 3.3 3.8 -9.9 4.1z" fill="#00f2ff" stroke="#00f2ff"/>
<path d="M510.9 150.9l9.9 -3.3 3.6 3.8 -10 3.3z" fill="#00ffca" stroke="#00ffca"/>
<path d="M544.5 145.3l10 -2.7 3.7 3.9 -10.1 2.8z" fill="#00ffab" stroke="#00ffab"/>
<path d="M458.2 166.4l9.8 -4.2 3.2 3.8 -9.9 4.3z" fill="#00d9ff" stroke="#00d9ff"/>
<path d="M500.9 154.4l10 -3.5 3.5 3.8 -10 3.5z" fill="#00ffda" stroke="#00ffda"/>
<path d="M534.4 148.3l10.1 -3 3.6 4 -10.1 2.9z" fill="#00ffb7" stroke="#00ffb7"/>
<path d="M491 158.1l9.9 -3.7 3.5 3.8 -10 3.8z" fill="#00ffeb" stroke="#00ffeb"/>
<path d="M524.4 151.4l10 -3.1 3.6 3.9 -10.1 3.2z" fill="#00ffc4" stroke="#00ffc4"/>
<path d="M481.1 161.9l9.9 -3.8 3.4 3.9 -10 3.9z" fill="#00fffd" stroke="#00fffd"/>
<path d="M471.2 166l9.9 -4.1 3.3 4 -10 4.1z" fill="#00eaff" stroke="#00eaff"/>
<path d="M514.4 154.7l10 -3.3 3.5 4 -10 3.3z" fill="#00ffd2" stroke="#00ffd2"/>
<path d="M461.3 170.3l9.9 -4.3 3.2 4 -9.9 4.3z" fill="#00d1ff" stroke="#00d1ff"/>
<path d="M504.4 158.2l10 -3.5 3.5 4 -10.1 3.6z" fill="#00ffe1" stroke="#00ffe1"/>
<path d="M494.4 162l10 -3.8 3.4 4.1 -10.1 3.7z" fill="#00fff2" stroke="#00fff2"/>
<path d="M484.4 165.9l10 -3.9 3.3 4 -10 4z" fill="#00f9ff" stroke="#00f9ff"/>
<path d="M474.4 170l10 -4.1 3.3 4.1 -10 4.1z" fill="#00e1ff" stroke="#00e1ff"/>
<path d="M464.5 174.3l9.9 -4.3 3.3 4.1 -10 4.4z" fill="#00c9ff" stroke="#00c9ff"/>
</g>
<g fill="none" stroke="#000" stroke-opacity="0.55" stroke-width="0.7">
<polyline points="404.8,119.1 413.5,115.4 422.2,111.9 430.9,108.6 439.6,105.4 448.3,102.4 457.1,99.6 465.8,97 474.6,94.5 483.4,92.2 492.2,90 501,88 509.8,86.2 518.6,84.5 527.4,83 536.2,81.6 545,80.4 553.9,79.4 562.7,78.5 571.5,77.8 580.3,77.2"/>
<polyline points="404.8,119.1 407.9,121 411,123.1 414.1,125.2 417.3,127.4 420.4,129.7 423.5,132.2 426.6,134.7 429.8,137.3 432.9,140.1 436.1,142.9 439.2,145.9 442.4,149 445.5,152.3 448.7,155.6 451.8,159.1 455,162.7 458.2,166.4 461.3,170.3 464.5,174.3 467.7,178.5"/>
<polyline points="407.9,121 416.7,117.3 425.4,113.8 434.2,110.4 443,107.2 451.8,104.2 460.6,101.4 469.4,98.7 478.3,96.2 487.1,93.9 496,91.7 504.8,89.7 513.7,87.8 522.6,86.1 531.5,84.6 540.4,83.3 549.2,82 558.1,81 567,80.1 575.9,79.3 584.8,78.7"/>
<polyline points="413.5,115.4 416.7,117.3 419.8,119.3 423,121.4 426.2,123.6 429.4,125.9 432.6,128.3 435.8,130.8 439,133.4 442.2,136.1 445.4,138.9 448.6,141.9 451.9,145 455.1,148.1 458.3,151.5 461.5,154.9 464.7,158.5 468,162.2 471.2,166 474.4,170 477.7,174.1"/>
<polyline points="411,123.1 419.8,119.3 428.7,115.8 437.5,112.4 446.4,109.2 455.2,106.1 464.1,103.2 473,100.5 481.9,98 490.9,95.7 499.8,93.5 508.7,91.4 517.7,89.6 526.6,87.9 535.6,86.3 544.5,85 553.5,83.7 562.4,82.7 571.4,81.8 580.3,81 589.3,80.4"/>
<polyline points="422.2,111.9 425.4,113.8 428.7,115.8 431.9,117.8 435.2,120 438.4,122.2 441.7,124.6 445,127.1 448.2,129.6 451.5,132.3 454.8,135.1 458.1,138 461.4,141.1 464.6,144.2 467.9,147.5 471.2,150.9 474.5,154.5 477.8,158.1 481.1,161.9 484.4,165.9 487.7,170"/>
<polyline points="414.1,125.2 423,121.4 431.9,117.8 440.8,114.4 449.8,111.2 458.7,108.1 467.7,105.2 476.6,102.5 485.6,99.9 494.6,97.5 503.6,95.3 512.6,93.3 521.6,91.4 530.6,89.7 539.6,88.1 548.7,86.7 557.7,85.5 566.7,84.4 575.7,83.5 584.7,82.7 593.7,82.1"/>
<polyline points="430.9,108.6 434.2,110.4 437.5,112.4 440.8,114.4 444.2,116.5 447.5,118.8 450.8,121.1 454.2,123.5 457.5,126.1 460.8,128.7 464.2,131.5 467.5,134.4 470.9,137.4 474.2,140.5 477.6,143.8 480.9,147.1 484.3,150.6 487.7,154.3 491,158.1 494.4,162 497.7,166"/>
<polyline points="417.3,127.4 426.2,123.6 435.2,120 444.2,116.5 453.1,113.3 462.2,110.2 471.2,107.2 480.2,104.5 489.3,101.9 498.3,99.5 507.4,97.3 516.5,95.2 525.5,93.3 534.6,91.6 543.7,90 552.8,88.6 561.9,87.4 571,86.3 580.1,85.4 589.1,84.6 598.2,84"/>
<polyline points="439.6,105.4 443,107.2 446.4,109.2 449.8,111.2 453.1,113.3 456.5,115.5 460,117.8 463.4,120.2 466.8,122.7 470.2,125.3 473.6,128.1 477,130.9 480.4,133.9 483.8,137 487.3,140.2 490.7,143.5 494.1,147 497.5,150.6 500.9,154.4 504.4,158.2 507.8,162.3"/>
<polyline points="420.4,129.7 429.4,125.9 438.4,122.2 447.5,118.8 456.5,115.5 465.6,112.3 474.7,109.4 483.8,106.6 492.9,104 502.1,101.6 511.2,99.4 520.3,97.3 529.5,95.4 538.6,93.6 547.8,92 556.9,90.6 566.1,89.4 575.3,88.3 584.4,87.3 593.6,86.5 602.7,85.9"/>
<polyline points="448.3,102.4 451.8,104.2 455.2,106.1 458.7,108.1 462.2,110.2 465.6,112.3 469.1,114.6 472.6,117 476,119.5 479.5,122.1 483,124.8 486.5,127.6 490,130.6 493.5,133.6 496.9,136.8 500.4,140.1 503.9,143.6 507.4,147.2 510.9,150.9 514.4,154.7 517.9,158.7"/>
<polyline points="423.5,132.2 432.6,128.3 441.7,124.6 450.8,121.1 460,117.8 469.1,114.6 478.3,111.6 487.4,108.9 496.6,106.2 505.8,103.8 515,101.5 524.2,99.4 533.4,97.5 542.7,95.7 551.9,94.1 561.1,92.7 570.3,91.4 579.5,90.3 588.8,89.4 598,88.6 607.2,87.9"/>
<polyline points="457.1,99.6 460.6,101.4 464.1,103.2 467.7,105.2 471.2,107.2 474.7,109.4 478.3,111.6 481.8,114 485.3,116.5 488.9,119 492.4,121.7 496,124.5 499.5,127.4 503.1,130.5 506.6,133.6 510.2,136.9 513.7,140.4 517.3,143.9 520.8,147.6 524.4,151.4 527.9,155.4"/>
<polyline points="426.6,134.7 435.8,130.8 445,127.1 454.2,123.5 463.4,120.2 472.6,117 481.8,114 491,111.2 500.3,108.5 509.6,106.1 518.8,103.8 528.1,101.7 537.4,99.7 546.7,97.9 556,96.3 565.2,94.9 574.5,93.6 583.8,92.5 593.1,91.5 602.4,90.7 611.7,90.1"/>
<polyline points="465.8,97 469.4,98.7 473,100.5 476.6,102.5 480.2,104.5 483.8,106.6 487.4,108.9 491,111.2 494.7,113.6 498.3,116.2 501.9,118.8 505.5,121.6 509.1,124.5 512.7,127.5 516.3,130.7 520,133.9 523.6,137.3 527.2,140.8 530.8,144.5 534.4,148.3 538,152.2"/>
<polyline points="429.8,137.3 439,133.4 448.2,129.6 457.5,126.1 466.8,122.7 476,119.5 485.3,116.5 494.7,113.6 504,111 513.3,108.5 522.6,106.2 532,104 541.3,102.1 550.7,100.3 560,98.6 569.4,97.2 578.7,95.9 588.1,94.7 597.5,93.8 606.8,93 616.1,92.3"/>
<polyline points="474.6,94.5 478.3,96.2 481.9,98 485.6,99.9 489.3,101.9 492.9,104 496.6,106.2 500.3,108.5 504,111 507.7,113.5 511.3,116.1 515,118.9 518.7,121.7 522.4,124.7 526.1,127.8 529.7,131.1 533.4,134.5 537.1,138 540.8,141.6 544.5,145.3 548.1,149.3"/>
<polyline points="432.9,140.1 442.2,136.1 451.5,132.3 460.8,128.7 470.2,125.3 479.5,122.1 488.9,119 498.3,116.2 507.7,113.5 517.1,111 526.5,108.6 535.9,106.5 545.3,104.5 554.7,102.7 564.1,101 573.5,99.6 583,98.3 592.4,97.1 601.8,96.1 611.2,95.3 620.6,94.7"/>
<polyline points="483.4,92.2 487.1,93.9 490.9,95.7 494.6,97.5 498.3,99.5 502.1,101.6 505.8,103.8 509.6,106.1 513.3,108.5 517.1,111 520.8,113.6 524.5,116.3 528.3,119.2 532,122.1 535.8,125.2 539.5,128.4 543.3,131.8 547,135.3 550.8,138.9 554.5,142.6 558.2,146.5"/>
<polyline points="436.1,142.9 445.4,138.9 454.8,135.1 464.2,131.5 473.6,128.1 483,124.8 492.4,121.7 501.9,118.8 511.3,116.1 520.8,113.6 530.3,111.2 539.7,109.1 549.2,107.1 558.7,105.2 568.2,103.6 577.7,102.1 587.2,100.8 596.7,99.6 606.1,98.6 615.6,97.8 625.1,97.1"/>
<polyline points="492.2,90 496,91.7 499.8,93.5 503.6,95.3 507.4,97.3 511.2,99.4 515,101.5 518.8,103.8 522.6,106.2 526.5,108.6 530.3,111.2 534.1,114 537.9,116.8 541.7,119.7 545.5,122.8 549.3,126 553.1,129.3 557,132.8 560.8,136.3 564.6,140.1 568.4,143.9"/>
<polyline points="439.2,145.9 448.6,141.9 458.1,138 467.5,134.4 477,130.9 486.5,127.6 496,124.5 505.5,121.6 515,118.9 524.5,116.3 534.1,114 543.6,111.8 553.2,109.7 562.7,107.9 572.3,106.2 581.8,104.7 591.4,103.4 600.9,102.2 610.5,101.2 620,100.4 629.6,99.7"/>
<polyline points="501,88 504.8,89.7 508.7,91.4 512.6,93.3 516.5,95.2 520.3,97.3 524.2,99.4 528.1,101.7 532,104 535.9,106.5 539.7,109.1 543.6,111.8 547.5,114.6 551.4,117.5 555.3,120.5 559.1,123.7 563,127 566.9,130.4 570.8,134 574.6,137.7 578.5,141.5"/>
<polyline points="442.4,149 451.9,145 461.4,141.1 470.9,137.4 480.4,133.9 490,130.6 499.5,127.4 509.1,124.5 518.7,121.7 528.3,119.2 537.9,116.8 547.5,114.6 557.1,112.5 566.7,110.7 576.4,109 586,107.5 595.6,106.1 605.2,104.9 614.8,103.9 624.4,103.1 634,102.4"/>
<polyline points="509.8,86.2 513.7,87.8 517.7,89.6 521.6,91.4 525.5,93.3 529.5,95.4 533.4,97.5 537.4,99.7 541.3,102.1 545.3,104.5 549.2,107.1 553.2,109.7 557.1,112.5 561.1,115.4 565,118.5 569,121.6 572.9,124.9 576.8,128.3 580.8,131.8 584.7,135.5 588.6,139.3"/>
<polyline points="445.5,152.3 455.1,148.1 464.6,144.2 474.2,140.5 483.8,137 493.5,133.6 503.1,130.5 512.7,127.5 522.4,124.7 532,122.1 541.7,119.7 551.4,117.5 561.1,115.4 570.7,113.5 580.4,111.8 590.1,110.3 599.8,108.9 609.5,107.8 619.1,106.7 628.8,105.9 638.5,105.2"/>
<polyline points="518.6,84.5 522.6,86.1 526.6,87.9 530.6,89.7 534.6,91.6 538.6,93.6 542.7,95.7 546.7,97.9 550.7,100.3 554.7,102.7 558.7,105.2 562.7,107.9 566.7,110.7 570.7,113.5 574.8,116.6 578.8,119.7 582.8,123 586.8,126.3 590.8,129.9 594.8,133.5 598.7,137.3"/>
<polyline points="448.7,155.6 458.3,151.5 467.9,147.5 477.6,143.8 487.3,140.2 496.9,136.8 506.6,133.6 516.3,130.7 526.1,127.8 535.8,125.2 545.5,122.8 555.3,120.5 565,118.5 574.8,116.6 584.5,114.8 594.3,113.3 604,111.9 613.7,110.7 623.5,109.7 633.2,108.8 642.9,108.1"/>
<polyline points="527.4,83 531.5,84.6 535.6,86.3 539.6,88.1 543.7,90 547.8,92 551.9,94.1 556,96.3 560,98.6 564.1,101 568.2,103.6 572.3,106.2 576.4,109 580.4,111.8 584.5,114.8 588.6,118 592.6,121.2 596.7,124.6 600.8,128.1 604.8,131.7 608.9,135.5"/>
<polyline points="451.8,159.1 461.5,154.9 471.2,150.9 480.9,147.1 490.7,143.5 500.4,140.1 510.2,136.9 520,133.9 529.7,131.1 539.5,128.4 549.3,126 559.1,123.7 569,121.6 578.8,119.7 588.6,118 598.4,116.4 608.2,115 618,113.8 627.8,112.7 637.6,111.9 647.4,111.1"/>
<polyline points="536.2,81.6 540.4,83.3 544.5,85 548.7,86.7 552.8,88.6 556.9,90.6 561.1,92.7 565.2,94.9 569.4,97.2 573.5,99.6 577.7,102.1 581.8,104.7 586,107.5 590.1,110.3 594.3,113.3 598.4,116.4 602.5,119.6 606.6,123 610.8,126.5 614.9,130.1 619,133.8"/>
<polyline points="455,162.7 464.7,158.5 474.5,154.5 484.3,150.6 494.1,147 503.9,143.6 513.7,140.4 523.6,137.3 533.4,134.5 543.3,131.8 553.1,129.3 563,127 572.9,124.9 582.8,123 592.6,121.2 602.5,119.6 612.4,118.2 622.3,117 632.1,115.9 642,115 651.8,114.3"/>
<polyline points="545,80.4 549.2,82 553.5,83.7 557.7,85.5 561.9,87.4 566.1,89.4 570.3,91.4 574.5,93.6 578.7,95.9 583,98.3 587.2,100.8 591.4,103.4 595.6,106.1 599.8,108.9 604,111.9 608.2,115 612.4,118.2 616.6,121.6 620.8,125 624.9,128.6 629.1,132.4"/>
<polyline points="458.2,166.4 468,162.2 477.8,158.1 487.7,154.3 497.5,150.6 507.4,147.2 517.3,143.9 527.2,140.8 537.1,138 547,135.3 557,132.8 566.9,130.4 576.8,128.3 586.8,126.3 596.7,124.6 606.6,123 616.6,121.6 626.5,120.3 636.4,119.2 646.4,118.3 656.3,117.6"/>
<polyline points="553.9,79.4 558.1,81 562.4,82.7 566.7,84.4 571,86.3 575.3,88.3 579.5,90.3 583.8,92.5 588.1,94.7 592.4,97.1 596.7,99.6 600.9,102.2 605.2,104.9 609.5,107.8 613.7,110.7 618,113.8 622.3,117 626.5,120.3 630.8,123.8 635,127.4 639.2,131.1"/>
<polyline points="461.3,170.3 471.2,166 481.1,161.9 491,158.1 500.9,154.4 510.9,150.9 520.8,147.6 530.8,144.5 540.8,141.6 550.8,138.9 560.8,136.3 570.8,134 580.8,131.8 590.8,129.9 600.8,128.1 610.8,126.5 620.8,125 630.8,123.8 640.7,122.7 650.7,121.8 660.7,121"/>
<polyline points="562.7,78.5 567,80.1 571.4,81.8 575.7,83.5 580.1,85.4 584.4,87.3 588.8,89.4 593.1,91.5 597.5,93.8 601.8,96.1 606.1,98.6 610.5,101.2 614.8,103.9 619.1,106.7 623.5,109.7 627.8,112.7 632.1,115.9 636.4,119.2 640.7,122.7 645.1,126.3 649.3,130"/>
<polyline points="464.5,174.3 474.4,170 484.4,165.9 494.4,162 504.4,158.2 514.4,154.7 524.4,151.4 534.4,148.3 544.5,145.3 554.5,142.6 564.6,140.1 574.6,137.7 584.7,135.5 594.8,133.5 604.8,131.7 614.9,130.1 624.9,128.6 635,127.4 645.1,126.3 655.1,125.3 665.1,124.6"/>
<polyline points="571.5,77.8 575.9,79.3 580.3,81 584.7,82.7 589.1,84.6 593.6,86.5 598,88.6 602.4,90.7 606.8,93 611.2,95.3 615.6,97.8 620,100.4 624.4,103.1 628.8,105.9 633.2,108.8 637.6,111.9 642,115 646.4,118.3 650.7,121.8 655.1,125.3 659.5,129"/>
<polyline points="467.7,178.5 477.7,174.1 487.7,170 497.7,166 507.8,162.3 517.9,158.7 527.9,155.4 538,152.2 548.1,149.3 558.2,146.5 568.4,143.9 578.5,141.5 588.6,139.3 598.7,137.3 608.9,135.5 619,133.8 629.1,132.4 639.2,131.1 649.3,130 659.5,129 669.5,128.3"/>
<polyline points="580.3,77.2 584.8,78.7 589.3,80.4 593.7,82.1 598.2,84 602.7,85.9 607.2,87.9 611.7,90.1 616.1,92.3 620.6,94.7 625.1,97.1 629.6,99.7 634,102.4 638.5,105.2 642.9,108.1 647.4,111.1 651.8,114.3 656.3,117.6 660.7,121 665.1,124.6 669.5,128.3"/>
</g>
<text x="400.8" y="157" font-size="10.2" text-anchor="end" textLength="23.5" lengthAdjust="spacingAndGlyphs">-5000</text>
<text x="400" y="133.2" font-size="10.2" text-anchor="end" textLength="5.1" lengthAdjust="spacingAndGlyphs">0</text>
<text x="399.2" y="109.4" font-size="10.2" text-anchor="end" textLength="20.4" lengthAdjust="spacingAndGlyphs">5000</text>
<text x="398.3" y="85.6" font-size="10.2" text-anchor="end" textLength="25.5" lengthAdjust="spacingAndGlyphs">10000</text>
<text x="397.5" y="61.8" font-size="10.2" text-anchor="end" textLength="25.5" lengthAdjust="spacingAndGlyphs">15000</text>
<text x="396.7" y="38" font-size="10.2" text-anchor="end" textLength="25.5" lengthAdjust="spacingAndGlyphs">20000</text>
<text x="395.8" y="14.2" font-size="10.2" text-anchor="end" textLength="25.5" lengthAdjust="spacingAndGlyphs">25000</text>
<text x="399.3" y="215.5" font-size="10.2" text-anchor="middle" textLength="5.1" lengthAdjust="spacingAndGlyphs">0</text>
<text x="414.7" y="234.6" font-size="10.2" text-anchor="middle" textLength="5.1" lengthAdjust="spacingAndGlyphs">2</text>
<text x="430.1" y="253.7" font-size="10.2" text-anchor="middle" textLength="5.1" lengthAdjust="spacingAndGlyphs">4</text>
<text x="445.5" y="272.9" font-size="10.2" text-anchor="middle" textLength="5.1" lengthAdjust="spacingAndGlyphs">6</text>
<text x="460.9" y="292" font-size="10.2" text-anchor="middle" textLength="5.1" lengthAdjust="spacingAndGlyphs">8</text>
<text x="475" y="291.8" font-size="10.2" textLength="12.8" lengthAdjust="spacingAndGlyphs">0.1</text>
<text x="514.1" y="284.9" font-size="10.2" textLength="17.9" lengthAdjust="spacingAndGlyphs">5.08</text>
<text x="553.2" y="278.1" font-size="10.2" textLength="23" lengthAdjust="spacingAndGlyphs">10.06</text>
<text x="592.2" y="271.3" font-size="10.2" textLength="23" lengthAdjust="spacingAndGlyphs">15.04</text>
<text x="631.3" y="264.4" font-size="10.2" textLength="23" lengthAdjust="spacingAndGlyphs">20.02</text>
<text x="670.3" y="257.6" font-size="10.2" textLength="10.2" lengthAdjust="spacingAndGlyphs">25</text>
<text transform="translate(358.9,112.5) rotate(-90)" font-size="10.2" text-anchor="middle" textLength="109" lengthAdjust="spacingAndGlyphs">Dynamic modulus (Mpa)</text>
<text x="355.6" y="260.2" font-size="10.2" textLength="41.1" lengthAdjust="spacingAndGlyphs">A: NR (%)</text>
<text x="573.3" y="302" font-size="10.2" textLength="50" lengthAdjust="spacingAndGlyphs">B: Freq (Hz)</text>
<text x="496.1" y="336.3" font-size="18" font-family="Liberation Serif, serif" fill="#000" stroke="#000" stroke-width="0.2" textLength="20" lengthAdjust="spacingAndGlyphs">(b)</text>
<line x1="58.1" y1="367.6" x2="62.8" y2="513.5" stroke="#6e6e6e" stroke-width="0.75"/>
<line x1="92.3" y1="364.7" x2="95.6" y2="509" stroke="#6e6e6e" stroke-width="0.75"/>
<line x1="126.5" y1="361.8" x2="128.4" y2="504.5" stroke="#6e6e6e" stroke-width="0.75"/>
<line x1="160.6" y1="358.9" x2="161.3" y2="499.9" stroke="#6e6e6e" stroke-width="0.75"/>
<line x1="194.8" y1="356" x2="194.1" y2="495.4" stroke="#6e6e6e" stroke-width="0.75"/>
<line x1="229" y1="353.1" x2="227" y2="490.9" stroke="#6e6e6e" stroke-width="0.75"/>
<line x1="229" y1="353.1" x2="227" y2="490.9" stroke="#6e6e6e" stroke-width="0.75"/>
<line x1="250.8" y1="363.1" x2="247.8" y2="506.4" stroke="#6e6e6e" stroke-width="0.75"/>
<line x1="272.6" y1="373.2" x2="268.6" y2="521.9" stroke="#6e6e6e" stroke-width="0.75"/>
<line x1="294.4" y1="383.2" x2="289.3" y2="537.4" stroke="#6e6e6e" stroke-width="0.75"/>
<line x1="316.2" y1="393.3" x2="310.1" y2="552.8" stroke="#6e6e6e" stroke-width="0.75"/>
<line x1="62.8" y1="513.5" x2="227" y2="490.9" stroke="#6e6e6e" stroke-width="0.75"/>
<line x1="227" y1="490.9" x2="310.1" y2="552.8" stroke="#6e6e6e" stroke-width="0.75"/>
<line x1="62" y1="489.2" x2="227.3" y2="467.9" stroke="#6e6e6e" stroke-width="0.75"/>
<line x1="227.3" y1="467.9" x2="311.1" y2="526.3" stroke="#6e6e6e" stroke-width="0.75"/>
<line x1="61.2" y1="464.9" x2="227.6" y2="444.9" stroke="#6e6e6e" stroke-width="0.75"/>
<line x1="227.6" y1="444.9" x2="312.2" y2="499.7" stroke="#6e6e6e" stroke-width="0.75"/>
<line x1="60.5" y1="440.5" x2="228" y2="422" stroke="#6e6e6e" stroke-width="0.75"/>
<line x1="228" y1="422" x2="313.2" y2="473.1" stroke="#6e6e6e" stroke-width="0.75"/>
<line x1="59.7" y1="416.2" x2="228.3" y2="399" stroke="#6e6e6e" stroke-width="0.75"/>
<line x1="228.3" y1="399" x2="314.2" y2="446.5" stroke="#6e6e6e" stroke-width="0.75"/>
<line x1="58.9" y1="391.9" x2="228.6" y2="376" stroke="#6e6e6e" stroke-width="0.75"/>
<line x1="228.6" y1="376" x2="315.2" y2="419.9" stroke="#6e6e6e" stroke-width="0.75"/>
<line x1="58.1" y1="367.6" x2="229" y2="353.1" stroke="#6e6e6e" stroke-width="0.75"/>
<line x1="229" y1="353.1" x2="316.2" y2="393.3" stroke="#6e6e6e" stroke-width="0.75"/>
<line x1="64.2" y1="559.2" x2="62.8" y2="513.5" stroke="#6e6e6e" stroke-width="0.75"/>
<line x1="226.4" y1="534" x2="227" y2="490.9" stroke="#6e6e6e" stroke-width="0.75"/>
<line x1="308.2" y1="602.8" x2="310.1" y2="552.8" stroke="#6e6e6e" stroke-width="0.75"/>
<polygon points="64.2,559.2 226.4,534 308.2,602.8 122.9,637.6" fill="#646464" stroke="#3a3a3a" stroke-width="0.7"/>
<polyline points="79.5,579.6 79.4,578.7 79.3,577.3 79.2,575.8 79.2,575.1 79.2,574.4 79.2,572.9 79.2,571.4 79.2,570.9 79.2,570 79.3,568.5 79.4,567.1 79.4,567 79.5,565.6 79.6,564.1 79.7,563.6 79.8,562.6 80,561.1 80.1,560.2 80.2,559.6 80.5,558.1 80.7,557 80.7,556.6" fill="none" stroke="#00d4ff" stroke-width="0.9"/>
<polyline points="132,635.9 129.4,634.9 127.2,634 126.9,633.9 124.5,632.9 122.1,631.8 121.9,631.8 119.9,630.8 117.7,629.7 116.4,629" fill="none" stroke="#00d4ff" stroke-width="0.9"/>
<polyline points="151.7,632.2 150.1,631.7 148.8,631.3 146,630.3 145.2,630 143.4,629.4 140.8,628.4 140.1,628.1 138.3,627.3 135.9,626.3 134.8,625.8 133.6,625.3 131.4,624.2 129.3,623.1 129.2,623 127.2,622 125.3,620.9 123.4,619.7 122.9,619.5 121.6,618.6 119.8,617.4 118.2,616.2 116.6,615 115.5,614.2 115,613.8 113.6,612.6 112.2,611.4 110.9,610.2 109.6,608.9 108.4,607.6 107.2,606.4 106.1,605.1 105.1,603.8 104.1,602.5 103.2,601.2 102.3,599.9 101.5,598.5 100.7,597.2 100,595.8 99.3,594.5 98.7,593.1 98.1,591.8 97.9,591.3 97.6,590.4 97.1,589 96.6,587.6 96.2,586.2 95.8,584.8 95.7,584.3 95.5,583.4 95.2,582 95,580.6 94.7,579.1 94.7,578.9 94.6,577.7 94.4,576.3 94.3,574.8 94.3,574.3 94.3,573.4 94.2,571.9 94.2,570.5 94.2,570.3 94.3,569 94.3,567.5 94.4,566.5 94.4,566.1 94.5,564.6 94.7,563.1 94.7,563 94.8,561.7 95,560.2 95.1,559.8 95.3,558.7 95.5,557.2 95.6,556.7 95.8,555.7 96.1,554.3" fill="none" stroke="#00fffc" stroke-width="0.9"/>
<polyline points="175.6,627.7 175.3,627.6 172.3,626.9 170.6,626.4 169.1,626 166,625.1 165.9,625.1 163.1,624.2 161.1,623.5 160.3,623.3 157.6,622.3 156,621.7 155,621.3 152.5,620.3 150.7,619.5 150.1,619.3 147.8,618.2 145.6,617.1 145,616.8 143.5,616.1 141.5,615 139.6,613.8 138.6,613.3 137.7,612.7 136,611.6 134.3,610.4 132.7,609.2 131.1,608 130.7,607.7 129.6,606.8 128.3,605.6 126.9,604.4 125.7,603.1 124.5,601.9 123.3,600.6 122.3,599.3 121.3,598 120.3,596.7 119.4,595.4 118.6,594.1 117.8,592.8 117.1,591.4 116.4,590.1 116.2,589.7 115.8,588.7 115.2,587.4 114.7,586 114.2,584.6 113.8,583.2 113.5,582.4 113.4,581.9 113.1,580.5 112.8,579.1 112.5,577.6 112.4,577.1 112.3,576.2 112.1,574.8 112,573.4 112,572.7 111.9,571.9 111.9,570.5 111.9,569.1 111.9,568.8 111.9,567.6 112,566.1 112.1,565.2 112.1,564.7 112.3,563.2 112.4,561.9 112.4,561.8 112.6,560.3 112.9,558.8 112.9,558.8 113.2,557.3 113.5,555.9 113.5,555.8 113.8,554.4 114.1,553.1 114.2,552.9 114.6,551.4" fill="none" stroke="#00ffd6" stroke-width="0.9"/>
<polyline points="208,621.6 205.6,621.3 203.8,621 201.3,620.6 199.8,620.3 197,619.8 196,619.5 192.5,618.8 192.3,618.8 188.9,618 188,617.7 185.6,617.1 183.3,616.5 182.5,616.2 179.5,615.3 178.4,615 176.6,614.4 173.9,613.4 173.3,613.2 171.3,612.5 168.8,611.5 167.9,611.1 166.5,610.4 164.2,609.4 162.1,608.3 162,608.3 160.1,607.2 158.1,606.1 156.3,605 155.1,604.2 154.5,603.8 152.8,602.7 151.2,601.5 149.7,600.3 148.3,599.1 147,597.9 145.7,596.7 144.5,595.4 143.4,594.2 142.3,592.9 141.4,591.6 140.5,590.3 139.6,589 138.8,587.7 138.1,586.4 137.4,585 136.8,583.7 136.3,582.5 136.3,582.3 135.8,581 135.4,579.6 135,578.2 134.7,576.8 134.7,576.8 134.4,575.4 134.2,574 134.1,572.6 134.1,572.4 134,571.2 133.9,569.8 133.9,568.6 133.9,568.3 134,566.9 134.1,565.4 134.1,565.2 134.2,564 134.4,562.5 134.5,562 134.7,561.1 134.9,559.6 135,559.1 135.3,558.1 135.7,556.6 135.7,556.4 136.1,555.1 136.5,553.9 136.6,553.6 137.1,552.1 137.4,551.4 137.7,550.6 138.3,549.1 138.3,549.1 139,547.6" fill="none" stroke="#00ffaf" stroke-width="0.9"/>
<polyline points="212.2,536.2 213,536.2 216.3,536.4 218.9,536.6 219.8,536.6 223.5,537.1 224,537.1 227.4,537.7 228.3,537.8 231.6,538.4" fill="none" stroke="#00ff89" stroke-width="0.9"/>
<polyline points="303.3,598.6 300.9,599.8 300.4,600.1 298.4,600.9 295.8,601.9 293.1,602.8 292.8,602.9 290.3,603.6 287.5,604.4 284.5,605 281.5,605.7 278.4,606.2 275.3,606.8 272,607.2 268.8,607.6 266,607.9 265.4,608 262.1,608.2 258.6,608.5 255.1,608.6 254.2,608.7 251.6,608.8 248,608.8 245.9,608.8 244.3,608.8 240.6,608.7 239,608.7 236.8,608.6 232.9,608.3 232.9,608.3 229,608 227.6,607.9 224.9,607.6 222.8,607.3 220.8,607.1 218.4,606.7 216.6,606.4 214.3,606 212.3,605.7 210.5,605.3 207.8,604.7 207,604.5 203.7,603.7 203.1,603.5 200.6,602.8 198.2,602 197.7,601.9 195,600.9 192.8,600.1 192.4,599.9 190.1,598.9 187.8,597.9 186.8,597.4 185.7,596.8 183.7,595.7 181.9,594.6 180.1,593.5 179,592.7 178.5,592.4 177,591.2 175.6,590 174.3,588.8 173.1,587.6 171.9,586.3 170.9,585.1 170,583.8 169.2,582.5 168.7,581.6 168.4,581.2 167.8,579.9 167.2,578.5 166.7,577.2 166.3,575.8 166.2,575.5 166,574.5 165.8,573.1 165.6,571.7 165.6,571.3 165.5,570.3 165.6,568.8 165.6,567.9 165.7,567.4 165.9,565.9 166,565 166.1,564.5 166.5,563 166.7,562.3 167,561.5 167.6,560 167.6,559.9 168.3,558.5 168.7,557.7 169.1,556.9 169.8,555.7 170,555.4 171.1,553.8 171.1,553.7 172.3,552.2 172.5,552 173.8,550.6 174,550.3 175.4,548.9 175.6,548.7 177.3,547.2 177.3,547.2 179,545.8 179.5,545.5 180.8,544.6 182.3,543.6 182.7,543.4 184.7,542.2 185.8,541.7 186.8,541.2 188.9,540.3 190.9,539.5" fill="none" stroke="#00ff89" stroke-width="0.9"/>
<circle cx="64.2" cy="559.2" r="1.25" fill="#000"/>
<circle cx="78.9" cy="578.8" r="1.25" fill="#000"/>
<circle cx="93.5" cy="598.4" r="1.25" fill="#000"/>
<circle cx="108.2" cy="618" r="1.25" fill="#000"/>
<circle cx="122.9" cy="637.6" r="1.25" fill="#000"/>
<circle cx="122.9" cy="637.6" r="1.25" fill="#000"/>
<circle cx="159.9" cy="630.7" r="1.25" fill="#000"/>
<circle cx="197" cy="623.7" r="1.25" fill="#000"/>
<circle cx="234.1" cy="616.7" r="1.25" fill="#000"/>
<circle cx="271.1" cy="609.8" r="1.25" fill="#000"/>
<circle cx="308.2" cy="602.8" r="1.25" fill="#000"/>
<circle cx="62.8" cy="513.5" r="1.25" fill="#000"/>
<circle cx="62" cy="489.2" r="1.25" fill="#000"/>
<circle cx="61.2" cy="464.9" r="1.25" fill="#000"/>
<circle cx="60.5" cy="440.5" r="1.25" fill="#000"/>
<circle cx="59.7" cy="416.2" r="1.25" fill="#000"/>
<circle cx="58.9" cy="391.9" r="1.25" fill="#000"/>
<circle cx="58.1" cy="367.6" r="1.25" fill="#000"/>
<line x1="64.2" y1="477.5" x2="64.2" y2="474" stroke="#a0a0a0" stroke-width="0.9"/>
<line x1="61.6" y1="483" x2="61.6" y2="474" stroke="#a0a0a0" stroke-width="0.9"/>
<line x1="77.6" y1="489.6" x2="77.6" y2="482" stroke="#a0a0a0" stroke-width="0.9"/>
<line x1="74.7" y1="497.2" x2="74.7" y2="482" stroke="#a0a0a0" stroke-width="0.9"/>
<line x1="91.4" y1="501.4" x2="91.4" y2="494" stroke="#a0a0a0" stroke-width="0.9"/>
<line x1="88.8" y1="510.2" x2="88.8" y2="494" stroke="#a0a0a0" stroke-width="0.9"/>
<line x1="110.4" y1="521.8" x2="110.4" y2="514" stroke="#a0a0a0" stroke-width="0.9"/>
<line x1="107.4" y1="525.3" x2="107.4" y2="512" stroke="#a0a0a0" stroke-width="0.9"/>
<line x1="104.1" y1="532.7" x2="104.1" y2="510" stroke="#a0a0a0" stroke-width="0.9"/>
<line x1="128.4" y1="537.3" x2="128.4" y2="533" stroke="#a0a0a0" stroke-width="0.9"/>
<line x1="124.2" y1="540.5" x2="124.2" y2="533" stroke="#a0a0a0" stroke-width="0.9"/>
<line x1="121" y1="547.4" x2="121" y2="534" stroke="#a0a0a0" stroke-width="0.9"/>
<line x1="160.4" y1="525.2" x2="160.4" y2="519" stroke="#a0a0a0" stroke-width="0.9"/>
<line x1="200.1" y1="515.4" x2="200.1" y2="509" stroke="#a0a0a0" stroke-width="0.9"/>
<line x1="312.2" y1="493.3" x2="312.2" y2="481" stroke="#a0a0a0" stroke-width="0.9"/>
<circle cx="64.2" cy="477.5" r="2.9" fill="#ffc6c6" stroke="#bf9a9a" stroke-width="0.55"/>
<circle cx="61.6" cy="483" r="2.9" fill="#ffc6c6" stroke="#bf9a9a" stroke-width="0.55"/>
<circle cx="77.6" cy="489.6" r="2.9" fill="#ffc6c6" stroke="#bf9a9a" stroke-width="0.55"/>
<circle cx="74.7" cy="497.2" r="2.9" fill="#ffc6c6" stroke="#bf9a9a" stroke-width="0.55"/>
<circle cx="91.4" cy="501.4" r="2.9" fill="#ffc6c6" stroke="#bf9a9a" stroke-width="0.55"/>
<circle cx="88.8" cy="510.2" r="2.9" fill="#ffc6c6" stroke="#bf9a9a" stroke-width="0.55"/>
<circle cx="110.4" cy="521.8" r="2.9" fill="#ffc6c6" stroke="#bf9a9a" stroke-width="0.55"/>
<circle cx="107.4" cy="525.3" r="2.9" fill="#ffc6c6" stroke="#bf9a9a" stroke-width="0.55"/>
<circle cx="104.1" cy="532.7" r="3.4" fill="#fff" stroke="#dcaaaa" stroke-width="1.1"/>
<circle cx="128.4" cy="537.3" r="2.9" fill="#ffc6c6" stroke="#bf9a9a" stroke-width="0.55"/>
<circle cx="124.2" cy="540.5" r="2.9" fill="#ffc6c6" stroke="#bf9a9a" stroke-width="0.55"/>
<circle cx="121" cy="547.4" r="2.9" fill="#ffc6c6" stroke="#bf9a9a" stroke-width="0.55"/>
<circle cx="160.4" cy="525.2" r="2.9" fill="#ffc6c6" stroke="#bf9a9a" stroke-width="0.55"/>
<circle cx="200.1" cy="515.4" r="2.9" fill="#ffc6c6" stroke="#bf9a9a" stroke-width="0.55"/>
<circle cx="312.2" cy="493.3" r="2.9" fill="#ffc6c6" stroke="#bf9a9a" stroke-width="0.55"/>
<g stroke-width="0.5">
<path d="M219.5 430.1l8.4 -0.6 4.2 2.2 -8.4 0.6z" fill="#00ff8a" stroke="#00ff8a"/>
<path d="M211.2 430.9l8.3 -0.8 4.2 2.2 -8.4 0.7z" fill="#00ff87" stroke="#00ff87"/>
<path d="M202.8 431.7l8.4 -0.8 4.1 2.1 -8.4 0.9z" fill="#00ff86" stroke="#00ff86"/>
<path d="M223.7 432.3l8.4 -0.6 4.3 2.2 -8.5 0.6z" fill="#00ff86" stroke="#00ff86"/>
<path d="M194.4 432.7l8.4 -1 4.1 2.2 -8.5 1z" fill="#00ff85" stroke="#00ff85"/>
<path d="M215.3 433l8.4 -0.7 4.2 2.2 -8.5 0.7z" fill="#00ff83" stroke="#00ff83"/>
<path d="M186.1 433.9l8.3 -1.2 4 2.2 -8.4 1.1z" fill="#00ff86" stroke="#00ff86"/>
<path d="M206.9 433.9l8.4 -0.9 4.1 2.2 -8.5 0.8z" fill="#00ff81" stroke="#00ff81"/>
<path d="M227.9 434.5l8.5 -0.6 4.2 2.3 -8.5 0.5z" fill="#00ff83" stroke="#00ff83"/>
<path d="M177.7 435.2l8.4 -1.3 3.9 2.1 -8.4 1.3z" fill="#00ff89" stroke="#00ff89"/>
<path d="M198.4 434.9l8.5 -1 4 2.1 -8.5 1z" fill="#00ff81" stroke="#00ff81"/>
<path d="M219.4 435.2l8.5 -0.7 4.2 2.2 -8.6 0.7z" fill="#00ff80" stroke="#00ff80"/>
<path d="M169.4 436.7l8.3 -1.5 3.9 2.1 -8.4 1.5z" fill="#00ff8c" stroke="#00ff8c"/>
<path d="M190 436l8.4 -1.1 4 2.1 -8.4 1.2z" fill="#00ff82" stroke="#00ff82"/>
<path d="M161 438.3l8.4 -1.6 3.8 2.1 -8.4 1.6z" fill="#00ff91" stroke="#00ff91"/>
<path d="M210.9 436l8.5 -0.8 4.1 2.2 -8.5 0.8z" fill="#00ff7e" stroke="#00ff7e"/>
<path d="M232.1 436.7l8.5 -0.5 4.3 2.2 -8.6 0.6z" fill="#00ff7f" stroke="#00ff7f"/>
<path d="M181.6 437.3l8.4 -1.3 4 2.2 -8.5 1.3z" fill="#00ff84" stroke="#00ff84"/>
<path d="M152.7 440.2l8.3 -1.9 3.8 2.1 -8.5 1.8z" fill="#00ff98" stroke="#00ff98"/>
<path d="M202.4 437l8.5 -1 4.1 2.2 -8.5 1z" fill="#00ff7d" stroke="#00ff7d"/>
<path d="M223.5 437.4l8.6 -0.7 4.2 2.3 -8.6 0.7z" fill="#00ff7c" stroke="#00ff7c"/>
<path d="M173.2 438.8l8.4 -1.5 3.9 2.2 -8.5 1.4z" fill="#00ff87" stroke="#00ff87"/>
<path d="M144.3 442.1l8.4 -1.9 3.6 2 -8.4 2z" fill="#00ffa0" stroke="#00ffa0"/>
<path d="M194 438.2l8.4 -1.2 4.1 2.2 -8.6 1.2z" fill="#00ff7d" stroke="#00ff7d"/>
<path d="M136 444.3l8.3 -2.2 3.6 2.1 -8.4 2.1z" fill="#00ffa9" stroke="#00ffa9"/>
<path d="M215 438.2l8.5 -0.8 4.2 2.3 -8.6 0.8z" fill="#00ff7a" stroke="#00ff7a"/>
<path d="M164.8 440.4l8.4 -1.6 3.8 2.1 -8.5 1.6z" fill="#00ff8c" stroke="#00ff8c"/>
<path d="M236.3 439l8.6 -0.6 4.2 2.3 -8.6 0.6z" fill="#00ff7d" stroke="#00ff7d"/>
<path d="M127.6 446.7l8.4 -2.4 3.5 2 -8.4 2.4z" fill="#00ffb4" stroke="#00ffb4"/>
<path d="M185.5 439.5l8.5 -1.3 3.9 2.2 -8.5 1.2z" fill="#00ff7f" stroke="#00ff7f"/>
<path d="M156.3 442.2l8.5 -1.8 3.7 2.1 -8.5 1.8z" fill="#00ff92" stroke="#00ff92"/>
<path d="M206.5 439.2l8.5 -1 4.1 2.3 -8.6 1z" fill="#00ff79" stroke="#00ff79"/>
<path d="M227.7 439.7l8.6 -0.7 4.2 2.3 -8.7 0.7z" fill="#00ff79" stroke="#00ff79"/>
<path d="M119.3 449.2l8.3 -2.5 3.5 2 -8.3 2.5z" fill="#00ffc0" stroke="#00ffc0"/>
<path d="M177 440.9l8.5 -1.4 3.9 2.1 -8.6 1.5z" fill="#00ff82" stroke="#00ff82"/>
<path d="M147.9 444.2l8.4 -2 3.7 2.1 -8.4 2z" fill="#00ff99" stroke="#00ff99"/>
<path d="M111 451.9l8.3 -2.7 3.5 2 -8.4 2.7z" fill="#00ffcd" stroke="#00ffcd"/>
<path d="M197.9 440.4l8.6 -1.2 4 2.3 -8.7 1.1z" fill="#00ff7a" stroke="#00ff7a"/>
<path d="M219.1 440.5l8.6 -0.8 4.1 2.3 -8.7 0.8z" fill="#00ff77" stroke="#00ff77"/>
<path d="M240.5 441.3l8.6 -0.6 4.3 2.3 -8.7 0.6z" fill="#00ff7a" stroke="#00ff7a"/>
<path d="M139.5 446.3l8.4 -2.1 3.7 2.1 -8.5 2.1z" fill="#00ffa2" stroke="#00ffa2"/>
<path d="M102.7 454.9l8.3 -3 3.4 2 -8.4 2.9z" fill="#00ffdd" stroke="#00ffdd"/>
<path d="M168.5 442.5l8.5 -1.6 3.8 2.2 -8.5 1.6z" fill="#00ff87" stroke="#00ff87"/>
<path d="M94.4 458l8.3 -3.1 3.3 1.9 -8.3 3.1z" fill="#00ffed" stroke="#00ffed"/>
<path d="M189.4 441.6l8.5 -1.2 3.9 2.2 -8.6 1.3z" fill="#00ff7b" stroke="#00ff7b"/>
<path d="M131.1 448.7l8.4 -2.4 3.6 2.1 -8.5 2.3z" fill="#00ffad" stroke="#00ffad"/>
<path d="M160 444.3l8.5 -1.8 3.8 2.2 -8.6 1.7z" fill="#00ff8d" stroke="#00ff8d"/>
<path d="M86.2 461.3l8.2 -3.3 3.3 1.9 -8.4 3.3z" fill="#00feff" stroke="#00feff"/>
<path d="M210.5 441.5l8.6 -1 4 2.3 -8.6 1z" fill="#00ff76" stroke="#00ff76"/>
<path d="M231.8 442l8.7 -0.7 4.2 2.3 -8.8 0.7z" fill="#00ff77" stroke="#00ff77"/>
<path d="M122.8 451.2l8.3 -2.5 3.5 2 -8.4 2.5z" fill="#00ffb8" stroke="#00ffb8"/>
<path d="M77.9 464.9l8.3 -3.6 3.1 1.9 -8.3 3.6z" fill="#00e6ff" stroke="#00e6ff"/>
<path d="M180.8 443.1l8.6 -1.5 3.8 2.3 -8.6 1.4z" fill="#00ff7e" stroke="#00ff7e"/>
<path d="M151.6 446.3l8.4 -2 3.7 2.1 -8.5 2z" fill="#00ff94" stroke="#00ff94"/>
<path d="M69.7 468.7l8.2 -3.8 3.1 1.9 -8.3 3.7z" fill="#00ccff" stroke="#00ccff"/>
<path d="M114.4 453.9l8.4 -2.7 3.4 2 -8.5 2.7z" fill="#00ffc6" stroke="#00ffc6"/>
<path d="M201.8 442.6l8.7 -1.1 4 2.3 -8.7 1.1z" fill="#00ff76" stroke="#00ff76"/>
<path d="M61.5 472.7l8.2 -4 3 1.8 -8.3 4z" fill="#00b0ff" stroke="#00b0ff"/>
<path d="M223.1 442.8l8.7 -0.8 4.1 2.3 -8.7 0.8z" fill="#00ff74" stroke="#00ff74"/>
<path d="M244.7 443.6l8.7 -0.6 4.3 2.4 -8.8 0.6z" fill="#00ff78" stroke="#00ff78"/>
<path d="M143.1 448.4l8.5 -2.1 3.6 2.1 -8.6 2.1z" fill="#00ff9c" stroke="#00ff9c"/>
<path d="M172.3 444.7l8.5 -1.6 3.8 2.2 -8.6 1.6z" fill="#00ff82" stroke="#00ff82"/>
<path d="M106 456.8l8.4 -2.9 3.3 2 -8.4 2.9z" fill="#00ffd4" stroke="#00ffd4"/>
<path d="M193.2 443.9l8.6 -1.3 4 2.3 -8.7 1.2z" fill="#00ff77" stroke="#00ff77"/>
<path d="M97.7 459.9l8.3 -3.1 3.3 2 -8.4 3.1z" fill="#00ffe5" stroke="#00ffe5"/>
<path d="M134.6 450.7l8.5 -2.3 3.5 2.1 -8.5 2.3z" fill="#00ffa6" stroke="#00ffa6"/>
<path d="M163.7 446.4l8.6 -1.7 3.7 2.2 -8.6 1.8z" fill="#00ff88" stroke="#00ff88"/>
<path d="M214.5 443.8l8.6 -1 4.1 2.3 -8.7 1z" fill="#00ff73" stroke="#00ff73"/>
<path d="M235.9 444.3l8.8 -0.7 4.2 2.4 -8.8 0.7z" fill="#00ff74" stroke="#00ff74"/>
<path d="M89.3 463.2l8.4 -3.3 3.2 2 -8.4 3.3z" fill="#00fff7" stroke="#00fff7"/>
<path d="M126.2 453.2l8.4 -2.5 3.5 2.1 -8.5 2.5z" fill="#00ffb2" stroke="#00ffb2"/>
<path d="M81 466.8l8.3 -3.6 3.2 2 -8.4 3.5z" fill="#00f1ff" stroke="#00f1ff"/>
<path d="M184.6 445.3l8.6 -1.4 3.9 2.2 -8.7 1.5z" fill="#00ff7a" stroke="#00ff7a"/>
<path d="M155.2 448.4l8.5 -2 3.7 2.3 -8.6 1.9z" fill="#00ff8f" stroke="#00ff8f"/>
<path d="M72.7 470.5l8.3 -3.7 3.1 1.9 -8.4 3.8z" fill="#00d8ff" stroke="#00d8ff"/>
<path d="M205.8 444.9l8.7 -1.1 4 2.3 -8.8 1.1z" fill="#00ff73" stroke="#00ff73"/>
<path d="M117.7 455.9l8.5 -2.7 3.4 2.1 -8.5 2.7z" fill="#00ffbf" stroke="#00ffbf"/>
<path d="M227.2 445.1l8.7 -0.8 4.2 2.4 -8.8 0.8z" fill="#00ff72" stroke="#00ff72"/>
<path d="M248.9 446l8.8 -0.6 4.2 2.4 -8.8 0.6z" fill="#00ff76" stroke="#00ff76"/>
<path d="M64.4 474.5l8.3 -4 3 2 -8.3 3.9z" fill="#00bdff" stroke="#00bdff"/>
<path d="M176 446.9l8.6 -1.6 3.8 2.3 -8.6 1.6z" fill="#00ff7e" stroke="#00ff7e"/>
<path d="M146.6 450.5l8.6 -2.1 3.6 2.2 -8.6 2.1z" fill="#00ff97" stroke="#00ff97"/>
<path d="M109.3 458.8l8.4 -2.9 3.4 2.1 -8.5 2.9z" fill="#00ffcd" stroke="#00ffcd"/>
<path d="M197.1 446.1l8.7 -1.2 3.9 2.3 -8.7 1.3z" fill="#00ff74" stroke="#00ff74"/>
<path d="M100.9 461.9l8.4 -3.1 3.3 2.1 -8.5 3.1z" fill="#00ffdd" stroke="#00ffdd"/>
<path d="M138.1 452.8l8.5 -2.3 3.6 2.2 -8.6 2.3z" fill="#00ffa0" stroke="#00ffa0"/>
<path d="M218.5 446.1l8.7 -1 4.1 2.4 -8.8 1z" fill="#00ff71" stroke="#00ff71"/>
<path d="M167.4 448.7l8.6 -1.8 3.8 2.3 -8.7 1.7z" fill="#00ff83" stroke="#00ff83"/>
<path d="M240.1 446.7l8.8 -0.7 4.2 2.4 -8.9 0.7z" fill="#00ff73" stroke="#00ff73"/>
<path d="M92.5 465.2l8.4 -3.3 3.2 2.1 -8.5 3.2z" fill="#00ffef" stroke="#00ffef"/>
<path d="M129.6 455.3l8.5 -2.5 3.5 2.2 -8.6 2.5z" fill="#00ffac" stroke="#00ffac"/>
<path d="M188.4 447.6l8.7 -1.5 3.9 2.4 -8.7 1.4z" fill="#00ff77" stroke="#00ff77"/>
<path d="M84.1 468.7l8.4 -3.5 3.1 2 -8.4 3.5z" fill="#00fcff" stroke="#00fcff"/>
<path d="M158.8 450.6l8.6 -1.9 3.7 2.2 -8.7 2z" fill="#00ff8a" stroke="#00ff8a"/>
<path d="M209.7 447.2l8.8 -1.1 4 2.4 -8.8 1.1z" fill="#00ff71" stroke="#00ff71"/>
<path d="M75.7 472.5l8.4 -3.8 3.1 2 -8.4 3.8z" fill="#00e3ff" stroke="#00e3ff"/>
<path d="M253.1 448.4l8.8 -0.6 4.3 2.5 -8.9 0.6z" fill="#00ff75" stroke="#00ff75"/>
<path d="M231.3 447.5l8.8 -0.8 4.1 2.4 -8.8 0.8z" fill="#00ff70" stroke="#00ff70"/>
<path d="M121.1 458l8.5 -2.7 3.4 2.2 -8.5 2.7z" fill="#00ffb8" stroke="#00ffb8"/>
<path d="M67.4 476.4l8.3 -3.9 3.1 2 -8.5 3.9z" fill="#00c8ff" stroke="#00c8ff"/>
<path d="M179.8 449.2l8.6 -1.6 3.9 2.3 -8.8 1.6z" fill="#00ff7b" stroke="#00ff7b"/>
<path d="M150.2 452.7l8.6 -2.1 3.6 2.3 -8.6 2.1z" fill="#00ff92" stroke="#00ff92"/>
<path d="M112.6 460.9l8.5 -2.9 3.4 2.2 -8.6 2.8z" fill="#00ffc6" stroke="#00ffc6"/>
<path d="M201 448.5l8.7 -1.3 4 2.4 -8.8 1.3z" fill="#00ff72" stroke="#00ff72"/>
<path d="M222.5 448.5l8.8 -1 4.1 2.4 -8.9 1z" fill="#00ff6f" stroke="#00ff6f"/>
<path d="M244.2 449.1l8.9 -0.7 4.2 2.5 -9 0.7z" fill="#00ff71" stroke="#00ff71"/>
<path d="M104.1 464l8.5 -3.1 3.3 2.1 -8.6 3.1z" fill="#00ffd6" stroke="#00ffd6"/>
<path d="M141.6 455l8.6 -2.3 3.6 2.3 -8.7 2.3z" fill="#00ff9b" stroke="#00ff9b"/>
<path d="M171.1 450.9l8.7 -1.7 3.7 2.3 -8.7 1.8z" fill="#00ff80" stroke="#00ff80"/>
<path d="M95.6 467.2l8.5 -3.2 3.2 2.1 -8.5 3.3z" fill="#00ffe7" stroke="#00ffe7"/>
<path d="M192.3 449.9l8.7 -1.4 3.9 2.4 -8.8 1.4z" fill="#00ff74" stroke="#00ff74"/>
<path d="M133 457.5l8.6 -2.5 3.5 2.3 -8.6 2.4z" fill="#00ffa6" stroke="#00ffa6"/>
<path d="M162.4 452.9l8.7 -2 3.7 2.4 -8.7 1.9z" fill="#00ff86" stroke="#00ff86"/>
<path d="M87.2 470.7l8.4 -3.5 3.2 2.2 -8.5 3.5z" fill="#00fffa" stroke="#00fffa"/>
<path d="M213.7 449.6l8.8 -1.1 4 2.4 -8.9 1.2z" fill="#00ff6f" stroke="#00ff6f"/>
<path d="M257.3 450.9l8.9 -0.6 4.2 2.5 -8.9 0.6z" fill="#00ff74" stroke="#00ff74"/>
<path d="M235.4 449.9l8.8 -0.8 4.1 2.5 -8.9 0.9z" fill="#00ff6f" stroke="#00ff6f"/>
<path d="M78.8 474.5l8.4 -3.8 3.1 2.2 -8.5 3.7z" fill="#00edff" stroke="#00edff"/>
<path d="M124.5 460.2l8.5 -2.7 3.5 2.2 -8.7 2.7z" fill="#00ffb3" stroke="#00ffb3"/>
<path d="M183.5 451.5l8.8 -1.6 3.8 2.4 -8.8 1.6z" fill="#00ff78" stroke="#00ff78"/>
<path d="M70.3 478.4l8.5 -3.9 3 2.1 -8.5 3.9z" fill="#00d3ff" stroke="#00d3ff"/>
<path d="M153.8 455l8.6 -2.1 3.7 2.3 -8.8 2.1z" fill="#00ff8e" stroke="#00ff8e"/>
<path d="M115.9 463l8.6 -2.8 3.3 2.2 -8.6 2.9z" fill="#00ffc0" stroke="#00ffc0"/>
<path d="M204.9 450.9l8.8 -1.3 3.9 2.5 -8.8 1.3z" fill="#00ff70" stroke="#00ff70"/>
<path d="M226.5 450.9l8.9 -1 4 2.6 -8.9 1z" fill="#00ff6d" stroke="#00ff6d"/>
<path d="M248.3 451.6l9 -0.7 4.2 2.5 -9 0.7z" fill="#00ff70" stroke="#00ff70"/>
<path d="M145.1 457.3l8.7 -2.3 3.5 2.3 -8.7 2.3z" fill="#00ff97" stroke="#00ff97"/>
<path d="M174.8 453.3l8.7 -1.8 3.8 2.4 -8.8 1.8z" fill="#00ff7d" stroke="#00ff7d"/>
<path d="M107.3 466.1l8.6 -3.1 3.3 2.3 -8.6 3z" fill="#00ffd0" stroke="#00ffd0"/>
<path d="M196.1 452.3l8.8 -1.4 3.9 2.5 -8.9 1.4z" fill="#00ff72" stroke="#00ff72"/>
<path d="M98.8 469.4l8.5 -3.3 3.3 2.2 -8.6 3.3z" fill="#00ffe0" stroke="#00ffe0"/>
<path d="M136.5 459.7l8.6 -2.4 3.5 2.3 -8.7 2.5z" fill="#00ffa2" stroke="#00ffa2"/>
<path d="M166.1 455.2l8.7 -1.9 3.7 2.4 -8.8 1.9z" fill="#00ff83" stroke="#00ff83"/>
<path d="M217.6 452.1l8.9 -1.2 4 2.6 -8.9 1.1z" fill="#00ff6d" stroke="#00ff6d"/>
<path d="M261.5 453.4l8.9 -0.6 4.3 2.6 -9 0.6z" fill="#00ff74" stroke="#00ff74"/>
<path d="M239.4 452.5l8.9 -0.9 4.2 2.5 -9 0.9z" fill="#00ff6e" stroke="#00ff6e"/>
<path d="M90.3 472.9l8.5 -3.5 3.2 2.2 -8.6 3.5z" fill="#00fff3" stroke="#00fff3"/>
<path d="M127.8 462.4l8.7 -2.7 3.4 2.4 -8.7 2.6z" fill="#00ffae" stroke="#00ffae"/>
<path d="M81.8 476.6l8.5 -3.7 3.1 2.2 -8.6 3.7z" fill="#00f6ff" stroke="#00f6ff"/>
<path d="M187.3 453.9l8.8 -1.6 3.8 2.5 -8.9 1.6z" fill="#00ff75" stroke="#00ff75"/>
<path d="M157.3 457.3l8.8 -2.1 3.6 2.4 -8.8 2.1z" fill="#00ff8a" stroke="#00ff8a"/>
<path d="M73.3 480.5l8.5 -3.9 3 2.2 -8.5 3.9z" fill="#00dcff" stroke="#00dcff"/>
<path d="M208.8 453.4l8.8 -1.3 4 2.5 -9 1.3z" fill="#00ff6e" stroke="#00ff6e"/>
<path d="M119.2 465.3l8.6 -2.9 3.4 2.3 -8.7 2.9z" fill="#00ffbb" stroke="#00ffbb"/>
<path d="M252.5 454.1l9 -0.7 4.2 2.6 -9.1 0.8z" fill="#00ff70" stroke="#00ff70"/>
<path d="M230.5 453.5l8.9 -1 4.1 2.5 -9 1z" fill="#00ff6d" stroke="#00ff6d"/>
<path d="M178.5 455.7l8.8 -1.8 3.7 2.5 -8.8 1.8z" fill="#00ff7a" stroke="#00ff7a"/>
<path d="M148.6 459.6l8.7 -2.3 3.6 2.4 -8.8 2.3z" fill="#00ff93" stroke="#00ff93"/>
<path d="M110.6 468.3l8.6 -3 3.3 2.3 -8.7 3z" fill="#00ffca" stroke="#00ffca"/>
<path d="M199.9 454.8l8.9 -1.4 3.8 2.5 -8.9 1.5z" fill="#00ff70" stroke="#00ff70"/>
<path d="M102 471.6l8.6 -3.3 3.2 2.3 -8.6 3.3z" fill="#00ffdb" stroke="#00ffdb"/>
<path d="M265.7 456l9 -0.6 4.2 2.6 -9.1 0.7z" fill="#00ff74" stroke="#00ff74"/>
<path d="M139.9 462.1l8.7 -2.5 3.5 2.4 -8.8 2.5z" fill="#00ff9e" stroke="#00ff9e"/>
<path d="M221.6 454.6l8.9 -1.1 4 2.5 -9 1.2z" fill="#00ff6c" stroke="#00ff6c"/>
<path d="M169.7 457.6l8.8 -1.9 3.7 2.5 -8.9 1.9z" fill="#00ff80" stroke="#00ff80"/>
<path d="M243.5 455l9 -0.9 4.1 2.7 -9 0.9z" fill="#00ff6e" stroke="#00ff6e"/>
<path d="M93.4 475.1l8.6 -3.5 3.2 2.3 -8.7 3.5z" fill="#00ffed" stroke="#00ffed"/>
<path d="M131.2 464.7l8.7 -2.6 3.4 2.4 -8.7 2.6z" fill="#00ffa9" stroke="#00ffa9"/>
<path d="M191 456.4l8.9 -1.6 3.8 2.6 -8.9 1.6z" fill="#00ff74" stroke="#00ff74"/>
<path d="M84.8 478.8l8.6 -3.7 3.1 2.3 -8.6 3.7z" fill="#00fdff" stroke="#00fdff"/>
<path d="M160.9 459.7l8.8 -2.1 3.6 2.5 -8.8 2.1z" fill="#00ff88" stroke="#00ff88"/>
<path d="M212.6 455.9l9 -1.3 3.9 2.6 -9 1.3z" fill="#00ff6d" stroke="#00ff6d"/>
<path d="M76.3 482.7l8.5 -3.9 3.1 2.3 -8.7 3.9z" fill="#00e4ff" stroke="#00e4ff"/>
<path d="M256.6 456.8l9.1 -0.8 4.1 2.7 -9.1 0.8z" fill="#00ff70" stroke="#00ff70"/>
<path d="M234.5 456l9 -1 4.1 2.7 -9.1 1z" fill="#00ff6c" stroke="#00ff6c"/>
<path d="M122.5 467.6l8.7 -2.9 3.4 2.4 -8.8 2.9z" fill="#00ffb7" stroke="#00ffb7"/>
<path d="M182.2 458.2l8.8 -1.8 3.8 2.6 -8.9 1.7z" fill="#00ff78" stroke="#00ff78"/>
<path d="M152.1 462l8.8 -2.3 3.6 2.5 -8.9 2.3z" fill="#00ff90" stroke="#00ff90"/>
<path d="M113.8 470.6l8.7 -3 3.3 2.4 -8.7 3.1z" fill="#00ffc5" stroke="#00ffc5"/>
<path d="M203.7 457.4l8.9 -1.5 3.9 2.6 -9 1.5z" fill="#00ff6f" stroke="#00ff6f"/>
<path d="M269.8 458.7l9.1 -0.7 4.3 2.7 -9.2 0.7z" fill="#00ff75" stroke="#00ff75"/>
<path d="M225.5 457.2l9 -1.2 4 2.7 -9 1.2z" fill="#00ff6c" stroke="#00ff6c"/>
<path d="M247.6 457.7l9 -0.9 4.1 2.7 -9.1 0.9z" fill="#00ff6e" stroke="#00ff6e"/>
<path d="M105.2 473.9l8.6 -3.3 3.3 2.5 -8.8 3.2z" fill="#00ffd6" stroke="#00ffd6"/>
<path d="M143.3 464.5l8.8 -2.5 3.5 2.5 -8.8 2.5z" fill="#00ff9a" stroke="#00ff9a"/>
<path d="M173.3 460.1l8.9 -1.9 3.7 2.5 -9 2z" fill="#00ff7e" stroke="#00ff7e"/>
<path d="M96.5 477.4l8.7 -3.5 3.1 2.4 -8.7 3.5z" fill="#00ffe7" stroke="#00ffe7"/>
<path d="M194.8 459l8.9 -1.6 3.8 2.6 -8.9 1.6z" fill="#00ff73" stroke="#00ff73"/>
<path d="M134.6 467.1l8.7 -2.6 3.5 2.5 -8.9 2.7z" fill="#00ffa6" stroke="#00ffa6"/>
<path d="M87.9 481.1l8.6 -3.7 3.1 2.4 -8.7 3.7z" fill="#00fffb" stroke="#00fffb"/>
<path d="M164.5 462.2l8.8 -2.1 3.6 2.6 -8.9 2.1z" fill="#00ff85" stroke="#00ff85"/>
<path d="M216.5 458.5l9 -1.3 4 2.7 -9.1 1.3z" fill="#00ff6d" stroke="#00ff6d"/>
<path d="M260.7 459.5l9.1 -0.8 4.2 2.7 -9.1 0.8z" fill="#00ff71" stroke="#00ff71"/>
<path d="M238.5 458.7l9.1 -1 4 2.7 -9.1 1.1z" fill="#00ff6d" stroke="#00ff6d"/>
<path d="M79.2 485l8.7 -3.9 3 2.4 -8.7 3.9z" fill="#00ebff" stroke="#00ebff"/>
<path d="M125.8 470l8.8 -2.9 3.3 2.6 -8.8 2.8z" fill="#00ffb3" stroke="#00ffb3"/>
<path d="M185.9 460.7l8.9 -1.7 3.8 2.6 -9 1.8z" fill="#00ff77" stroke="#00ff77"/>
<path d="M155.6 464.5l8.9 -2.3 3.5 2.6 -8.9 2.3z" fill="#00ff8e" stroke="#00ff8e"/>
<path d="M117.1 473.1l8.7 -3.1 3.3 2.5 -8.8 3.1z" fill="#00ffc2" stroke="#00ffc2"/>
<path d="M207.5 460l9 -1.5 3.9 2.7 -9 1.5z" fill="#00ff6f" stroke="#00ff6f"/>
<path d="M274 461.4l9.2 -0.7 4.2 2.8 -9.2 0.7z" fill="#00ff76" stroke="#00ff76"/>
<path d="M229.5 459.9l9 -1.2 4 2.8 -9.1 1.2z" fill="#00ff6c" stroke="#00ff6c"/>
<path d="M251.6 460.4l9.1 -0.9 4.2 2.7 -9.2 1z" fill="#00ff6f" stroke="#00ff6f"/>
<path d="M146.8 467l8.8 -2.5 3.5 2.6 -8.9 2.5z" fill="#00ff98" stroke="#00ff98"/>
<path d="M108.3 476.3l8.8 -3.2 3.2 2.5 -8.8 3.3z" fill="#00ffd2" stroke="#00ffd2"/>
<path d="M176.9 462.7l9 -2 3.7 2.7 -9 2z" fill="#00ff7d" stroke="#00ff7d"/>
<path d="M99.6 479.8l8.7 -3.5 3.2 2.6 -8.8 3.4z" fill="#00ffe3" stroke="#00ffe3"/>
<path d="M198.6 461.6l8.9 -1.6 3.9 2.7 -9.1 1.7z" fill="#00ff72" stroke="#00ff72"/>
<path d="M137.9 469.7l8.9 -2.7 3.4 2.6 -8.9 2.7z" fill="#00ffa3" stroke="#00ffa3"/>
<path d="M264.9 462.2l9.1 -0.8 4.2 2.8 -9.2 0.9z" fill="#00ff73" stroke="#00ff73"/>
<path d="M220.4 461.2l9.1 -1.3 3.9 2.8 -9.1 1.3z" fill="#00ff6d" stroke="#00ff6d"/>
<path d="M168 464.8l8.9 -2.1 3.7 2.7 -9 2.1z" fill="#00ff84" stroke="#00ff84"/>
<path d="M90.9 483.5l8.7 -3.7 3.1 2.5 -8.7 3.7z" fill="#00fff6" stroke="#00fff6"/>
<path d="M242.5 461.5l9.1 -1.1 4.1 2.8 -9.2 1.1z" fill="#00ff6e" stroke="#00ff6e"/>
<path d="M82.2 487.4l8.7 -3.9 3.1 2.5 -8.8 4z" fill="#00f1ff" stroke="#00f1ff"/>
<path d="M129.1 472.5l8.8 -2.8 3.4 2.6 -8.9 2.9z" fill="#00ffb0" stroke="#00ffb0"/>
<path d="M189.6 463.4l9 -1.8 3.7 2.8 -9 1.8z" fill="#00ff77" stroke="#00ff77"/>
<path d="M159.1 467.1l8.9 -2.3 3.6 2.7 -9 2.3z" fill="#00ff8d" stroke="#00ff8d"/>
<path d="M278.2 464.2l9.2 -0.7 4.3 2.9 -9.3 0.7z" fill="#00ff78" stroke="#00ff78"/>
<path d="M211.4 462.7l9 -1.5 3.9 2.8 -9.1 1.5z" fill="#00ff6f" stroke="#00ff6f"/>
<path d="M120.3 475.6l8.8 -3.1 3.3 2.7 -8.8 3z" fill="#00ffbf" stroke="#00ffbf"/>
<path d="M255.7 463.2l9.2 -1 4.1 2.9 -9.2 1z" fill="#00ff70" stroke="#00ff70"/>
<path d="M233.4 462.7l9.1 -1.2 4 2.8 -9.2 1.2z" fill="#00ff6e" stroke="#00ff6e"/>
<path d="M180.6 465.4l9 -2 3.7 2.8 -9.1 2z" fill="#00ff7d" stroke="#00ff7d"/>
<path d="M150.2 469.6l8.9 -2.5 3.5 2.7 -8.9 2.5z" fill="#00ff97" stroke="#00ff97"/>
<path d="M111.5 478.9l8.8 -3.3 3.3 2.6 -8.9 3.3z" fill="#00ffce" stroke="#00ffce"/>
<path d="M202.3 464.4l9.1 -1.7 3.8 2.8 -9.1 1.7z" fill="#00ff73" stroke="#00ff73"/>
<path d="M102.7 482.3l8.8 -3.4 3.2 2.6 -8.9 3.5z" fill="#00ffe0" stroke="#00ffe0"/>
<path d="M269 465.1l9.2 -0.9 4.2 2.9 -9.3 0.9z" fill="#00ff75" stroke="#00ff75"/>
<path d="M141.3 472.3l8.9 -2.7 3.5 2.7 -9 2.7z" fill="#00ffa2" stroke="#00ffa2"/>
<path d="M224.3 464l9.1 -1.3 3.9 2.8 -9.1 1.4z" fill="#00ff6f" stroke="#00ff6f"/>
<path d="M246.5 464.3l9.2 -1.1 4.1 2.9 -9.3 1.1z" fill="#00ff6f" stroke="#00ff6f"/>
<path d="M171.6 467.5l9 -2.1 3.6 2.8 -9 2.1z" fill="#00ff84" stroke="#00ff84"/>
<path d="M94 486l8.7 -3.7 3.1 2.7 -8.8 3.7z" fill="#00fff2" stroke="#00fff2"/>
<path d="M132.4 475.2l8.9 -2.9 3.4 2.7 -9 2.9z" fill="#00ffae" stroke="#00ffae"/>
<path d="M85.2 490l8.8 -4 3 2.7 -8.8 3.9z" fill="#00f6ff" stroke="#00f6ff"/>
<path d="M193.3 466.2l9 -1.8 3.8 2.8 -9.2 1.9z" fill="#00ff77" stroke="#00ff77"/>
<path d="M162.6 469.8l9 -2.3 3.6 2.8 -9.1 2.3z" fill="#00ff8c" stroke="#00ff8c"/>
<path d="M282.4 467.1l9.3 -0.7 4.2 2.9 -9.3 0.8z" fill="#00ff7a" stroke="#00ff7a"/>
<path d="M215.2 465.5l9.1 -1.5 3.9 2.9 -9.2 1.6z" fill="#00ff71" stroke="#00ff71"/>
<path d="M259.8 466.1l9.2 -1 4.1 2.9 -9.3 1.1z" fill="#00ff73" stroke="#00ff73"/>
<path d="M237.3 465.5l9.2 -1.2 4 2.9 -9.2 1.3z" fill="#00ff6f" stroke="#00ff6f"/>
<path d="M123.6 478.2l8.8 -3 3.3 2.7 -8.9 3.1z" fill="#00ffbd" stroke="#00ffbd"/>
<path d="M184.2 468.2l9.1 -2 3.6 2.9 -9.1 2z" fill="#00ff7d" stroke="#00ff7d"/>
<path d="M153.7 472.3l8.9 -2.5 3.5 2.8 -9 2.6z" fill="#00ff96" stroke="#00ff96"/>
<path d="M114.7 481.5l8.9 -3.3 3.2 2.8 -8.9 3.3z" fill="#00ffcc" stroke="#00ffcc"/>
<path d="M206.1 467.2l9.1 -1.7 3.8 3 -9.2 1.7z" fill="#00ff74" stroke="#00ff74"/>
<path d="M273.1 468l9.3 -0.9 4.2 3 -9.4 1z" fill="#00ff77" stroke="#00ff77"/>
<path d="M105.8 485l8.9 -3.5 3.2 2.8 -8.9 3.5z" fill="#00ffdd" stroke="#00ffdd"/>
<path d="M228.2 466.9l9.1 -1.4 4 3 -9.3 1.4z" fill="#00ff70" stroke="#00ff70"/>
<path d="M250.5 467.2l9.3 -1.1 4 3 -9.3 1.2z" fill="#00ff72" stroke="#00ff72"/>
<path d="M144.7 475l9 -2.7 3.4 2.9 -9 2.7z" fill="#00ffa1" stroke="#00ffa1"/>
<path d="M175.2 470.3l9 -2.1 3.6 2.9 -9.1 2.1z" fill="#00ff84" stroke="#00ff84"/>
<path d="M97 488.7l8.8 -3.7 3.2 2.8 -8.9 3.7z" fill="#00fff0" stroke="#00fff0"/>
<path d="M196.9 469.1l9.2 -1.9 3.7 3 -9.2 1.8z" fill="#00ff78" stroke="#00ff78"/>
<path d="M135.7 477.9l9 -2.9 3.4 2.9 -9 2.9z" fill="#00ffae" stroke="#00ffae"/>
<path d="M286.6 470.1l9.3 -0.8 4.3 3.1 -9.4 0.8z" fill="#00ff7d" stroke="#00ff7d"/>
<path d="M88.2 492.6l8.8 -3.9 3.1 2.8 -8.9 3.9z" fill="#00f9ff" stroke="#00f9ff"/>
<path d="M166.1 472.6l9.1 -2.3 3.5 2.9 -9.1 2.4z" fill="#00ff8c" stroke="#00ff8c"/>
<path d="M219 468.5l9.2 -1.6 3.8 3 -9.2 1.6z" fill="#00ff73" stroke="#00ff73"/>
<path d="M263.8 469.1l9.3 -1.1 4.1 3.1 -9.3 1.1z" fill="#00ff76" stroke="#00ff76"/>
<path d="M241.3 468.5l9.2 -1.3 4 3.1 -9.3 1.3z" fill="#00ff72" stroke="#00ff72"/>
<path d="M126.8 481l8.9 -3.1 3.4 2.9 -9 3.1z" fill="#00ffbc" stroke="#00ffbc"/>
<path d="M187.8 471.1l9.1 -2 3.7 2.9 -9.1 2.1z" fill="#00ff7e" stroke="#00ff7e"/>
<path d="M157.1 475.2l9 -2.6 3.5 3 -9.1 2.5z" fill="#00ff96" stroke="#00ff96"/>
<path d="M117.9 484.3l8.9 -3.3 3.3 2.9 -9 3.3z" fill="#00ffcb" stroke="#00ffcb"/>
<path d="M209.8 470.2l9.2 -1.7 3.8 3 -9.2 1.7z" fill="#00ff76" stroke="#00ff76"/>
<path d="M277.2 471.1l9.4 -1 4.2 3.1 -9.5 1z" fill="#00ff7b" stroke="#00ff7b"/>
<path d="M254.5 470.3l9.3 -1.2 4.1 3.1 -9.4 1.2z" fill="#00ff75" stroke="#00ff75"/>
<path d="M232 469.9l9.3 -1.4 3.9 3.1 -9.3 1.4z" fill="#00ff73" stroke="#00ff73"/>
<path d="M109 487.8l8.9 -3.5 3.2 2.9 -9 3.5z" fill="#00ffdc" stroke="#00ffdc"/>
<path d="M148.1 477.9l9 -2.7 3.4 2.9 -9.1 2.7z" fill="#00ffa1" stroke="#00ffa1"/>
<path d="M178.7 473.2l9.1 -2.1 3.7 3 -9.2 2.2z" fill="#00ff85" stroke="#00ff85"/>
<path d="M100.1 491.5l8.9 -3.7 3.1 2.9 -9 3.7z" fill="#00ffee" stroke="#00ffee"/>
<path d="M290.8 473.2l9.4 -0.8 4.2 3.1 -9.5 0.9z" fill="#00ff81" stroke="#00ff81"/>
<path d="M200.6 472l9.2 -1.8 3.8 3 -9.3 1.9z" fill="#00ff7b" stroke="#00ff7b"/>
<path d="M139.1 480.8l9 -2.9 3.3 2.9 -9 3z" fill="#00ffae" stroke="#00ffae"/>
<path d="M91.2 495.4l8.9 -3.9 3 2.9 -8.9 4z" fill="#00fbff" stroke="#00fbff"/>
<path d="M267.9 472.2l9.3 -1.1 4.1 3.1 -9.4 1.2z" fill="#00ff79" stroke="#00ff79"/>
<path d="M169.6 475.6l9.1 -2.4 3.6 3.1 -9.2 2.3z" fill="#00ff8e" stroke="#00ff8e"/>
<path d="M222.8 471.5l9.2 -1.6 3.9 3.1 -9.3 1.6z" fill="#00ff75" stroke="#00ff75"/>
<path d="M245.2 471.6l9.3 -1.3 4 3.1 -9.3 1.3z" fill="#00ff75" stroke="#00ff75"/>
<path d="M130.1 483.9l9 -3.1 3.3 3 -9.1 3.1z" fill="#00ffbb" stroke="#00ffbb"/>
<path d="M191.5 474.1l9.1 -2.1 3.7 3.1 -9.2 2.1z" fill="#00ff80" stroke="#00ff80"/>
<path d="M160.5 478.1l9.1 -2.5 3.5 3 -9.1 2.6z" fill="#00ff97" stroke="#00ff97"/>
<path d="M281.3 474.2l9.5 -1 4.1 3.2 -9.4 1.1z" fill="#00ff7f" stroke="#00ff7f"/>
<path d="M121.1 487.2l9 -3.3 3.2 3 -9.1 3.3z" fill="#00ffcb" stroke="#00ffcb"/>
<path d="M213.6 473.2l9.2 -1.7 3.8 3.1 -9.3 1.8z" fill="#00ff79" stroke="#00ff79"/>
<path d="M258.5 473.4l9.4 -1.2 4 3.2 -9.4 1.2z" fill="#00ff79" stroke="#00ff79"/>
<path d="M235.9 473l9.3 -1.4 4 3.1 -9.4 1.5z" fill="#00ff76" stroke="#00ff76"/>
<path d="M182.3 476.3l9.2 -2.2 3.6 3.1 -9.2 2.2z" fill="#00ff87" stroke="#00ff87"/>
<path d="M151.4 480.8l9.1 -2.7 3.5 3.1 -9.2 2.8z" fill="#00ffa2" stroke="#00ffa2"/>
<path d="M112.1 490.7l9 -3.5 3.1 3 -9 3.5z" fill="#00ffdb" stroke="#00ffdb"/>
<path d="M294.9 476.4l9.5 -0.9 4.2 3.2 -9.5 1z" fill="#00ff86" stroke="#00ff86"/>
<path d="M103.1 494.4l9 -3.7 3.1 3 -9 3.8z" fill="#00ffee" stroke="#00ffee"/>
<path d="M204.3 475.1l9.3 -1.9 3.7 3.2 -9.3 1.9z" fill="#00ff7d" stroke="#00ff7d"/>
<path d="M271.9 475.4l9.4 -1.2 4.2 3.3 -9.5 1.2z" fill="#00ff7e" stroke="#00ff7e"/>
<path d="M142.4 483.8l9 -3 3.4 3.2 -9.1 2.9z" fill="#00ffaf" stroke="#00ffaf"/>
<path d="M226.6 474.6l9.3 -1.6 3.9 3.2 -9.4 1.7z" fill="#00ff79" stroke="#00ff79"/>
<path d="M249.2 474.7l9.3 -1.3 4 3.2 -9.4 1.4z" fill="#00ff79" stroke="#00ff79"/>
<path d="M173.1 478.6l9.2 -2.3 3.6 3.1 -9.3 2.4z" fill="#00ff90" stroke="#00ff90"/>
<path d="M94.2 498.4l8.9 -4 3.1 3.1 -9 4z" fill="#00fcff" stroke="#00fcff"/>
<path d="M133.3 486.9l9.1 -3.1 3.3 3.1 -9.1 3.1z" fill="#00ffbc" stroke="#00ffbc"/>
<path d="M195.1 477.2l9.2 -2.1 3.7 3.2 -9.3 2.1z" fill="#00ff83" stroke="#00ff83"/>
<path d="M285.5 477.5l9.4 -1.1 4.2 3.3 -9.5 1.1z" fill="#00ff84" stroke="#00ff84"/>
<path d="M164 481.2l9.1 -2.6 3.5 3.2 -9.2 2.6z" fill="#00ff99" stroke="#00ff99"/>
<path d="M217.3 476.4l9.3 -1.8 3.8 3.3 -9.3 1.8z" fill="#00ff7c" stroke="#00ff7c"/>
<path d="M262.5 476.6l9.4 -1.2 4.1 3.3 -9.5 1.3z" fill="#00ff7d" stroke="#00ff7d"/>
<path d="M124.2 490.2l9.1 -3.3 3.3 3.1 -9.2 3.4z" fill="#00ffcc" stroke="#00ffcc"/>
<path d="M239.8 476.2l9.4 -1.5 3.9 3.3 -9.4 1.6z" fill="#00ff7b" stroke="#00ff7b"/>
<path d="M185.9 479.4l9.2 -2.2 3.6 3.2 -9.3 2.3z" fill="#00ff8a" stroke="#00ff8a"/>
<path d="M154.8 484l9.2 -2.8 3.4 3.2 -9.2 2.8z" fill="#00ffa4" stroke="#00ffa4"/>
<path d="M115.2 493.7l9 -3.5 3.2 3.2 -9.1 3.6z" fill="#00ffdc" stroke="#00ffdc"/>
<path d="M299.1 479.7l9.5 -1 4.2 3.4 -9.6 1.1z" fill="#00ff8b" stroke="#00ff8b"/>
<path d="M208 478.3l9.3 -1.9 3.8 3.3 -9.4 2z" fill="#00ff81" stroke="#00ff81"/>
<path d="M276 478.7l9.5 -1.2 4.1 3.3 -9.6 1.3z" fill="#00ff83" stroke="#00ff83"/>
<path d="M106.2 497.5l9 -3.8 3.1 3.3 -9.1 3.7z" fill="#00ffee" stroke="#00ffee"/>
<path d="M230.4 477.9l9.4 -1.7 3.9 3.4 -9.5 1.7z" fill="#00ff7d" stroke="#00ff7d"/>
<path d="M253.1 478l9.4 -1.4 4 3.4 -9.5 1.5z" fill="#00ff7e" stroke="#00ff7e"/>
<path d="M145.7 486.9l9.1 -2.9 3.4 3.2 -9.2 3z" fill="#00ffb1" stroke="#00ffb1"/>
<path d="M176.6 481.8l9.3 -2.4 3.5 3.3 -9.3 2.4z" fill="#00ff93" stroke="#00ff93"/>
<path d="M97.2 501.5l9 -4 3 3.2 -9 4z" fill="#00fbff" stroke="#00fbff"/>
<path d="M136.6 490l9.1 -3.1 3.3 3.3 -9.2 3.1z" fill="#00ffbe" stroke="#00ffbe"/>
<path d="M198.7 480.4l9.3 -2.1 3.7 3.4 -9.4 2.1z" fill="#00ff87" stroke="#00ff87"/>
<path d="M289.6 480.8l9.5 -1.1 4.1 3.5 -9.5 1.1z" fill="#00ff8a" stroke="#00ff8a"/>
<path d="M167.4 484.4l9.2 -2.6 3.5 3.3 -9.2 2.7z" fill="#00ff9c" stroke="#00ff9c"/>
<path d="M221.1 479.7l9.3 -1.8 3.8 3.4 -9.4 1.8z" fill="#00ff81" stroke="#00ff81"/>
<path d="M266.5 480l9.5 -1.3 4 3.4 -9.5 1.4z" fill="#00ff83" stroke="#00ff83"/>
<path d="M243.7 479.6l9.4 -1.6 3.9 3.5 -9.5 1.6z" fill="#00ff80" stroke="#00ff80"/>
<path d="M127.4 493.4l9.2 -3.4 3.2 3.3 -9.2 3.4z" fill="#00ffcd" stroke="#00ffcd"/>
<path d="M189.4 482.7l9.3 -2.3 3.6 3.4 -9.3 2.3z" fill="#00ff8e" stroke="#00ff8e"/>
<path d="M158.2 487.2l9.2 -2.8 3.5 3.4 -9.3 2.8z" fill="#00ffa7" stroke="#00ffa7"/>
<path d="M118.3 497l9.1 -3.6 3.2 3.3 -9.1 3.6z" fill="#00ffde" stroke="#00ffde"/>
<path d="M280 482.1l9.6 -1.3 4.1 3.5 -9.6 1.3z" fill="#00ff89" stroke="#00ff89"/>
<path d="M211.7 481.7l9.4 -2 3.7 3.4 -9.4 2.1z" fill="#00ff86" stroke="#00ff86"/>
<path d="M257 481.5l9.5 -1.5 4 3.5 -9.6 1.5z" fill="#00ff84" stroke="#00ff84"/>
<path d="M234.2 481.3l9.5 -1.7 3.8 3.5 -9.5 1.7z" fill="#00ff82" stroke="#00ff82"/>
<path d="M109.2 500.7l9.1 -3.7 3.2 3.3 -9.2 3.8z" fill="#00fff0" stroke="#00fff0"/>
<path d="M149 490.2l9.2 -3 3.4 3.4 -9.3 3z" fill="#00ffb4" stroke="#00ffb4"/>
<path d="M180.1 485.1l9.3 -2.4 3.6 3.4 -9.4 2.5z" fill="#00ff97" stroke="#00ff97"/>
<path d="M100.2 504.7l9 -4 3.1 3.4 -9.1 4z" fill="#00faff" stroke="#00faff"/>
<path d="M202.3 483.8l9.4 -2.1 3.7 3.5 -9.4 2.1z" fill="#00ff8c" stroke="#00ff8c"/>
<path d="M139.8 493.3l9.2 -3.1 3.3 3.4 -9.2 3.2z" fill="#00ffc1" stroke="#00ffc1"/>
<path d="M270.5 483.5l9.5 -1.4 4.1 3.5 -9.6 1.5z" fill="#00ff89" stroke="#00ff89"/>
<path d="M170.9 487.8l9.2 -2.7 3.5 3.5 -9.3 2.7z" fill="#00ffa0" stroke="#00ffa0"/>
<path d="M224.8 483.1l9.4 -1.8 3.8 3.5 -9.4 1.9z" fill="#00ff86" stroke="#00ff86"/>
<path d="M247.5 483.1l9.5 -1.6 3.9 3.5 -9.5 1.7z" fill="#00ff86" stroke="#00ff86"/>
<path d="M130.6 496.7l9.2 -3.4 3.3 3.5 -9.3 3.4z" fill="#00ffd0" stroke="#00ffd0"/>
<path d="M193 486.1l9.3 -2.3 3.7 3.5 -9.4 2.4z" fill="#00ff93" stroke="#00ff93"/>
<path d="M161.6 490.6l9.3 -2.8 3.4 3.5 -9.3 2.8z" fill="#00ffab" stroke="#00ffab"/>
<path d="M121.5 500.3l9.1 -3.6 3.2 3.5 -9.2 3.6z" fill="#00ffe1" stroke="#00ffe1"/>
<path d="M215.4 485.2l9.4 -2.1 3.8 3.6 -9.5 2.1z" fill="#00ff8b" stroke="#00ff8b"/>
<path d="M260.9 485l9.6 -1.5 4 3.6 -9.7 1.6z" fill="#00ff8a" stroke="#00ff8a"/>
<path d="M238 484.8l9.5 -1.7 3.9 3.6 -9.6 1.8z" fill="#00ff89" stroke="#00ff89"/>
<path d="M112.3 504.1l9.2 -3.8 3.1 3.5 -9.2 3.9z" fill="#00fff3" stroke="#00fff3"/>
<path d="M152.3 493.6l9.3 -3 3.4 3.5 -9.4 3.1z" fill="#00ffb8" stroke="#00ffb8"/>
<path d="M183.6 488.6l9.4 -2.5 3.6 3.6 -9.5 2.5z" fill="#00ff9c" stroke="#00ff9c"/>
<path d="M103.2 508.1l9.1 -4 3.1 3.6 -9.2 4z" fill="#00f6ff" stroke="#00f6ff"/>
<path d="M206 487.3l9.4 -2.1 3.7 3.6 -9.5 2.2z" fill="#00ff92" stroke="#00ff92"/>
<path d="M143.1 496.8l9.2 -3.2 3.3 3.6 -9.3 3.2z" fill="#00ffc5" stroke="#00ffc5"/>
<path d="M228.6 486.7l9.4 -1.9 3.8 3.7 -9.5 1.9z" fill="#00ff8d" stroke="#00ff8d"/>
<path d="M251.4 486.7l9.5 -1.7 3.9 3.7 -9.6 1.7z" fill="#00ff8c" stroke="#00ff8c"/>
<path d="M174.3 491.3l9.3 -2.7 3.5 3.6 -9.4 2.7z" fill="#00ffa6" stroke="#00ffa6"/>
<path d="M133.8 500.2l9.3 -3.4 3.2 3.6 -9.3 3.5z" fill="#00ffd5" stroke="#00ffd5"/>
<path d="M196.6 489.7l9.4 -2.4 3.6 3.7 -9.5 2.4z" fill="#00ff99" stroke="#00ff99"/>
<path d="M165 494.1l9.3 -2.8 3.4 3.6 -9.4 2.9z" fill="#00ffb1" stroke="#00ffb1"/>
<path d="M219.1 488.8l9.5 -2.1 3.7 3.7 -9.5 2.2z" fill="#00ff92" stroke="#00ff92"/>
<path d="M124.6 503.8l9.2 -3.6 3.2 3.7 -9.3 3.6z" fill="#00ffe5" stroke="#00ffe5"/>
<path d="M241.8 488.5l9.6 -1.8 3.8 3.7 -9.6 1.9z" fill="#00ff90" stroke="#00ff90"/>
<path d="M187.1 492.2l9.5 -2.5 3.5 3.7 -9.5 2.6z" fill="#00ffa2" stroke="#00ffa2"/>
<path d="M115.4 507.7l9.2 -3.9 3.1 3.7 -9.2 3.9z" fill="#00fff7" stroke="#00fff7"/>
<path d="M155.6 497.2l9.4 -3.1 3.3 3.7 -9.3 3.1z" fill="#00ffbd" stroke="#00ffbd"/>
<path d="M106.2 511.7l9.2 -4 3.1 3.7 -9.3 4.1z" fill="#00f1ff" stroke="#00f1ff"/>
<path d="M209.6 491l9.5 -2.2 3.7 3.8 -9.6 2.2z" fill="#00ff98" stroke="#00ff98"/>
<path d="M232.3 490.4l9.5 -1.9 3.8 3.8 -9.6 2z" fill="#00ff94" stroke="#00ff94"/>
<path d="M146.3 500.4l9.3 -3.2 3.4 3.7 -9.4 3.3z" fill="#00ffcb" stroke="#00ffcb"/>
<path d="M177.7 494.9l9.4 -2.7 3.5 3.8 -9.4 2.8z" fill="#00ffac" stroke="#00ffac"/>
<path d="M137 503.9l9.3 -3.5 3.3 3.8 -9.4 3.5z" fill="#00ffda" stroke="#00ffda"/>
<path d="M200.1 493.4l9.5 -2.4 3.6 3.8 -9.5 2.5z" fill="#00ffa0" stroke="#00ffa0"/>
<path d="M168.3 497.8l9.4 -2.9 3.5 3.9 -9.5 2.9z" fill="#00ffb7" stroke="#00ffb7"/>
<path d="M222.8 492.6l9.5 -2.2 3.7 3.9 -9.6 2.2z" fill="#00ff9a" stroke="#00ff9a"/>
<path d="M127.7 507.5l9.3 -3.6 3.2 3.8 -9.3 3.7z" fill="#00ffea" stroke="#00ffea"/>
<path d="M190.6 496l9.5 -2.6 3.6 3.9 -9.6 2.6z" fill="#00ffa9" stroke="#00ffa9"/>
<path d="M159 500.9l9.3 -3.1 3.4 3.9 -9.4 3.1z" fill="#00ffc3" stroke="#00ffc3"/>
<path d="M118.5 511.4l9.2 -3.9 3.2 3.9 -9.4 3.9z" fill="#00fffc" stroke="#00fffc"/>
<path d="M213.2 494.8l9.6 -2.2 3.6 3.9 -9.6 2.3z" fill="#00ffa0" stroke="#00ffa0"/>
<path d="M109.2 515.5l9.3 -4.1 3 3.9 -9.3 4.2z" fill="#00ebff" stroke="#00ebff"/>
<path d="M149.6 504.2l9.4 -3.3 3.3 3.9 -9.5 3.4z" fill="#00ffd1" stroke="#00ffd1"/>
<path d="M181.2 498.8l9.4 -2.8 3.5 3.9 -9.5 2.8z" fill="#00ffb3" stroke="#00ffb3"/>
<path d="M203.7 497.3l9.5 -2.5 3.6 4 -9.6 2.5z" fill="#00ffa8" stroke="#00ffa8"/>
<path d="M140.2 507.7l9.4 -3.5 3.2 4 -9.4 3.5z" fill="#00ffe0" stroke="#00ffe0"/>
<path d="M171.7 501.7l9.5 -2.9 3.4 3.9 -9.5 3z" fill="#00ffbe" stroke="#00ffbe"/>
<path d="M130.9 511.4l9.3 -3.7 3.2 4 -9.4 3.8z" fill="#00fff1" stroke="#00fff1"/>
<path d="M194.1 499.9l9.6 -2.6 3.5 4 -9.6 2.7z" fill="#00ffb1" stroke="#00ffb1"/>
<path d="M162.3 504.8l9.4 -3.1 3.4 4 -9.5 3.2z" fill="#00ffcb" stroke="#00ffcb"/>
<path d="M121.5 515.3l9.4 -3.9 3.1 4.1 -9.4 3.9z" fill="#00faff" stroke="#00faff"/>
<path d="M112.2 519.5l9.3 -4.2 3.1 4.1 -9.4 4.2z" fill="#00e3ff" stroke="#00e3ff"/>
<path d="M152.8 508.2l9.5 -3.4 3.3 4.1 -9.5 3.4z" fill="#00ffd9" stroke="#00ffd9"/>
<path d="M184.6 502.7l9.5 -2.8 3.5 4.1 -9.6 2.9z" fill="#00ffbb" stroke="#00ffbb"/>
<path d="M143.4 511.7l9.4 -3.5 3.3 4.1 -9.5 3.6z" fill="#00ffe8" stroke="#00ffe8"/>
<path d="M175.1 505.7l9.5 -3 3.4 4.2 -9.5 3.1z" fill="#00ffc7" stroke="#00ffc7"/>
<path d="M134 515.5l9.4 -3.8 3.2 4.2 -9.5 3.8z" fill="#00fff9" stroke="#00fff9"/>
<path d="M165.6 508.9l9.5 -3.2 3.4 4.3 -9.6 3.2z" fill="#00ffd4" stroke="#00ffd4"/>
<path d="M124.6 519.4l9.4 -3.9 3.1 4.2 -9.4 4z" fill="#00f1ff" stroke="#00f1ff"/>
<path d="M115.2 523.6l9.4 -4.2 3.1 4.3 -9.5 4.3z" fill="#00daff" stroke="#00daff"/>
<path d="M156.1 512.3l9.5 -3.4 3.3 4.3 -9.6 3.5z" fill="#00ffe2" stroke="#00ffe2"/>
<path d="M146.6 515.9l9.5 -3.6 3.2 4.4 -9.5 3.6z" fill="#00fff1" stroke="#00fff1"/>
<path d="M137.1 519.7l9.5 -3.8 3.2 4.4 -9.5 3.9z" fill="#00fcff" stroke="#00fcff"/>
<path d="M127.7 523.7l9.4 -4 3.2 4.5 -9.6 4z" fill="#00e6ff" stroke="#00e6ff"/>
<path d="M118.2 528l9.5 -4.3 3 4.5 -9.5 4.3z" fill="#00cfff" stroke="#00cfff"/>
</g>
<g fill="none" stroke="#000" stroke-opacity="0.55" stroke-width="0.7">
<polyline points="61.5,472.7 69.7,468.7 77.9,464.9 86.2,461.3 94.4,458 102.7,454.9 111,451.9 119.3,449.2 127.6,446.7 136,444.3 144.3,442.1 152.7,440.2 161,438.3 169.4,436.7 177.7,435.2 186.1,433.9 194.4,432.7 202.8,431.7 211.2,430.9 219.5,430.1 227.9,429.5"/>
<polyline points="61.5,472.7 64.4,474.5 67.4,476.4 70.3,478.4 73.3,480.5 76.3,482.7 79.2,485 82.2,487.4 85.2,490 88.2,492.6 91.2,495.4 94.2,498.4 97.2,501.5 100.2,504.7 103.2,508.1 106.2,511.7 109.2,515.5 112.2,519.5 115.2,523.6 118.2,528 121.2,532.5"/>
<polyline points="64.4,474.5 72.7,470.5 81,466.8 89.3,463.2 97.7,459.9 106,456.8 114.4,453.9 122.8,451.2 131.1,448.7 139.5,446.3 147.9,444.2 156.3,442.2 164.8,440.4 173.2,438.8 181.6,437.3 190,436 198.4,434.9 206.9,433.9 215.3,433 223.7,432.3 232.1,431.7"/>
<polyline points="69.7,468.7 72.7,470.5 75.7,472.5 78.8,474.5 81.8,476.6 84.8,478.8 87.9,481.1 90.9,483.5 94,486 97,488.7 100.1,491.5 103.1,494.4 106.2,497.5 109.2,500.7 112.3,504.1 115.4,507.7 118.5,511.4 121.5,515.3 124.6,519.4 127.7,523.7 130.7,528.2"/>
<polyline points="67.4,476.4 75.7,472.5 84.1,468.7 92.5,465.2 100.9,461.9 109.3,458.8 117.7,455.9 126.2,453.2 134.6,450.7 143.1,448.4 151.6,446.3 160,444.3 168.5,442.5 177,440.9 185.5,439.5 194,438.2 202.4,437 210.9,436 219.4,435.2 227.9,434.5 236.4,433.9"/>
<polyline points="77.9,464.9 81,466.8 84.1,468.7 87.2,470.7 90.3,472.9 93.4,475.1 96.5,477.4 99.6,479.8 102.7,482.3 105.8,485 109,487.8 112.1,490.7 115.2,493.7 118.3,497 121.5,500.3 124.6,503.8 127.7,507.5 130.9,511.4 134,515.5 137.1,519.7 140.3,524.2"/>
<polyline points="70.3,478.4 78.8,474.5 87.2,470.7 95.6,467.2 104.1,464 112.6,460.9 121.1,458 129.6,455.3 138.1,452.8 146.6,450.5 155.2,448.4 163.7,446.4 172.3,444.7 180.8,443.1 189.4,441.6 197.9,440.4 206.5,439.2 215,438.2 223.5,437.4 232.1,436.7 240.6,436.2"/>
<polyline points="86.2,461.3 89.3,463.2 92.5,465.2 95.6,467.2 98.8,469.4 102,471.6 105.2,473.9 108.3,476.3 111.5,478.9 114.7,481.5 117.9,484.3 121.1,487.2 124.2,490.2 127.4,493.4 130.6,496.7 133.8,500.2 137,503.9 140.2,507.7 143.4,511.7 146.6,515.9 149.8,520.3"/>
<polyline points="73.3,480.5 81.8,476.6 90.3,472.9 98.8,469.4 107.3,466.1 115.9,463 124.5,460.2 133,457.5 141.6,455 150.2,452.7 158.8,450.6 167.4,448.7 176,446.9 184.6,445.3 193.2,443.9 201.8,442.6 210.5,441.5 219.1,440.5 227.7,439.7 236.3,439 244.9,438.4"/>
<polyline points="94.4,458 97.7,459.9 100.9,461.9 104.1,464 107.3,466.1 110.6,468.3 113.8,470.6 117.1,473.1 120.3,475.6 123.6,478.2 126.8,481 130.1,483.9 133.3,486.9 136.6,490 139.8,493.3 143.1,496.8 146.3,500.4 149.6,504.2 152.8,508.2 156.1,512.3 159.3,516.7"/>
<polyline points="76.3,482.7 84.8,478.8 93.4,475.1 102,471.6 110.6,468.3 119.2,465.3 127.8,462.4 136.5,459.7 145.1,457.3 153.8,455 162.4,452.9 171.1,450.9 179.8,449.2 188.4,447.6 197.1,446.1 205.8,444.9 214.5,443.8 223.1,442.8 231.8,442 240.5,441.3 249.1,440.7"/>
<polyline points="102.7,454.9 106,456.8 109.3,458.8 112.6,460.9 115.9,463 119.2,465.3 122.5,467.6 125.8,470 129.1,472.5 132.4,475.2 135.7,477.9 139.1,480.8 142.4,483.8 145.7,486.9 149,490.2 152.3,493.6 155.6,497.2 159,500.9 162.3,504.8 165.6,508.9 168.9,513.2"/>
<polyline points="79.2,485 87.9,481.1 96.5,477.4 105.2,473.9 113.8,470.6 122.5,467.6 131.2,464.7 139.9,462.1 148.6,459.6 157.3,457.3 166.1,455.2 174.8,453.3 183.5,451.5 192.3,449.9 201,448.5 209.7,447.2 218.5,446.1 227.2,445.1 235.9,444.3 244.7,443.6 253.4,443"/>
<polyline points="111,451.9 114.4,453.9 117.7,455.9 121.1,458 124.5,460.2 127.8,462.4 131.2,464.7 134.6,467.1 137.9,469.7 141.3,472.3 144.7,475 148.1,477.9 151.4,480.8 154.8,484 158.2,487.2 161.6,490.6 165,494.1 168.3,497.8 171.7,501.7 175.1,505.7 178.5,510"/>
<polyline points="82.2,487.4 90.9,483.5 99.6,479.8 108.3,476.3 117.1,473.1 125.8,470 134.6,467.1 143.3,464.5 152.1,462 160.9,459.7 169.7,457.6 178.5,455.7 187.3,453.9 196.1,452.3 204.9,450.9 213.7,449.6 222.5,448.5 231.3,447.5 240.1,446.7 248.9,446 257.7,445.4"/>
<polyline points="119.3,449.2 122.8,451.2 126.2,453.2 129.6,455.3 133,457.5 136.5,459.7 139.9,462.1 143.3,464.5 146.8,467 150.2,469.6 153.7,472.3 157.1,475.2 160.5,478.1 164,481.2 167.4,484.4 170.9,487.8 174.3,491.3 177.7,494.9 181.2,498.8 184.6,502.7 188,506.9"/>
<polyline points="85.2,490 94,486 102.7,482.3 111.5,478.9 120.3,475.6 129.1,472.5 137.9,469.7 146.8,467 155.6,464.5 164.5,462.2 173.3,460.1 182.2,458.2 191,456.4 199.9,454.8 208.8,453.4 217.6,452.1 226.5,450.9 235.4,449.9 244.2,449.1 253.1,448.4 261.9,447.8"/>
<polyline points="127.6,446.7 131.1,448.7 134.6,450.7 138.1,452.8 141.6,455 145.1,457.3 148.6,459.6 152.1,462 155.6,464.5 159.1,467.1 162.6,469.8 166.1,472.6 169.6,475.6 173.1,478.6 176.6,481.8 180.1,485.1 183.6,488.6 187.1,492.2 190.6,496 194.1,499.9 197.6,504"/>
<polyline points="88.2,492.6 97,488.7 105.8,485 114.7,481.5 123.6,478.2 132.4,475.2 141.3,472.3 150.2,469.6 159.1,467.1 168,464.8 176.9,462.7 185.9,460.7 194.8,459 203.7,457.4 212.6,455.9 221.6,454.6 230.5,453.5 239.4,452.5 248.3,451.6 257.3,450.9 266.2,450.3"/>
<polyline points="136,444.3 139.5,446.3 143.1,448.4 146.6,450.5 150.2,452.7 153.8,455 157.3,457.3 160.9,459.7 164.5,462.2 168,464.8 171.6,467.5 175.2,470.3 178.7,473.2 182.3,476.3 185.9,479.4 189.4,482.7 193,486.1 196.6,489.7 200.1,493.4 203.7,497.3 207.2,501.3"/>
<polyline points="91.2,495.4 100.1,491.5 109,487.8 117.9,484.3 126.8,481 135.7,477.9 144.7,475 153.7,472.3 162.6,469.8 171.6,467.5 180.6,465.4 189.6,463.4 198.6,461.6 207.5,460 216.5,458.5 225.5,457.2 234.5,456 243.5,455 252.5,454.1 261.5,453.4 270.4,452.8"/>
<polyline points="144.3,442.1 147.9,444.2 151.6,446.3 155.2,448.4 158.8,450.6 162.4,452.9 166.1,455.2 169.7,457.6 173.3,460.1 176.9,462.7 180.6,465.4 184.2,468.2 187.8,471.1 191.5,474.1 195.1,477.2 198.7,480.4 202.3,483.8 206,487.3 209.6,491 213.2,494.8 216.8,498.8"/>
<polyline points="94.2,498.4 103.1,494.4 112.1,490.7 121.1,487.2 130.1,483.9 139.1,480.8 148.1,477.9 157.1,475.2 166.1,472.6 175.2,470.3 184.2,468.2 193.3,466.2 202.3,464.4 211.4,462.7 220.4,461.2 229.5,459.9 238.5,458.7 247.6,457.7 256.6,456.8 265.7,456 274.7,455.4"/>
<polyline points="152.7,440.2 156.3,442.2 160,444.3 163.7,446.4 167.4,448.7 171.1,450.9 174.8,453.3 178.5,455.7 182.2,458.2 185.9,460.7 189.6,463.4 193.3,466.2 196.9,469.1 200.6,472 204.3,475.1 208,478.3 211.7,481.7 215.4,485.2 219.1,488.8 222.8,492.6 226.4,496.5"/>
<polyline points="97.2,501.5 106.2,497.5 115.2,493.7 124.2,490.2 133.3,486.9 142.4,483.8 151.4,480.8 160.5,478.1 169.6,475.6 178.7,473.2 187.8,471.1 196.9,469.1 206.1,467.2 215.2,465.5 224.3,464 233.4,462.7 242.5,461.5 251.6,460.4 260.7,459.5 269.8,458.7 278.9,458"/>
<polyline points="161,438.3 164.8,440.4 168.5,442.5 172.3,444.7 176,446.9 179.8,449.2 183.5,451.5 187.3,453.9 191,456.4 194.8,459 198.6,461.6 202.3,464.4 206.1,467.2 209.8,470.2 213.6,473.2 217.3,476.4 221.1,479.7 224.8,483.1 228.6,486.7 232.3,490.4 236,494.3"/>
<polyline points="100.2,504.7 109.2,500.7 118.3,497 127.4,493.4 136.6,490 145.7,486.9 154.8,484 164,481.2 173.1,478.6 182.3,476.3 191.5,474.1 200.6,472 209.8,470.2 219,468.5 228.2,466.9 237.3,465.5 246.5,464.3 255.7,463.2 264.9,462.2 274,461.4 283.2,460.7"/>
<polyline points="169.4,436.7 173.2,438.8 177,440.9 180.8,443.1 184.6,445.3 188.4,447.6 192.3,449.9 196.1,452.3 199.9,454.8 203.7,457.4 207.5,460 211.4,462.7 215.2,465.5 219,468.5 222.8,471.5 226.6,474.6 230.4,477.9 234.2,481.3 238,484.8 241.8,488.5 245.6,492.3"/>
<polyline points="103.2,508.1 112.3,504.1 121.5,500.3 130.6,496.7 139.8,493.3 149,490.2 158.2,487.2 167.4,484.4 176.6,481.8 185.9,479.4 195.1,477.2 204.3,475.1 213.6,473.2 222.8,471.5 232,469.9 241.3,468.5 250.5,467.2 259.8,466.1 269,465.1 278.2,464.2 287.4,463.5"/>
<polyline points="177.7,435.2 181.6,437.3 185.5,439.5 189.4,441.6 193.2,443.9 197.1,446.1 201,448.5 204.9,450.9 208.8,453.4 212.6,455.9 216.5,458.5 220.4,461.2 224.3,464 228.2,466.9 232,469.9 235.9,473 239.8,476.2 243.7,479.6 247.5,483.1 251.4,486.7 255.2,490.4"/>
<polyline points="106.2,511.7 115.4,507.7 124.6,503.8 133.8,500.2 143.1,496.8 152.3,493.6 161.6,490.6 170.9,487.8 180.1,485.1 189.4,482.7 198.7,480.4 208,478.3 217.3,476.4 226.6,474.6 235.9,473 245.2,471.6 254.5,470.3 263.8,469.1 273.1,468 282.4,467.1 291.7,466.4"/>
<polyline points="186.1,433.9 190,436 194,438.2 197.9,440.4 201.8,442.6 205.8,444.9 209.7,447.2 213.7,449.6 217.6,452.1 221.6,454.6 225.5,457.2 229.5,459.9 233.4,462.7 237.3,465.5 241.3,468.5 245.2,471.6 249.2,474.7 253.1,478 257,481.5 260.9,485 264.8,488.7"/>
<polyline points="109.2,515.5 118.5,511.4 127.7,507.5 137,503.9 146.3,500.4 155.6,497.2 165,494.1 174.3,491.3 183.6,488.6 193,486.1 202.3,483.8 211.7,481.7 221.1,479.7 230.4,477.9 239.8,476.2 249.2,474.7 258.5,473.4 267.9,472.2 277.2,471.1 286.6,470.1 295.9,469.3"/>
<polyline points="194.4,432.7 198.4,434.9 202.4,437 206.5,439.2 210.5,441.5 214.5,443.8 218.5,446.1 222.5,448.5 226.5,450.9 230.5,453.5 234.5,456 238.5,458.7 242.5,461.5 246.5,464.3 250.5,467.2 254.5,470.3 258.5,473.4 262.5,476.6 266.5,480 270.5,483.5 274.5,487.1"/>
<polyline points="112.2,519.5 121.5,515.3 130.9,511.4 140.2,507.7 149.6,504.2 159,500.9 168.3,497.8 177.7,494.9 187.1,492.2 196.6,489.7 206,487.3 215.4,485.2 224.8,483.1 234.2,481.3 243.7,479.6 253.1,478 262.5,476.6 271.9,475.4 281.3,474.2 290.8,473.2 300.2,472.4"/>
<polyline points="202.8,431.7 206.9,433.9 210.9,436 215,438.2 219.1,440.5 223.1,442.8 227.2,445.1 231.3,447.5 235.4,449.9 239.4,452.5 243.5,455 247.6,457.7 251.6,460.4 255.7,463.2 259.8,466.1 263.8,469.1 267.9,472.2 271.9,475.4 276,478.7 280,482.1 284.1,485.6"/>
<polyline points="115.2,523.6 124.6,519.4 134,515.5 143.4,511.7 152.8,508.2 162.3,504.8 171.7,501.7 181.2,498.8 190.6,496 200.1,493.4 209.6,491 219.1,488.8 228.6,486.7 238,484.8 247.5,483.1 257,481.5 266.5,480 276,478.7 285.5,477.5 294.9,476.4 304.4,475.5"/>
<polyline points="211.2,430.9 215.3,433 219.4,435.2 223.5,437.4 227.7,439.7 231.8,442 235.9,444.3 240.1,446.7 244.2,449.1 248.3,451.6 252.5,454.1 256.6,456.8 260.7,459.5 264.9,462.2 269,465.1 273.1,468 277.2,471.1 281.3,474.2 285.5,477.5 289.6,480.8 293.7,484.3"/>
<polyline points="118.2,528 127.7,523.7 137.1,519.7 146.6,515.9 156.1,512.3 165.6,508.9 175.1,505.7 184.6,502.7 194.1,499.9 203.7,497.3 213.2,494.8 222.8,492.6 232.3,490.4 241.8,488.5 251.4,486.7 260.9,485 270.5,483.5 280,482.1 289.6,480.8 299.1,479.7 308.6,478.7"/>
<polyline points="219.5,430.1 223.7,432.3 227.9,434.5 232.1,436.7 236.3,439 240.5,441.3 244.7,443.6 248.9,446 253.1,448.4 257.3,450.9 261.5,453.4 265.7,456 269.8,458.7 274,461.4 278.2,464.2 282.4,467.1 286.6,470.1 290.8,473.2 294.9,476.4 299.1,479.7 303.2,483.2"/>
<polyline points="121.2,532.5 130.7,528.2 140.3,524.2 149.8,520.3 159.3,516.7 168.9,513.2 178.5,510 188,506.9 197.6,504 207.2,501.3 216.8,498.8 226.4,496.5 236,494.3 245.6,492.3 255.2,490.4 264.8,488.7 274.5,487.1 284.1,485.6 293.7,484.3 303.2,483.2 312.8,482.1"/>
<polyline points="227.9,429.5 232.1,431.7 236.4,433.9 240.6,436.2 244.9,438.4 249.1,440.7 253.4,443 257.7,445.4 261.9,447.8 266.2,450.3 270.4,452.8 274.7,455.4 278.9,458 283.2,460.7 287.4,463.5 291.7,466.4 295.9,469.3 300.2,472.4 304.4,475.5 308.6,478.7 312.8,482.1"/>
</g>
<text x="57.3" y="511" font-size="10.2" text-anchor="end" textLength="22.4" lengthAdjust="spacingAndGlyphs">-5000</text>
<text x="56.5" y="486.7" font-size="10.2" text-anchor="end" textLength="4.9" lengthAdjust="spacingAndGlyphs">0</text>
<text x="55.7" y="462.3" font-size="10.2" text-anchor="end" textLength="19.5" lengthAdjust="spacingAndGlyphs">5000</text>
<text x="55" y="438" font-size="10.2" text-anchor="end" textLength="24.4" lengthAdjust="spacingAndGlyphs">10000</text>
<text x="54.2" y="413.7" font-size="10.2" text-anchor="end" textLength="24.4" lengthAdjust="spacingAndGlyphs">15000</text>
<text x="53.4" y="389.4" font-size="10.2" text-anchor="end" textLength="24.4" lengthAdjust="spacingAndGlyphs">20000</text>
<text x="52.6" y="365" font-size="10.2" text-anchor="end" textLength="24.4" lengthAdjust="spacingAndGlyphs">25000</text>
<text x="55.5" y="570.7" font-size="10.2" text-anchor="middle" textLength="4.9" lengthAdjust="spacingAndGlyphs">0</text>
<text x="70.2" y="590.3" font-size="10.2" text-anchor="middle" textLength="4.9" lengthAdjust="spacingAndGlyphs">2</text>
<text x="84.8" y="609.9" font-size="10.2" text-anchor="middle" textLength="4.9" lengthAdjust="spacingAndGlyphs">4</text>
<text x="99.5" y="629.5" font-size="10.2" text-anchor="middle" textLength="4.9" lengthAdjust="spacingAndGlyphs">6</text>
<text x="114.2" y="649.1" font-size="10.2" text-anchor="middle" textLength="4.9" lengthAdjust="spacingAndGlyphs">8</text>
<text x="128.6" y="648.9" font-size="10.2" textLength="12.2" lengthAdjust="spacingAndGlyphs">0.1</text>
<text x="165.6" y="641.9" font-size="10.2" textLength="17.1" lengthAdjust="spacingAndGlyphs">5.08</text>
<text x="202.7" y="635" font-size="10.2" textLength="21.9" lengthAdjust="spacingAndGlyphs">10.06</text>
<text x="239.8" y="628" font-size="10.2" textLength="21.9" lengthAdjust="spacingAndGlyphs">15.04</text>
<text x="276.9" y="621" font-size="10.2" textLength="21.9" lengthAdjust="spacingAndGlyphs">20.02</text>
<text x="313.9" y="614.1" font-size="10.2" textLength="9.8" lengthAdjust="spacingAndGlyphs">25</text>
<text transform="translate(18.9,466.2) rotate(-90)" font-size="10.2" text-anchor="middle" textLength="111" lengthAdjust="spacingAndGlyphs">Dynamic modulus (Mpa)</text>
<text x="14.7" y="616.7" font-size="10.2" textLength="39.5" lengthAdjust="spacingAndGlyphs">A: NR (%)</text>
<text x="221.8" y="658.7" font-size="10.2" textLength="47.6" lengthAdjust="spacingAndGlyphs">B: Freq (Hz)</text>
<text x="146.6" y="701" font-size="18" font-family="Liberation Serif, serif" fill="#000" stroke="#000" stroke-width="0.2" textLength="19.3" lengthAdjust="spacingAndGlyphs">(c)</text>
<line x1="400.3" y1="372" x2="405.2" y2="525.9" stroke="#6e6e6e" stroke-width="0.75"/>
<line x1="436.8" y1="368.9" x2="440.4" y2="521.1" stroke="#6e6e6e" stroke-width="0.75"/>
<line x1="473.3" y1="365.8" x2="475.6" y2="516.2" stroke="#6e6e6e" stroke-width="0.75"/>
<line x1="509.9" y1="362.7" x2="510.7" y2="511.4" stroke="#6e6e6e" stroke-width="0.75"/>
<line x1="546.4" y1="359.6" x2="545.9" y2="506.6" stroke="#6e6e6e" stroke-width="0.75"/>
<line x1="582.9" y1="356.5" x2="581" y2="501.8" stroke="#6e6e6e" stroke-width="0.75"/>
<line x1="582.9" y1="356.5" x2="581" y2="501.8" stroke="#6e6e6e" stroke-width="0.75"/>
<line x1="606.1" y1="367" x2="603.2" y2="518.1" stroke="#6e6e6e" stroke-width="0.75"/>
<line x1="629.4" y1="377.6" x2="625.4" y2="534.4" stroke="#6e6e6e" stroke-width="0.75"/>
<line x1="652.6" y1="388.2" x2="647.5" y2="550.8" stroke="#6e6e6e" stroke-width="0.75"/>
<line x1="675.8" y1="398.8" x2="669.7" y2="567.1" stroke="#6e6e6e" stroke-width="0.75"/>
<line x1="405.2" y1="525.9" x2="581" y2="501.8" stroke="#6e6e6e" stroke-width="0.75"/>
<line x1="581" y1="501.8" x2="669.7" y2="567.1" stroke="#6e6e6e" stroke-width="0.75"/>
<line x1="404.4" y1="500.2" x2="581.4" y2="477.6" stroke="#6e6e6e" stroke-width="0.75"/>
<line x1="581.4" y1="477.6" x2="670.7" y2="539" stroke="#6e6e6e" stroke-width="0.75"/>
<line x1="403.6" y1="474.6" x2="581.7" y2="453.4" stroke="#6e6e6e" stroke-width="0.75"/>
<line x1="581.7" y1="453.4" x2="671.7" y2="511" stroke="#6e6e6e" stroke-width="0.75"/>
<line x1="402.8" y1="448.9" x2="582" y2="429.1" stroke="#6e6e6e" stroke-width="0.75"/>
<line x1="582" y1="429.1" x2="672.7" y2="482.9" stroke="#6e6e6e" stroke-width="0.75"/>
<line x1="401.9" y1="423.3" x2="582.3" y2="404.9" stroke="#6e6e6e" stroke-width="0.75"/>
<line x1="582.3" y1="404.9" x2="673.8" y2="454.9" stroke="#6e6e6e" stroke-width="0.75"/>
<line x1="401.1" y1="397.7" x2="582.6" y2="380.7" stroke="#6e6e6e" stroke-width="0.75"/>
<line x1="582.6" y1="380.7" x2="674.8" y2="426.8" stroke="#6e6e6e" stroke-width="0.75"/>
<line x1="400.3" y1="372" x2="582.9" y2="356.5" stroke="#6e6e6e" stroke-width="0.75"/>
<line x1="582.9" y1="356.5" x2="675.8" y2="398.8" stroke="#6e6e6e" stroke-width="0.75"/>
<line x1="406.8" y1="574.3" x2="405.2" y2="525.9" stroke="#6e6e6e" stroke-width="0.75"/>
<line x1="580.5" y1="547.6" x2="581" y2="501.8" stroke="#6e6e6e" stroke-width="0.75"/>
<line x1="667.8" y1="620.1" x2="669.7" y2="567.1" stroke="#6e6e6e" stroke-width="0.75"/>
<polygon points="406.8,574.3 580.5,547.6 667.8,620.1 469.3,656.9" fill="#646464" stroke="#3a3a3a" stroke-width="0.7"/>
<polyline points="416.1,586.6 416,585.2 416,583.6 416.1,582.2 416.1,582.1 416.2,580.5 416.3,579 416.4,578.4 416.6,577.4 416.8,575.8 417,574.9 417.2,574.3 417.6,572.7" fill="none" stroke="#000eff" stroke-width="0.9"/>
<polyline points="485.2,653.9 482.2,652.9 481,652.5 479.3,651.9 476.5,650.8 475.7,650.5 473.9,649.8 471.3,648.7 470.2,648.2 468.7,647.6 466.3,646.5 464.4,645.5 464,645.3 461.7,644.2 459.5,643 458.3,642.3" fill="none" stroke="#000eff" stroke-width="0.9"/>
<polyline points="503.7,650.5 501.7,650 500.2,649.6 496.9,648.7 496.8,648.6 493.7,647.7 491.7,647.1 490.7,646.7 487.7,645.7 486.5,645.2 484.9,644.6 482.2,643.6 481.1,643.1 479.6,642.5 477.1,641.4 475.4,640.6 474.7,640.3 472.3,639.1 470.1,638 469.3,637.6 467.9,636.8 465.8,635.6 463.8,634.4 462.7,633.8 461.8,633.2 460,632 458.1,630.8 456.4,629.5 455,628.5 454.7,628.3 453.1,627 451.5,625.7 450,624.4 448.6,623.1 447.2,621.8 445.8,620.5 444.6,619.2 443.3,617.8 442.5,616.9 442.2,616.5 441,615.1 440,613.7 439,612.3 438,611 437.9,610.8 437.1,609.6 436.2,608.2 435.4,606.7 434.6,605.3 433.9,603.9 433.3,602.5 432.7,601 432.1,599.6 431.6,598.1 431.6,598.1 431.1,596.6 430.7,595.2 430.4,593.7 430.1,592.2 430,591.7 429.9,590.7 429.7,589.2 429.5,587.7 429.5,586.7 429.5,586.1 429.5,584.6 429.5,583.1 429.5,582.5 429.6,581.5 429.8,579.9 429.9,578.9 430,578.4 430.3,576.8 430.6,575.6 430.7,575.2 431.2,573.6 431.5,572.6 431.7,572 432.3,570.4" fill="none" stroke="#0029ff" stroke-width="0.9"/>
<polyline points="666.3,618.9 665.3,620.5" fill="none" stroke="#0029ff" stroke-width="0.9"/>
<polyline points="571.9,548.9 575.4,549.8 576.6,550.1 578.8,550.7 581.8,551.6 582.1,551.7 585.2,552.6 587.2,553.2" fill="none" stroke="#0045ff" stroke-width="0.9"/>
<polyline points="652.2,607.2 652.1,608.2 651.7,609.7 651.7,610 651.2,611.3 650.8,612.6 650.6,612.9 649.8,614.5 649.6,614.9 648.9,616.2 648.3,617.2 647.8,617.8 646.7,619.3 646.5,619.6 645,621.3 645,621.3 643.2,623.1 643.2,623.1 641.2,624.9 641.1,625" fill="none" stroke="#0045ff" stroke-width="0.9"/>
<polyline points="527.9,646 524.7,645.5 523.4,645.3 520.2,644.7 519.2,644.5 515.6,643.8 515.2,643.7 511.5,642.9 510.8,642.7 508,642 506,641.4 504.6,641 501.4,640.1 500.9,639.9 498.4,639.1 495.7,638.2 495.4,638.1 492.7,637 490.3,636.1 490,636 487.4,634.9 485,633.8 484.5,633.5 482.6,632.6 480.4,631.5 478.2,630.3 478.2,630.3 476.1,629.1 474.1,627.9 472.2,626.7 471.1,626 470.3,625.5 468.6,624.3 466.9,623 465.3,621.8 463.7,620.5 462.2,619.2 461.6,618.7 460.8,617.9 459.4,616.6 458.1,615.3 456.9,613.9 455.7,612.6 454.6,611.2 453.6,609.9 452.6,608.5 451.6,607.1 450.8,605.7 449.9,604.3 449.4,603.3 449.2,602.9 448.5,601.5 447.8,600 447.3,598.6 446.7,597.1 446.3,595.7 446,594.8 445.9,594.2 445.6,592.7 445.3,591.2 445.1,589.8 445,589.4 444.9,588.2 444.9,586.7 444.9,585.2 444.9,585 444.9,583.7 445.1,582.1 445.2,581.3 445.3,580.5 445.6,579 445.8,578.1 446,577.4 446.5,575.8 446.7,575.2 447.1,574.2 447.8,572.6 447.8,572.5 448.6,570.9 449,570.1 449.5,569.3 450.4,567.9 450.6,567.6" fill="none" stroke="#0045ff" stroke-width="0.9"/>
<polyline points="544.9,553.1 546,553.2 549.9,553.8 550,553.8 554.2,554.4 554.5,554.5 558.5,555.2 558.8,555.3 562.8,556.1 563,556.2 566.5,557 567.7,557.3 570.1,557.9 572.6,558.6 573.5,558.8 576.7,559.7 577.9,560.1 579.8,560.7 582.7,561.7 583.6,561.9 585.6,562.7 588.3,563.7 589.8,564.2 590.9,564.7 593.4,565.7 595.9,566.8 596.9,567.2 598.2,567.8 600.5,568.9 602.6,570 604.7,571.1 605.9,571.8 606.8,572.2 608.7,573.4 610.5,574.5 612.3,575.7 614,576.8 615.7,578 617.2,579.2 618.7,580.4 620.2,581.6 621.5,582.8 622.8,584.1 624,585.3 625.1,586.6 626.1,587.9 627.1,589.2 627.5,589.8 627.9,590.5 628.7,591.8 629.4,593.2 630.1,594.5 630.4,595.5 630.6,595.9 631,597.3 631.3,598.7 631.5,599.6 631.6,600.1 631.7,601.6 631.7,603 631.7,603 631.5,604.5 631.3,606 631.3,606.1 630.8,607.6 630.5,608.7 630.3,609.2 629.5,610.8 629.4,611.1 628.6,612.5 628,613.3 627.4,614.1 626.4,615.4 626,615.9 624.7,617.3 624.3,617.7 622.8,619.1 622.2,619.6 620.7,620.8 619.7,621.5 618.5,622.4 616.7,623.6 616.2,623.9 613.8,625.2 612.8,625.8 611.2,626.6 608.6,627.8 607.6,628.2 605.9,628.9 603.1,630 600.2,631 599.7,631.2 597.2,632 594.2,632.8 591.1,633.6 587.9,634.3 584.6,635 581.3,635.6 577.9,636.1 574.4,636.6 570.9,636.9 567.3,637.2 566.9,637.3 563.6,637.5 559.9,637.6 556.5,637.6 556.1,637.7 552.2,637.6 549,637.5 548.2,637.5 544.1,637.3 542.7,637.1 540,636.9 537.1,636.6 535.8,636.5 532.2,636 531.4,635.9 527.7,635.3 527,635.2 523.6,634.5 522.4,634.3 519.7,633.7 517.7,633.2 516.1,632.8 512.8,631.9 512.8,631.9 509.6,630.9 507.7,630.3 506.6,629.9 503.7,628.9 502.2,628.3 501,627.8 498.5,626.7 496.4,625.8 496,625.6 493.7,624.5 491.5,623.3 490,622.5 489.4,622.2 487.4,621 485.5,619.8 483.6,618.6 482.2,617.5 481.9,617.3 480.3,616.1 478.7,614.8 477.2,613.5 475.8,612.2 474.5,610.9 473.2,609.6 472.1,608.3 471,606.9 469.9,605.6 469,604.2 468.1,602.8 467.3,601.4 466.6,600 465.9,598.6 465.5,597.6 465.3,597.1 464.8,595.7 464.4,594.2 464,592.8 463.7,591.4 463.7,591.3 463.5,589.8 463.4,588.3 463.4,587 463.4,586.8 463.5,585.2 463.7,583.7 463.7,583.4 463.9,582.1 464.3,580.6 464.4,580.2 464.8,579 465.4,577.5 465.4,577.4 466.2,575.7 466.6,575 467.2,574.1 468,572.8 468.2,572.4 469.5,570.8 469.5,570.7 471.1,568.9 471.1,568.9 472.9,567.2 472.9,567.2 474.7,565.6 475,565.3 476.7,564.1 477.6,563.4" fill="none" stroke="#0060ff" stroke-width="0.9"/>
<polyline points="513.3,566.8 515.7,566.3 518.6,565.8 521.6,565.4 523.8,565.1 524.6,565.1 527.9,564.9 531.2,564.8 534.6,564.8 535.4,564.8 538.2,564.9 541.9,565.2 542.2,565.2 545.7,565.5 547.7,565.8 549.8,566.1 552.4,566.5 554,566.8 556.6,567.3 558.5,567.7 560.4,568.1 563.3,568.9 564,569 567.2,570 568.5,570.3 570.3,570.9 573.2,571.9 574.2,572.3 575.9,573 578.4,574 580.9,575.1 580.9,575.1 583.1,576.1 585.3,577.3 587.3,578.4 589.2,579.5 590.4,580.3 591,580.7 592.7,581.9 594.3,583.1 595.8,584.3 597.2,585.5 598.4,586.8 599.6,588 600.6,589.2 600.7,589.3 601.6,590.6 602.4,592 603.1,593.3 603.7,594.7 604,595.5 604.2,596.1 604.5,597.5 604.6,599 604.6,599.4 604.6,600.4 604.4,601.9 604.3,602.5 604.1,603.5 603.5,605.1 603.4,605.2 602.6,606.7 602.1,607.5 601.4,608.4 600.6,609.5 599.9,610.2 598.7,611.3 598,612 596.7,613 595.3,614 594.5,614.5 592.1,615.9 591.8,616.1 589.6,617.2 587,618.3 586.3,618.6 584.2,619.4 581.3,620.3 578.4,621.1 575.3,621.9 572.1,622.5 568.8,623 565.4,623.4 561.9,623.8 558.3,624 556,624.1 554.6,624.1 550.8,624.1 548.1,624 546.9,623.9 542.8,623.6 542.1,623.5 538.6,623.1 537.1,622.9 534.2,622.5 532.6,622.2 529.7,621.6 528.7,621.3 525.1,620.5 524.9,620.4 521.8,619.5 519.8,618.9 518.8,618.5 516,617.5 514.3,616.8 513.3,616.4 510.9,615.3 508.6,614.2 508,613.9 506.5,613.1 504.5,611.9 502.6,610.7 500.9,609.4 499.4,608.3 499.3,608.2 497.8,606.9 496.4,605.6 495.1,604.3 493.9,603 492.9,601.7 491.9,600.3 491,598.9 490.9,598.8 490.3,597.5 489.7,596.1 489.2,594.7 488.7,593.3 488.5,592 488.4,591.8 488.3,590.3 488.2,588.8 488.3,588 488.3,587.3 488.6,585.7 488.8,584.7 489,584.1 489.6,582.5 489.8,582.1 490.5,580.9 491.1,579.8 491.5,579.2 492.7,577.7 492.9,577.5 494.4,575.9 494.6,575.7 496.3,574.3 496.9,573.9 498.3,572.9 499.9,571.9 500.5,571.6 502.7,570.4 504.3,569.7 505.1,569.4 507.6,568.4 510.2,567.6 512.9,566.9 513.3,566.8" fill="none" stroke="#007cff" stroke-width="0.9"/>
<circle cx="406.8" cy="574.3" r="1.25" fill="#000"/>
<circle cx="422.4" cy="595" r="1.25" fill="#000"/>
<circle cx="438" cy="615.6" r="1.25" fill="#000"/>
<circle cx="453.7" cy="636.2" r="1.25" fill="#000"/>
<circle cx="469.3" cy="656.9" r="1.25" fill="#000"/>
<circle cx="469.3" cy="656.9" r="1.25" fill="#000"/>
<circle cx="509" cy="649.5" r="1.25" fill="#000"/>
<circle cx="548.7" cy="642.2" r="1.25" fill="#000"/>
<circle cx="588.4" cy="634.8" r="1.25" fill="#000"/>
<circle cx="628.1" cy="627.4" r="1.25" fill="#000"/>
<circle cx="667.8" cy="620.1" r="1.25" fill="#000"/>
<circle cx="405.2" cy="525.9" r="1.25" fill="#000"/>
<circle cx="404.4" cy="500.2" r="1.25" fill="#000"/>
<circle cx="403.6" cy="474.6" r="1.25" fill="#000"/>
<circle cx="402.8" cy="448.9" r="1.25" fill="#000"/>
<circle cx="401.9" cy="423.3" r="1.25" fill="#000"/>
<circle cx="401.1" cy="397.7" r="1.25" fill="#000"/>
<circle cx="400.3" cy="372" r="1.25" fill="#000"/>
<circle cx="433.5" cy="533.1" r="2.9" fill="#ffc6c6" stroke="#bf9a9a" stroke-width="0.55"/>
<circle cx="449" cy="550.6" r="2.9" fill="#ffc6c6" stroke="#bf9a9a" stroke-width="0.55"/>
<circle cx="509.9" cy="560.3" r="2.9" fill="#ffc6c6" stroke="#bf9a9a" stroke-width="0.55"/>
<circle cx="551.8" cy="551.8" r="2.9" fill="#ffc6c6" stroke="#bf9a9a" stroke-width="0.55"/>
<circle cx="646" cy="510.8" r="2.9" fill="#c80000" stroke="#8c0000" stroke-width="0.5"/>
<g stroke-width="0.5">
<path d="M572.6 471l8.8 0.1 4.5 2.2 -8.9 -0.1z" fill="#0043ff" stroke="#0043ff"/>
<path d="M563.7 471l8.9 0 4.4 2.2 -8.9 0z" fill="#004eff" stroke="#004eff"/>
<path d="M554.9 471.2l8.8 -0.2 4.4 2.2 -8.9 0.2z" fill="#0058ff" stroke="#0058ff"/>
<path d="M577 473.2l8.9 0.1 4.5 2.3 -9 -0.1z" fill="#004bff" stroke="#004bff"/>
<path d="M546 471.6l8.9 -0.4 4.3 2.2 -9 0.4z" fill="#0060ff" stroke="#0060ff"/>
<path d="M568.1 473.2l8.9 0 4.4 2.3 -8.9 0z" fill="#0056ff" stroke="#0056ff"/>
<path d="M537.1 472.1l8.9 -0.5 4.2 2.2 -8.9 0.5z" fill="#0067ff" stroke="#0067ff"/>
<path d="M581.4 475.5l9 0.1 4.5 2.4 -9 -0.1z" fill="#0051ff" stroke="#0051ff"/>
<path d="M559.2 473.4l8.9 -0.2 4.4 2.3 -9 0.2z" fill="#0060ff" stroke="#0060ff"/>
<path d="M528.3 472.8l8.8 -0.7 4.2 2.2 -8.9 0.7z" fill="#006cff" stroke="#006cff"/>
<path d="M550.2 473.8l9 -0.4 4.3 2.3 -9 0.4z" fill="#0068ff" stroke="#0068ff"/>
<path d="M572.5 475.5l8.9 0 4.5 2.4 -9.1 0z" fill="#005dff" stroke="#005dff"/>
<path d="M519.4 473.6l8.9 -0.8 4.1 2.2 -9 0.9z" fill="#006fff" stroke="#006fff"/>
<path d="M541.3 474.3l8.9 -0.5 4.3 2.3 -9 0.6z" fill="#006eff" stroke="#006eff"/>
<path d="M585.9 477.9l9 0.1 4.5 2.4 -9.1 -0.1z" fill="#0057ff" stroke="#0057ff"/>
<path d="M563.5 475.7l9 -0.2 4.3 2.4 -9 0.2z" fill="#0066ff" stroke="#0066ff"/>
<path d="M510.5 474.6l8.9 -1 4 2.3 -8.9 1z" fill="#0070ff" stroke="#0070ff"/>
<path d="M532.4 475l8.9 -0.7 4.2 2.4 -9 0.7z" fill="#0073ff" stroke="#0073ff"/>
<path d="M554.5 476.1l9 -0.4 4.3 2.4 -9.1 0.4z" fill="#006fff" stroke="#006fff"/>
<path d="M576.8 477.9l9.1 0 4.4 2.4 -9.1 0.1z" fill="#0062ff" stroke="#0062ff"/>
<path d="M501.6 475.8l8.9 -1.2 4 2.3 -9 1.2z" fill="#0070ff" stroke="#0070ff"/>
<path d="M523.4 475.9l9 -0.9 4.1 2.4 -9.1 0.8z" fill="#0076ff" stroke="#0076ff"/>
<path d="M492.8 477.2l8.8 -1.4 3.9 2.3 -8.9 1.4z" fill="#006fff" stroke="#006fff"/>
<path d="M545.5 476.7l9 -0.6 4.2 2.4 -9.1 0.6z" fill="#0075ff" stroke="#0075ff"/>
<path d="M590.3 480.3l9.1 0.1 4.5 2.6 -9.2 -0.1z" fill="#005cff" stroke="#005cff"/>
<path d="M567.8 478.1l9 -0.2 4.4 2.5 -9.2 0.2z" fill="#006cff" stroke="#006cff"/>
<path d="M514.5 476.9l8.9 -1 4 2.3 -9 1.1z" fill="#0078ff" stroke="#0078ff"/>
<path d="M483.9 478.7l8.9 -1.5 3.8 2.3 -8.9 1.5z" fill="#006bff" stroke="#006bff"/>
<path d="M536.5 477.4l9 -0.7 4.1 2.4 -9.1 0.7z" fill="#007aff" stroke="#007aff"/>
<path d="M558.7 478.5l9.1 -0.4 4.2 2.5 -9.1 0.4z" fill="#0074ff" stroke="#0074ff"/>
<path d="M581.2 480.4l9.1 -0.1 4.4 2.6 -9.2 0.1z" fill="#0067ff" stroke="#0067ff"/>
<path d="M505.5 478.1l9 -1.2 3.9 2.4 -9 1.2z" fill="#0078ff" stroke="#0078ff"/>
<path d="M475 480.4l8.9 -1.7 3.8 2.3 -9 1.8z" fill="#0067ff" stroke="#0067ff"/>
<path d="M527.4 478.2l9.1 -0.8 4 2.4 -9 0.9z" fill="#007dff" stroke="#007dff"/>
<path d="M466.2 482.3l8.8 -1.9 3.7 2.4 -8.9 1.9z" fill="#0060ff" stroke="#0060ff"/>
<path d="M594.7 482.9l9.2 0.1 4.5 2.6 -9.3 -0.1z" fill="#005fff" stroke="#005fff"/>
<path d="M549.6 479.1l9.1 -0.6 4.2 2.5 -9.1 0.6z" fill="#007bff" stroke="#007bff"/>
<path d="M496.6 479.5l8.9 -1.4 3.9 2.4 -9 1.4z" fill="#0076ff" stroke="#0076ff"/>
<path d="M572 480.6l9.2 -0.2 4.3 2.6 -9.2 0.2z" fill="#0071ff" stroke="#0071ff"/>
<path d="M457.3 484.3l8.9 -2 3.6 2.4 -8.9 2z" fill="#0058ff" stroke="#0058ff"/>
<path d="M518.4 479.3l9 -1.1 4.1 2.5 -9.1 1z" fill="#007fff" stroke="#007fff"/>
<path d="M487.7 481l8.9 -1.5 3.8 2.4 -9 1.6z" fill="#0073ff" stroke="#0073ff"/>
<path d="M540.5 479.8l9.1 -0.7 4.2 2.5 -9.2 0.7z" fill="#0080ff" stroke="#0080ff"/>
<path d="M585.5 483l9.2 -0.1 4.4 2.6 -9.2 0.1z" fill="#006bff" stroke="#006bff"/>
<path d="M448.5 486.6l8.8 -2.3 3.6 2.4 -8.9 2.3z" fill="#004eff" stroke="#004eff"/>
<path d="M562.9 481l9.1 -0.4 4.3 2.6 -9.2 0.4z" fill="#0079ff" stroke="#0079ff"/>
<path d="M509.4 480.5l9 -1.2 4 2.4 -9.1 1.3z" fill="#007fff" stroke="#007fff"/>
<path d="M478.7 482.8l9 -1.8 3.7 2.5 -9 1.7z" fill="#006eff" stroke="#006eff"/>
<path d="M439.6 489l8.9 -2.4 3.5 2.4 -8.9 2.4z" fill="#0043ff" stroke="#0043ff"/>
<path d="M531.5 480.7l9 -0.9 4.1 2.5 -9.1 0.9z" fill="#0083ff" stroke="#0083ff"/>
<path d="M599.1 485.5l9.3 0.1 4.5 2.8 -9.3 -0.1z" fill="#0062ff" stroke="#0062ff"/>
<path d="M553.8 481.6l9.1 -0.6 4.2 2.6 -9.2 0.6z" fill="#0080ff" stroke="#0080ff"/>
<path d="M469.8 484.7l8.9 -1.9 3.7 2.4 -9 1.9z" fill="#0068ff" stroke="#0068ff"/>
<path d="M430.8 491.6l8.8 -2.6 3.5 2.4 -8.9 2.6z" fill="#0036ff" stroke="#0036ff"/>
<path d="M576.3 483.2l9.2 -0.2 4.4 2.6 -9.3 0.3z" fill="#0075ff" stroke="#0075ff"/>
<path d="M500.4 481.9l9 -1.4 3.9 2.5 -9.1 1.4z" fill="#007dff" stroke="#007dff"/>
<path d="M422 494.3l8.8 -2.7 3.4 2.4 -8.9 2.8z" fill="#0027ff" stroke="#0027ff"/>
<path d="M522.4 481.7l9.1 -1 4 2.5 -9.1 1.1z" fill="#0085ff" stroke="#0085ff"/>
<path d="M460.9 486.7l8.9 -2 3.6 2.4 -9 2.1z" fill="#0060ff" stroke="#0060ff"/>
<path d="M491.4 483.5l9 -1.6 3.8 2.5 -9 1.6z" fill="#007aff" stroke="#007aff"/>
<path d="M413.2 497.3l8.8 -3 3.3 2.5 -8.9 3z" fill="#0017ff" stroke="#0017ff"/>
<path d="M544.6 482.3l9.2 -0.7 4.1 2.6 -9.2 0.7z" fill="#0085ff" stroke="#0085ff"/>
<path d="M589.9 485.6l9.2 -0.1 4.5 2.8 -9.3 0.1z" fill="#006eff" stroke="#006eff"/>
<path d="M567.1 483.6l9.2 -0.4 4.3 2.7 -9.2 0.4z" fill="#007dff" stroke="#007dff"/>
<path d="M452 489l8.9 -2.3 3.5 2.5 -8.9 2.3z" fill="#0056ff" stroke="#0056ff"/>
<path d="M404.4 500.4l8.8 -3.1 3.2 2.5 -8.8 3.2z" fill="#0005ff" stroke="#0005ff"/>
<path d="M513.3 483l9.1 -1.3 4 2.6 -9.2 1.2z" fill="#0085ff" stroke="#0085ff"/>
<path d="M482.4 485.2l9 -1.7 3.8 2.5 -9.1 1.7z" fill="#0075ff" stroke="#0075ff"/>
<path d="M443.1 491.4l8.9 -2.4 3.5 2.5 -9 2.5z" fill="#004bff" stroke="#004bff"/>
<path d="M535.5 483.2l9.1 -0.9 4.1 2.6 -9.2 0.9z" fill="#0088ff" stroke="#0088ff"/>
<path d="M603.6 488.3l9.3 0.1 4.5 2.8 -9.4 -0.1z" fill="#0064ff" stroke="#0064ff"/>
<path d="M557.9 484.2l9.2 -0.6 4.3 2.7 -9.3 0.6z" fill="#0084ff" stroke="#0084ff"/>
<path d="M580.6 485.9l9.3 -0.3 4.4 2.8 -9.4 0.2z" fill="#0078ff" stroke="#0078ff"/>
<path d="M473.4 487.1l9 -1.9 3.7 2.5 -9.1 2z" fill="#006fff" stroke="#006fff"/>
<path d="M504.2 484.4l9.1 -1.4 3.9 2.5 -9.1 1.5z" fill="#0083ff" stroke="#0083ff"/>
<path d="M434.2 494l8.9 -2.6 3.4 2.6 -9 2.6z" fill="#003eff" stroke="#003eff"/>
<path d="M425.3 496.8l8.9 -2.8 3.3 2.6 -8.9 2.8z" fill="#002fff" stroke="#002fff"/>
<path d="M526.4 484.3l9.1 -1.1 4 2.6 -9.2 1.1z" fill="#008aff" stroke="#008aff"/>
<path d="M464.4 489.2l9 -2.1 3.6 2.6 -9 2.1z" fill="#0067ff" stroke="#0067ff"/>
<path d="M495.2 486l9 -1.6 3.9 2.6 -9.2 1.6z" fill="#0080ff" stroke="#0080ff"/>
<path d="M548.7 484.9l9.2 -0.7 4.2 2.7 -9.3 0.7z" fill="#0089ff" stroke="#0089ff"/>
<path d="M594.3 488.4l9.3 -0.1 4.4 2.8 -9.4 0.1z" fill="#0070ff" stroke="#0070ff"/>
<path d="M416.4 499.8l8.9 -3 3.3 2.6 -9 3z" fill="#001fff" stroke="#001fff"/>
<path d="M571.4 486.3l9.2 -0.4 4.3 2.7 -9.3 0.5z" fill="#0080ff" stroke="#0080ff"/>
<path d="M455.5 491.5l8.9 -2.3 3.6 2.6 -9.1 2.3z" fill="#005dff" stroke="#005dff"/>
<path d="M407.6 503l8.8 -3.2 3.2 2.6 -8.9 3.3z" fill="#000dff" stroke="#000dff"/>
<path d="M517.2 485.5l9.2 -1.2 3.9 2.6 -9.2 1.3z" fill="#008aff" stroke="#008aff"/>
<path d="M486.1 487.7l9.1 -1.7 3.7 2.6 -9.1 1.8z" fill="#007bff" stroke="#007bff"/>
<path d="M608 491.1l9.4 0.1 4.4 2.9 -9.4 0z" fill="#0065ff" stroke="#0065ff"/>
<path d="M446.5 494l9 -2.5 3.4 2.6 -9 2.5z" fill="#0052ff" stroke="#0052ff"/>
<path d="M539.5 485.8l9.2 -0.9 4.1 2.7 -9.2 1z" fill="#008cff" stroke="#008cff"/>
<path d="M584.9 488.6l9.4 -0.2 4.3 2.8 -9.4 0.3z" fill="#007aff" stroke="#007aff"/>
<path d="M562.1 486.9l9.3 -0.6 4.2 2.8 -9.3 0.6z" fill="#0087ff" stroke="#0087ff"/>
<path d="M477 489.7l9.1 -2 3.7 2.7 -9.1 1.9z" fill="#0075ff" stroke="#0075ff"/>
<path d="M508.1 487l9.1 -1.5 3.9 2.7 -9.2 1.4z" fill="#0088ff" stroke="#0088ff"/>
<path d="M437.5 496.6l9 -2.6 3.4 2.6 -9 2.7z" fill="#0045ff" stroke="#0045ff"/>
<path d="M530.3 486.9l9.2 -1.1 4.1 2.8 -9.3 1.1z" fill="#008eff" stroke="#008eff"/>
<path d="M428.6 499.4l8.9 -2.8 3.4 2.7 -9 2.8z" fill="#0036ff" stroke="#0036ff"/>
<path d="M468 491.8l9 -2.1 3.7 2.6 -9.1 2.2z" fill="#006dff" stroke="#006dff"/>
<path d="M598.6 491.2l9.4 -0.1 4.4 3 -9.4 0.1z" fill="#0071ff" stroke="#0071ff"/>
<path d="M552.8 487.6l9.3 -0.7 4.2 2.8 -9.4 0.7z" fill="#008cff" stroke="#008cff"/>
<path d="M498.9 488.6l9.2 -1.6 3.8 2.6 -9.2 1.7z" fill="#0085ff" stroke="#0085ff"/>
<path d="M575.6 489.1l9.3 -0.5 4.3 2.9 -9.4 0.4z" fill="#0082ff" stroke="#0082ff"/>
<path d="M419.6 502.4l9 -3 3.3 2.7 -9 3.1z" fill="#0026ff" stroke="#0026ff"/>
<path d="M458.9 494.1l9.1 -2.3 3.6 2.7 -9.2 2.3z" fill="#0063ff" stroke="#0063ff"/>
<path d="M521.1 488.2l9.2 -1.3 4 2.8 -9.3 1.2z" fill="#008eff" stroke="#008eff"/>
<path d="M410.7 505.7l8.9 -3.3 3.3 2.8 -9 3.2z" fill="#0014ff" stroke="#0014ff"/>
<path d="M489.8 490.4l9.1 -1.8 3.8 2.7 -9.2 1.8z" fill="#0080ff" stroke="#0080ff"/>
<path d="M612.4 494.1l9.4 0 4.5 3.1 -9.5 -0.1z" fill="#0065ff" stroke="#0065ff"/>
<path d="M543.6 488.6l9.2 -1 4.1 2.8 -9.3 1z" fill="#008fff" stroke="#008fff"/>
<path d="M449.9 496.6l9 -2.5 3.5 2.7 -9.1 2.5z" fill="#0058ff" stroke="#0058ff"/>
<path d="M589.2 491.5l9.4 -0.3 4.4 3 -9.5 0.3z" fill="#007bff" stroke="#007bff"/>
<path d="M566.3 489.7l9.3 -0.6 4.2 2.8 -9.4 0.6z" fill="#0089ff" stroke="#0089ff"/>
<path d="M511.9 489.6l9.2 -1.4 3.9 2.7 -9.3 1.5z" fill="#008cff" stroke="#008cff"/>
<path d="M480.7 492.3l9.1 -1.9 3.7 2.7 -9.2 2z" fill="#007aff" stroke="#007aff"/>
<path d="M440.9 499.3l9 -2.7 3.4 2.7 -9.1 2.7z" fill="#004bff" stroke="#004bff"/>
<path d="M534.3 489.7l9.3 -1.1 4 2.8 -9.3 1.1z" fill="#0091ff" stroke="#0091ff"/>
<path d="M603 494.2l9.4 -0.1 4.4 3 -9.5 0.1z" fill="#0071ff" stroke="#0071ff"/>
<path d="M431.9 502.1l9 -2.8 3.3 2.7 -9.1 2.9z" fill="#003dff" stroke="#003dff"/>
<path d="M471.6 494.5l9.1 -2.2 3.6 2.8 -9.2 2.1z" fill="#0072ff" stroke="#0072ff"/>
<path d="M556.9 490.4l9.4 -0.7 4.1 2.8 -9.4 0.8z" fill="#008eff" stroke="#008eff"/>
<path d="M579.8 491.9l9.4 -0.4 4.3 3 -9.4 0.4z" fill="#0083ff" stroke="#0083ff"/>
<path d="M502.7 491.3l9.2 -1.7 3.8 2.8 -9.2 1.7z" fill="#0089ff" stroke="#0089ff"/>
<path d="M422.9 505.2l9 -3.1 3.2 2.8 -9 3.1z" fill="#002cff" stroke="#002cff"/>
<path d="M462.4 496.8l9.2 -2.3 3.5 2.7 -9.2 2.4z" fill="#0068ff" stroke="#0068ff"/>
<path d="M525 490.9l9.3 -1.2 4 2.8 -9.4 1.3z" fill="#0091ff" stroke="#0091ff"/>
<path d="M616.8 497.1l9.5 0.1 4.5 3.1 -9.6 0z" fill="#0064ff" stroke="#0064ff"/>
<path d="M413.9 508.4l9 -3.2 3.2 2.8 -9.1 3.2z" fill="#001bff" stroke="#001bff"/>
<path d="M493.5 493.1l9.2 -1.8 3.8 2.8 -9.3 1.8z" fill="#0085ff" stroke="#0085ff"/>
<path d="M547.6 491.4l9.3 -1 4.1 2.9 -9.4 1z" fill="#0091ff" stroke="#0091ff"/>
<path d="M593.5 494.5l9.5 -0.3 4.3 3 -9.5 0.3z" fill="#007bff" stroke="#007bff"/>
<path d="M570.4 492.5l9.4 -0.6 4.3 3 -9.5 0.6z" fill="#008aff" stroke="#008aff"/>
<path d="M453.3 499.3l9.1 -2.5 3.5 2.8 -9.1 2.5z" fill="#005dff" stroke="#005dff"/>
<path d="M515.7 492.4l9.3 -1.5 3.9 2.9 -9.3 1.5z" fill="#0090ff" stroke="#0090ff"/>
<path d="M484.3 495.1l9.2 -2 3.7 2.8 -9.3 2z" fill="#007eff" stroke="#007eff"/>
<path d="M444.2 502l9.1 -2.7 3.5 2.8 -9.2 2.7z" fill="#0050ff" stroke="#0050ff"/>
<path d="M538.3 492.5l9.3 -1.1 4 2.9 -9.4 1.1z" fill="#0093ff" stroke="#0093ff"/>
<path d="M607.3 497.2l9.5 -0.1 4.4 3.2 -9.5 0.1z" fill="#0070ff" stroke="#0070ff"/>
<path d="M561 493.3l9.4 -0.8 4.2 3 -9.5 0.8z" fill="#008fff" stroke="#008fff"/>
<path d="M584.1 494.9l9.4 -0.4 4.3 3 -9.5 0.5z" fill="#0083ff" stroke="#0083ff"/>
<path d="M435.1 504.9l9.1 -2.9 3.4 2.8 -9.2 3z" fill="#0042ff" stroke="#0042ff"/>
<path d="M475.1 497.2l9.2 -2.1 3.6 2.8 -9.2 2.2z" fill="#0076ff" stroke="#0076ff"/>
<path d="M506.5 494.1l9.2 -1.7 3.9 2.9 -9.4 1.6z" fill="#008cff" stroke="#008cff"/>
<path d="M426.1 508l9 -3.1 3.3 2.9 -9.1 3.1z" fill="#0032ff" stroke="#0032ff"/>
<path d="M621.2 500.3l9.6 0 4.5 3.3 -9.6 -0.1z" fill="#0062ff" stroke="#0062ff"/>
<path d="M528.9 493.8l9.4 -1.3 3.9 2.9 -9.4 1.3z" fill="#0093ff" stroke="#0093ff"/>
<path d="M465.9 499.6l9.2 -2.4 3.6 2.9 -9.3 2.4z" fill="#006dff" stroke="#006dff"/>
<path d="M497.2 495.9l9.3 -1.8 3.7 2.8 -9.3 1.9z" fill="#0088ff" stroke="#0088ff"/>
<path d="M417 511.2l9.1 -3.2 3.2 2.9 -9.1 3.3z" fill="#0020ff" stroke="#0020ff"/>
<path d="M597.8 497.5l9.5 -0.3 4.4 3.2 -9.6 0.3z" fill="#007aff" stroke="#007aff"/>
<path d="M551.6 494.3l9.4 -1 4.1 3 -9.4 1z" fill="#0092ff" stroke="#0092ff"/>
<path d="M574.6 495.5l9.5 -0.6 4.2 3.1 -9.5 0.6z" fill="#008aff" stroke="#008aff"/>
<path d="M456.8 502.1l9.1 -2.5 3.5 2.9 -9.2 2.5z" fill="#0061ff" stroke="#0061ff"/>
<path d="M519.6 495.3l9.3 -1.5 3.9 2.9 -9.4 1.5z" fill="#0092ff" stroke="#0092ff"/>
<path d="M487.9 497.9l9.3 -2 3.7 2.9 -9.3 2z" fill="#0081ff" stroke="#0081ff"/>
<path d="M447.6 504.8l9.2 -2.7 3.4 2.9 -9.2 2.8z" fill="#0055ff" stroke="#0055ff"/>
<path d="M611.7 500.4l9.5 -0.1 4.5 3.2 -9.7 0.2z" fill="#006eff" stroke="#006eff"/>
<path d="M542.2 495.4l9.4 -1.1 4.1 3 -9.5 1.2z" fill="#0094ff" stroke="#0094ff"/>
<path d="M588.3 498l9.5 -0.5 4.3 3.2 -9.6 0.5z" fill="#0082ff" stroke="#0082ff"/>
<path d="M565.1 496.3l9.5 -0.8 4.2 3.1 -9.6 0.8z" fill="#008fff" stroke="#008fff"/>
<path d="M478.7 500.1l9.2 -2.2 3.7 2.9 -9.4 2.2z" fill="#007aff" stroke="#007aff"/>
<path d="M510.2 496.9l9.4 -1.6 3.8 2.9 -9.4 1.7z" fill="#008fff" stroke="#008fff"/>
<path d="M438.4 507.8l9.2 -3 3.4 3 -9.3 2.9z" fill="#0046ff" stroke="#0046ff"/>
<path d="M625.7 503.5l9.6 0.1 4.4 3.3 -9.6 0z" fill="#005fff" stroke="#005fff"/>
<path d="M429.3 510.9l9.1 -3.1 3.3 2.9 -9.2 3.2z" fill="#0036ff" stroke="#0036ff"/>
<path d="M532.8 496.7l9.4 -1.3 4 3.1 -9.5 1.3z" fill="#0094ff" stroke="#0094ff"/>
<path d="M469.4 502.5l9.3 -2.4 3.5 2.9 -9.3 2.4z" fill="#0070ff" stroke="#0070ff"/>
<path d="M602.1 500.7l9.6 -0.3 4.3 3.3 -9.6 0.3z" fill="#0078ff" stroke="#0078ff"/>
<path d="M555.7 497.3l9.4 -1 4.1 3.1 -9.5 1z" fill="#0092ff" stroke="#0092ff"/>
<path d="M500.9 498.8l9.3 -1.9 3.8 3 -9.4 1.9z" fill="#008aff" stroke="#008aff"/>
<path d="M578.8 498.6l9.5 -0.6 4.2 3.2 -9.6 0.6z" fill="#0089ff" stroke="#0089ff"/>
<path d="M420.2 514.2l9.1 -3.3 3.2 3 -9.2 3.3z" fill="#0024ff" stroke="#0024ff"/>
<path d="M460.2 505l9.2 -2.5 3.5 2.9 -9.3 2.6z" fill="#0065ff" stroke="#0065ff"/>
<path d="M523.4 498.2l9.4 -1.5 3.9 3.1 -9.5 1.5z" fill="#0093ff" stroke="#0093ff"/>
<path d="M491.6 500.8l9.3 -2 3.7 3 -9.4 2z" fill="#0084ff" stroke="#0084ff"/>
<path d="M616 503.7l9.7 -0.2 4.4 3.4 -9.7 0.2z" fill="#006bff" stroke="#006bff"/>
<path d="M546.2 498.5l9.5 -1.2 4 3.1 -9.5 1.2z" fill="#0094ff" stroke="#0094ff"/>
<path d="M451 507.8l9.2 -2.8 3.4 3 -9.3 2.8z" fill="#0058ff" stroke="#0058ff"/>
<path d="M592.5 501.2l9.6 -0.5 4.3 3.3 -9.7 0.5z" fill="#0080ff" stroke="#0080ff"/>
<path d="M569.2 499.4l9.6 -0.8 4.1 3.2 -9.6 0.8z" fill="#008eff" stroke="#008eff"/>
<path d="M514 499.9l9.4 -1.7 3.8 3.1 -9.4 1.7z" fill="#0090ff" stroke="#0090ff"/>
<path d="M482.2 503l9.4 -2.2 3.6 3 -9.4 2.3z" fill="#007cff" stroke="#007cff"/>
<path d="M441.7 510.7l9.3 -2.9 3.3 3 -9.3 3z" fill="#004aff" stroke="#004aff"/>
<path d="M630.1 506.9l9.6 0 4.5 3.5 -9.7 0z" fill="#005cff" stroke="#005cff"/>
<path d="M536.7 499.8l9.5 -1.3 4 3.1 -9.6 1.3z" fill="#0095ff" stroke="#0095ff"/>
<path d="M432.5 513.9l9.2 -3.2 3.3 3.1 -9.2 3.2z" fill="#0039ff" stroke="#0039ff"/>
<path d="M606.4 504l9.6 -0.3 4.4 3.4 -9.7 0.3z" fill="#0075ff" stroke="#0075ff"/>
<path d="M472.9 505.4l9.3 -2.4 3.6 3.1 -9.4 2.4z" fill="#0072ff" stroke="#0072ff"/>
<path d="M559.7 500.4l9.5 -1 4.1 3.2 -9.6 1z" fill="#0092ff" stroke="#0092ff"/>
<path d="M582.9 501.8l9.6 -0.6 4.2 3.3 -9.6 0.6z" fill="#0087ff" stroke="#0087ff"/>
<path d="M504.6 501.8l9.4 -1.9 3.8 3.1 -9.5 1.9z" fill="#008bff" stroke="#008bff"/>
<path d="M423.3 517.2l9.2 -3.3 3.3 3.1 -9.3 3.3z" fill="#0028ff" stroke="#0028ff"/>
<path d="M463.6 508l9.3 -2.6 3.5 3.1 -9.3 2.6z" fill="#0067ff" stroke="#0067ff"/>
<path d="M527.2 501.3l9.5 -1.5 3.9 3.1 -9.5 1.6z" fill="#0093ff" stroke="#0093ff"/>
<path d="M620.4 507.1l9.7 -0.2 4.4 3.5 -9.8 0.1z" fill="#0067ff" stroke="#0067ff"/>
<path d="M495.2 503.8l9.4 -2 3.7 3.1 -9.5 2.1z" fill="#0085ff" stroke="#0085ff"/>
<path d="M550.2 501.6l9.5 -1.2 4 3.2 -9.6 1.2z" fill="#0094ff" stroke="#0094ff"/>
<path d="M596.7 504.5l9.7 -0.5 4.3 3.4 -9.7 0.5z" fill="#007eff" stroke="#007eff"/>
<path d="M573.3 502.6l9.6 -0.8 4.2 3.3 -9.7 0.9z" fill="#008dff" stroke="#008dff"/>
<path d="M454.3 510.8l9.3 -2.8 3.5 3.1 -9.4 2.8z" fill="#005aff" stroke="#005aff"/>
<path d="M634.5 510.4l9.7 0 4.5 3.6 -9.8 0z" fill="#0057ff" stroke="#0057ff"/>
<path d="M517.8 503l9.4 -1.7 3.9 3.2 -9.6 1.7z" fill="#0090ff" stroke="#0090ff"/>
<path d="M485.8 506.1l9.4 -2.3 3.6 3.2 -9.4 2.2z" fill="#007dff" stroke="#007dff"/>
<path d="M445 513.8l9.3 -3 3.4 3.1 -9.4 3.1z" fill="#004cff" stroke="#004cff"/>
<path d="M610.7 507.4l9.7 -0.3 4.3 3.4 -9.8 0.4z" fill="#0072ff" stroke="#0072ff"/>
<path d="M540.6 502.9l9.6 -1.3 3.9 3.2 -9.6 1.4z" fill="#0094ff" stroke="#0094ff"/>
<path d="M435.8 517l9.2 -3.2 3.3 3.2 -9.3 3.2z" fill="#003cff" stroke="#003cff"/>
<path d="M587.1 505.1l9.6 -0.6 4.3 3.4 -9.8 0.6z" fill="#0085ff" stroke="#0085ff"/>
<path d="M563.7 503.6l9.6 -1 4.1 3.4 -9.6 1z" fill="#0090ff" stroke="#0090ff"/>
<path d="M476.4 508.5l9.4 -2.4 3.6 3.1 -9.5 2.5z" fill="#0074ff" stroke="#0074ff"/>
<path d="M508.3 504.9l9.5 -1.9 3.7 3.2 -9.5 1.9z" fill="#008cff" stroke="#008cff"/>
<path d="M426.5 520.3l9.3 -3.3 3.2 3.2 -9.3 3.4z" fill="#002aff" stroke="#002aff"/>
<path d="M624.7 510.5l9.8 -0.1 4.4 3.6 -9.9 0.1z" fill="#0063ff" stroke="#0063ff"/>
<path d="M467.1 511.1l9.3 -2.6 3.5 3.2 -9.4 2.6z" fill="#0069ff" stroke="#0069ff"/>
<path d="M531.1 504.5l9.5 -1.6 3.9 3.3 -9.6 1.6z" fill="#0093ff" stroke="#0093ff"/>
<path d="M498.8 507l9.5 -2.1 3.7 3.2 -9.5 2.1z" fill="#0086ff" stroke="#0086ff"/>
<path d="M601 507.9l9.7 -0.5 4.2 3.5 -9.7 0.5z" fill="#007aff" stroke="#007aff"/>
<path d="M554.1 504.8l9.6 -1.2 4.1 3.4 -9.7 1.2z" fill="#0092ff" stroke="#0092ff"/>
<path d="M577.4 506l9.7 -0.9 4.1 3.4 -9.7 0.9z" fill="#008aff" stroke="#008aff"/>
<path d="M457.7 513.9l9.4 -2.8 3.4 3.2 -9.4 2.9z" fill="#005cff" stroke="#005cff"/>
<path d="M638.9 514l9.8 0 4.4 3.7 -9.8 0z" fill="#0051ff" stroke="#0051ff"/>
<path d="M521.5 506.2l9.6 -1.7 3.8 3.3 -9.6 1.7z" fill="#0090ff" stroke="#0090ff"/>
<path d="M489.4 509.2l9.4 -2.2 3.7 3.2 -9.5 2.3z" fill="#007eff" stroke="#007eff"/>
<path d="M448.3 517l9.4 -3.1 3.4 3.3 -9.5 3z" fill="#004eff" stroke="#004eff"/>
<path d="M614.9 510.9l9.8 -0.4 4.3 3.6 -9.8 0.4z" fill="#006dff" stroke="#006dff"/>
<path d="M544.5 506.2l9.6 -1.4 4 3.4 -9.7 1.4z" fill="#0092ff" stroke="#0092ff"/>
<path d="M591.2 508.5l9.8 -0.6 4.2 3.5 -9.8 0.7z" fill="#0081ff" stroke="#0081ff"/>
<path d="M567.8 507l9.6 -1 4.1 3.4 -9.7 1z" fill="#008eff" stroke="#008eff"/>
<path d="M439 520.2l9.3 -3.2 3.3 3.2 -9.4 3.3z" fill="#003eff" stroke="#003eff"/>
<path d="M479.9 511.7l9.5 -2.5 3.6 3.3 -9.6 2.5z" fill="#0074ff" stroke="#0074ff"/>
<path d="M512 508.1l9.5 -1.9 3.8 3.3 -9.6 1.9z" fill="#008bff" stroke="#008bff"/>
<path d="M629 514.1l9.9 -0.1 4.4 3.7 -9.9 0.2z" fill="#005dff" stroke="#005dff"/>
<path d="M429.7 523.6l9.3 -3.4 3.2 3.3 -9.4 3.4z" fill="#002cff" stroke="#002cff"/>
<path d="M534.9 507.8l9.6 -1.6 3.9 3.4 -9.6 1.5z" fill="#0091ff" stroke="#0091ff"/>
<path d="M470.5 514.3l9.4 -2.6 3.5 3.3 -9.5 2.7z" fill="#0069ff" stroke="#0069ff"/>
<path d="M605.2 511.4l9.7 -0.5 4.3 3.6 -9.8 0.5z" fill="#0076ff" stroke="#0076ff"/>
<path d="M502.5 510.2l9.5 -2.1 3.7 3.3 -9.6 2.2z" fill="#0085ff" stroke="#0085ff"/>
<path d="M558.1 508.2l9.7 -1.2 4 3.4 -9.7 1.2z" fill="#0090ff" stroke="#0090ff"/>
<path d="M581.5 509.4l9.7 -0.9 4.2 3.6 -9.8 0.8z" fill="#0086ff" stroke="#0086ff"/>
<path d="M643.3 517.7l9.8 0 4.5 3.8 -9.9 0z" fill="#004bff" stroke="#004bff"/>
<path d="M461.1 517.2l9.4 -2.9 3.4 3.4 -9.5 2.8z" fill="#005cff" stroke="#005cff"/>
<path d="M525.3 509.5l9.6 -1.7 3.9 3.3 -9.7 1.8z" fill="#008eff" stroke="#008eff"/>
<path d="M619.2 514.5l9.8 -0.4 4.4 3.8 -9.9 0.3z" fill="#0067ff" stroke="#0067ff"/>
<path d="M493 512.5l9.5 -2.3 3.6 3.4 -9.6 2.3z" fill="#007dff" stroke="#007dff"/>
<path d="M451.6 520.2l9.5 -3 3.3 3.3 -9.4 3.1z" fill="#004eff" stroke="#004eff"/>
<path d="M548.4 509.6l9.7 -1.4 4 3.4 -9.8 1.5z" fill="#0090ff" stroke="#0090ff"/>
<path d="M595.4 512.1l9.8 -0.7 4.2 3.6 -9.9 0.7z" fill="#007dff" stroke="#007dff"/>
<path d="M571.8 510.4l9.7 -1 4.1 3.5 -9.8 1.1z" fill="#008aff" stroke="#008aff"/>
<path d="M483.4 515l9.6 -2.5 3.5 3.4 -9.5 2.5z" fill="#0074ff" stroke="#0074ff"/>
<path d="M442.2 523.5l9.4 -3.3 3.4 3.4 -9.5 3.3z" fill="#003eff" stroke="#003eff"/>
<path d="M515.7 511.4l9.6 -1.9 3.8 3.4 -9.7 2z" fill="#008aff" stroke="#008aff"/>
<path d="M633.4 517.9l9.9 -0.2 4.4 3.8 -10 0.2z" fill="#0057ff" stroke="#0057ff"/>
<path d="M432.8 526.9l9.4 -3.4 3.3 3.4 -9.5 3.4z" fill="#002dff" stroke="#002dff"/>
<path d="M538.8 511.1l9.6 -1.5 3.9 3.5 -9.7 1.6z" fill="#008fff" stroke="#008fff"/>
<path d="M609.4 515l9.8 -0.5 4.3 3.7 -9.9 0.6z" fill="#0070ff" stroke="#0070ff"/>
<path d="M473.9 517.7l9.5 -2.7 3.6 3.4 -9.6 2.7z" fill="#0069ff" stroke="#0069ff"/>
<path d="M562.1 511.6l9.7 -1.2 4 3.6 -9.8 1.2z" fill="#008cff" stroke="#008cff"/>
<path d="M647.7 521.5l9.9 0 4.4 4 -10 0z" fill="#0043ff" stroke="#0043ff"/>
<path d="M585.6 512.9l9.8 -0.8 4.1 3.6 -9.8 0.9z" fill="#0082ff" stroke="#0082ff"/>
<path d="M506.1 513.6l9.6 -2.2 3.7 3.5 -9.6 2.1z" fill="#0084ff" stroke="#0084ff"/>
<path d="M464.4 520.5l9.5 -2.8 3.5 3.4 -9.6 2.9z" fill="#005cff" stroke="#005cff"/>
<path d="M623.5 518.2l9.9 -0.3 4.3 3.8 -9.9 0.4z" fill="#0061ff" stroke="#0061ff"/>
<path d="M529.1 512.9l9.7 -1.8 3.8 3.6 -9.7 1.7z" fill="#008cff" stroke="#008cff"/>
<path d="M496.5 515.9l9.6 -2.3 3.7 3.4 -9.7 2.4z" fill="#007cff" stroke="#007cff"/>
<path d="M599.5 515.7l9.9 -0.7 4.2 3.8 -9.9 0.7z" fill="#0077ff" stroke="#0077ff"/>
<path d="M552.3 513.1l9.8 -1.5 3.9 3.6 -9.8 1.4z" fill="#008cff" stroke="#008cff"/>
<path d="M455 523.6l9.4 -3.1 3.4 3.5 -9.5 3.1z" fill="#004eff" stroke="#004eff"/>
<path d="M575.8 514l9.8 -1.1 4.1 3.7 -9.9 1.1z" fill="#0086ff" stroke="#0086ff"/>
<path d="M637.7 521.7l10 -0.2 4.3 4 -10 0.2z" fill="#004fff" stroke="#004fff"/>
<path d="M519.4 514.9l9.7 -2 3.8 3.5 -9.8 2z" fill="#0087ff" stroke="#0087ff"/>
<path d="M487 518.4l9.5 -2.5 3.6 3.5 -9.6 2.5z" fill="#0072ff" stroke="#0072ff"/>
<path d="M445.5 526.9l9.5 -3.3 3.3 3.5 -9.6 3.3z" fill="#003eff" stroke="#003eff"/>
<path d="M613.6 518.8l9.9 -0.6 4.3 3.9 -10 0.5z" fill="#006aff" stroke="#006aff"/>
<path d="M542.6 514.7l9.7 -1.6 3.9 3.5 -9.8 1.7z" fill="#008bff" stroke="#008bff"/>
<path d="M652 525.5l10 0 4.5 4 -10.1 0z" fill="#003bff" stroke="#003bff"/>
<path d="M436 530.3l9.5 -3.4 3.2 3.5 -9.5 3.5z" fill="#002cff" stroke="#002cff"/>
<path d="M589.7 516.6l9.8 -0.9 4.2 3.8 -9.9 0.9z" fill="#007cff" stroke="#007cff"/>
<path d="M566 515.2l9.8 -1.2 4 3.7 -9.8 1.2z" fill="#0088ff" stroke="#0088ff"/>
<path d="M477.4 521.1l9.6 -2.7 3.5 3.5 -9.7 2.7z" fill="#0067ff" stroke="#0067ff"/>
<path d="M509.8 517l9.6 -2.1 3.7 3.5 -9.7 2.2z" fill="#0081ff" stroke="#0081ff"/>
<path d="M627.8 522.1l9.9 -0.4 4.3 4 -10 0.3z" fill="#005aff" stroke="#005aff"/>
<path d="M467.8 524l9.6 -2.9 3.4 3.5 -9.6 3z" fill="#005bff" stroke="#005bff"/>
<path d="M532.9 516.4l9.7 -1.7 3.8 3.6 -9.8 1.8z" fill="#0088ff" stroke="#0088ff"/>
<path d="M603.7 519.5l9.9 -0.7 4.2 3.8 -10 0.7z" fill="#0071ff" stroke="#0071ff"/>
<path d="M500.1 519.4l9.7 -2.4 3.6 3.6 -9.7 2.3z" fill="#0079ff" stroke="#0079ff"/>
<path d="M556.2 516.6l9.8 -1.4 4 3.7 -9.9 1.5z" fill="#0088ff" stroke="#0088ff"/>
<path d="M579.8 517.7l9.9 -1.1 4.1 3.8 -9.9 1.1z" fill="#0080ff" stroke="#0080ff"/>
<path d="M458.3 527.1l9.5 -3.1 3.4 3.6 -9.6 3.1z" fill="#004cff" stroke="#004cff"/>
<path d="M642 525.7l10 -0.2 4.4 4 -10 0.3z" fill="#0047ff" stroke="#0047ff"/>
<path d="M523.1 518.4l9.8 -2 3.7 3.7 -9.8 2z" fill="#0084ff" stroke="#0084ff"/>
<path d="M490.5 521.9l9.6 -2.5 3.6 3.5 -9.7 2.6z" fill="#0070ff" stroke="#0070ff"/>
<path d="M448.7 530.4l9.6 -3.3 3.3 3.6 -9.6 3.3z" fill="#003dff" stroke="#003dff"/>
<path d="M617.8 522.6l10 -0.5 4.2 3.9 -10 0.6z" fill="#0062ff" stroke="#0062ff"/>
<path d="M656.4 529.5l10.1 0 4.4 4.2 -10.1 0z" fill="#0032ff" stroke="#0032ff"/>
<path d="M546.4 518.3l9.8 -1.7 3.9 3.8 -9.8 1.6z" fill="#0087ff" stroke="#0087ff"/>
<path d="M593.8 520.4l9.9 -0.9 4.1 3.8 -9.9 1z" fill="#0076ff" stroke="#0076ff"/>
<path d="M570 518.9l9.8 -1.2 4.1 3.8 -10 1.2z" fill="#0082ff" stroke="#0082ff"/>
<path d="M439.2 533.9l9.5 -3.5 3.3 3.6 -9.6 3.6z" fill="#002bff" stroke="#002bff"/>
<path d="M480.8 524.6l9.7 -2.7 3.5 3.6 -9.7 2.8z" fill="#0065ff" stroke="#0065ff"/>
<path d="M513.4 520.6l9.7 -2.2 3.7 3.7 -9.8 2.2z" fill="#007eff" stroke="#007eff"/>
<path d="M632 526l10 -0.3 4.4 4.1 -10.1 0.3z" fill="#0051ff" stroke="#0051ff"/>
<path d="M536.6 520.1l9.8 -1.8 3.9 3.7 -9.9 1.8z" fill="#0084ff" stroke="#0084ff"/>
<path d="M471.2 527.6l9.6 -3 3.5 3.7 -9.7 2.9z" fill="#0058ff" stroke="#0058ff"/>
<path d="M607.8 523.3l10 -0.7 4.2 4 -10 0.7z" fill="#0069ff" stroke="#0069ff"/>
<path d="M503.7 522.9l9.7 -2.3 3.6 3.7 -9.7 2.4z" fill="#0076ff" stroke="#0076ff"/>
<path d="M560.1 520.4l9.9 -1.5 3.9 3.8 -9.9 1.5z" fill="#0083ff" stroke="#0083ff"/>
<path d="M583.9 521.5l9.9 -1.1 4.1 3.9 -10 1.1z" fill="#007aff" stroke="#007aff"/>
<path d="M646.4 529.8l10 -0.3 4.4 4.2 -10.1 0.3z" fill="#003eff" stroke="#003eff"/>
<path d="M461.6 530.7l9.6 -3.1 3.4 3.6 -9.7 3.2z" fill="#004aff" stroke="#004aff"/>
<path d="M526.8 522.1l9.8 -2 3.8 3.7 -9.9 2z" fill="#0080ff" stroke="#0080ff"/>
<path d="M622 526.6l10 -0.6 4.3 4.1 -10.1 0.6z" fill="#005aff" stroke="#005aff"/>
<path d="M494 525.5l9.7 -2.6 3.6 3.8 -9.8 2.5z" fill="#006dff" stroke="#006dff"/>
<path d="M452 534l9.6 -3.3 3.3 3.7 -9.7 3.4z" fill="#003aff" stroke="#003aff"/>
<path d="M550.3 522l9.8 -1.6 3.9 3.8 -9.9 1.6z" fill="#0082ff" stroke="#0082ff"/>
<path d="M597.9 524.3l9.9 -1 4.2 4 -10.1 1z" fill="#006fff" stroke="#006fff"/>
<path d="M573.9 522.7l10 -1.2 4 3.9 -10 1.3z" fill="#007cff" stroke="#007cff"/>
<path d="M442.4 537.6l9.6 -3.6 3.2 3.8 -9.6 3.5z" fill="#0029ff" stroke="#0029ff"/>
<path d="M636.3 530.1l10.1 -0.3 4.3 4.2 -10.2 0.4z" fill="#0048ff" stroke="#0048ff"/>
<path d="M484.3 528.3l9.7 -2.8 3.5 3.7 -9.8 2.8z" fill="#0062ff" stroke="#0062ff"/>
<path d="M517 524.3l9.8 -2.2 3.7 3.7 -9.8 2.3z" fill="#007aff" stroke="#007aff"/>
<path d="M612 527.3l10 -0.7 4.2 4.1 -10.1 0.8z" fill="#0061ff" stroke="#0061ff"/>
<path d="M540.4 523.8l9.9 -1.8 3.8 3.8 -9.9 1.9z" fill="#007fff" stroke="#007fff"/>
<path d="M474.6 531.2l9.7 -2.9 3.4 3.7 -9.8 3z" fill="#0055ff" stroke="#0055ff"/>
<path d="M587.9 525.4l10 -1.1 4 4 -10 1.1z" fill="#0072ff" stroke="#0072ff"/>
<path d="M564 524.2l9.9 -1.5 4 4 -10 1.4z" fill="#007cff" stroke="#007cff"/>
<path d="M507.3 526.7l9.7 -2.4 3.7 3.8 -9.9 2.4z" fill="#0072ff" stroke="#0072ff"/>
<path d="M464.9 534.4l9.7 -3.2 3.3 3.8 -9.7 3.2z" fill="#0047ff" stroke="#0047ff"/>
<path d="M626.2 530.7l10.1 -0.6 4.2 4.3 -10.1 0.6z" fill="#0051ff" stroke="#0051ff"/>
<path d="M530.5 525.8l9.9 -2 3.8 3.9 -10 2z" fill="#007aff" stroke="#007aff"/>
<path d="M497.5 529.2l9.8 -2.5 3.5 3.8 -9.8 2.6z" fill="#0069ff" stroke="#0069ff"/>
<path d="M601.9 528.3l10.1 -1 4.1 4.2 -10.1 0.9z" fill="#0066ff" stroke="#0066ff"/>
<path d="M455.2 537.8l9.7 -3.4 3.3 3.8 -9.7 3.4z" fill="#0037ff" stroke="#0037ff"/>
<path d="M554.1 525.8l9.9 -1.6 3.9 3.9 -10 1.7z" fill="#007bff" stroke="#007bff"/>
<path d="M577.9 526.7l10 -1.3 4 4 -10.1 1.3z" fill="#0075ff" stroke="#0075ff"/>
<path d="M445.6 541.3l9.6 -3.5 3.3 3.8 -9.8 3.6z" fill="#0026ff" stroke="#0026ff"/>
<path d="M487.7 532l9.8 -2.8 3.5 3.9 -9.8 2.8z" fill="#005eff" stroke="#005eff"/>
<path d="M520.7 528.1l9.8 -2.3 3.7 3.9 -9.9 2.3z" fill="#0074ff" stroke="#0074ff"/>
<path d="M616.1 531.5l10.1 -0.8 4.2 4.3 -10.2 0.7z" fill="#0058ff" stroke="#0058ff"/>
<path d="M544.2 527.7l9.9 -1.9 3.8 4 -10 1.9z" fill="#0079ff" stroke="#0079ff"/>
<path d="M591.9 529.4l10 -1.1 4.1 4.1 -10.1 1.2z" fill="#006aff" stroke="#006aff"/>
<path d="M477.9 535l9.8 -3 3.5 3.9 -9.9 3z" fill="#0051ff" stroke="#0051ff"/>
<path d="M567.9 528.1l10 -1.4 3.9 4 -10 1.5z" fill="#0075ff" stroke="#0075ff"/>
<path d="M510.8 530.5l9.9 -2.4 3.6 3.9 -9.9 2.4z" fill="#006dff" stroke="#006dff"/>
<path d="M468.2 538.2l9.7 -3.2 3.4 3.9 -9.8 3.3z" fill="#0043ff" stroke="#0043ff"/>
<path d="M534.2 529.7l10 -2 3.7 4 -10 2.1z" fill="#0074ff" stroke="#0074ff"/>
<path d="M606 532.4l10.1 -0.9 4.1 4.2 -10.1 1z" fill="#005dff" stroke="#005dff"/>
<path d="M501 533.1l9.8 -2.6 3.6 3.9 -9.9 2.7z" fill="#0063ff" stroke="#0063ff"/>
<path d="M557.9 529.8l10 -1.7 3.9 4.1 -10.1 1.7z" fill="#0074ff" stroke="#0074ff"/>
<path d="M581.8 530.7l10.1 -1.3 4 4.2 -10.1 1.3z" fill="#006cff" stroke="#006cff"/>
<path d="M458.5 541.6l9.7 -3.4 3.3 4 -9.8 3.4z" fill="#0033ff" stroke="#0033ff"/>
<path d="M524.3 532l9.9 -2.3 3.7 4.1 -9.9 2.2z" fill="#006eff" stroke="#006eff"/>
<path d="M491.2 535.9l9.8 -2.8 3.5 4 -9.9 2.8z" fill="#0059ff" stroke="#0059ff"/>
<path d="M448.7 545.2l9.8 -3.6 3.2 4 -9.8 3.7z" fill="#0022ff" stroke="#0022ff"/>
<path d="M547.9 531.7l10 -1.9 3.8 4.1 -10 1.9z" fill="#0071ff" stroke="#0071ff"/>
<path d="M595.9 533.6l10.1 -1.2 4.1 4.3 -10.2 1.1z" fill="#0061ff" stroke="#0061ff"/>
<path d="M571.8 532.2l10 -1.5 4 4.2 -10.1 1.5z" fill="#006dff" stroke="#006dff"/>
<path d="M481.3 538.9l9.9 -3 3.4 4 -9.9 3.1z" fill="#004cff" stroke="#004cff"/>
<path d="M514.4 534.4l9.9 -2.4 3.7 4 -10 2.5z" fill="#0067ff" stroke="#0067ff"/>
<path d="M471.5 542.2l9.8 -3.3 3.4 4.1 -9.9 3.2z" fill="#003eff" stroke="#003eff"/>
<path d="M537.9 533.8l10 -2.1 3.8 4.1 -10.1 2.1z" fill="#006dff" stroke="#006dff"/>
<path d="M504.5 537.1l9.9 -2.7 3.6 4.1 -10 2.7z" fill="#005dff" stroke="#005dff"/>
<path d="M561.7 533.9l10.1 -1.7 3.9 4.2 -10.1 1.7z" fill="#006cff" stroke="#006cff"/>
<path d="M585.8 534.9l10.1 -1.3 4 4.2 -10.2 1.4z" fill="#0063ff" stroke="#0063ff"/>
<path d="M461.7 545.6l9.8 -3.4 3.3 4 -9.8 3.5z" fill="#002eff" stroke="#002eff"/>
<path d="M528 536l9.9 -2.2 3.7 4.1 -10 2.3z" fill="#0067ff" stroke="#0067ff"/>
<path d="M494.6 539.9l9.9 -2.8 3.5 4.1 -10 2.9z" fill="#0053ff" stroke="#0053ff"/>
<path d="M451.9 549.3l9.8 -3.7 3.3 4.1 -9.9 3.7z" fill="#001dff" stroke="#001dff"/>
<path d="M551.7 535.8l10 -1.9 3.9 4.2 -10.1 2z" fill="#0069ff" stroke="#0069ff"/>
<path d="M575.7 536.4l10.1 -1.5 3.9 4.3 -10.1 1.5z" fill="#0064ff" stroke="#0064ff"/>
<path d="M484.7 543l9.9 -3.1 3.4 4.2 -9.9 3z" fill="#0046ff" stroke="#0046ff"/>
<path d="M518 538.5l10 -2.5 3.6 4.2 -10 2.5z" fill="#0060ff" stroke="#0060ff"/>
<path d="M541.6 537.9l10.1 -2.1 3.8 4.3 -10.2 2.1z" fill="#0065ff" stroke="#0065ff"/>
<path d="M474.8 546.2l9.9 -3.2 3.4 4.1 -10 3.3z" fill="#0038ff" stroke="#0038ff"/>
<path d="M565.6 538.1l10.1 -1.7 3.9 4.3 -10.2 1.8z" fill="#0063ff" stroke="#0063ff"/>
<path d="M508 541.2l10 -2.7 3.6 4.2 -10.1 2.7z" fill="#0056ff" stroke="#0056ff"/>
<path d="M465 549.7l9.8 -3.5 3.3 4.2 -9.9 3.5z" fill="#0028ff" stroke="#0028ff"/>
<path d="M531.6 540.2l10 -2.3 3.7 4.3 -10.1 2.3z" fill="#005fff" stroke="#005fff"/>
<path d="M498 544.1l10 -2.9 3.5 4.2 -10 2.9z" fill="#004cff" stroke="#004cff"/>
<path d="M455.1 553.4l9.9 -3.7 3.2 4.2 -9.9 3.8z" fill="#0017ff" stroke="#0017ff"/>
<path d="M555.5 540.1l10.1 -2 3.8 4.4 -10.2 1.9z" fill="#0060ff" stroke="#0060ff"/>
<path d="M488.1 547.1l9.9 -3 3.5 4.2 -10 3.1z" fill="#003fff" stroke="#003fff"/>
<path d="M521.6 542.7l10 -2.5 3.6 4.3 -10.1 2.5z" fill="#0058ff" stroke="#0058ff"/>
<path d="M545.3 542.2l10.2 -2.1 3.7 4.3 -10.2 2.2z" fill="#005cff" stroke="#005cff"/>
<path d="M478.1 550.4l10 -3.3 3.4 4.3 -10 3.4z" fill="#0031ff" stroke="#0031ff"/>
<path d="M511.5 545.4l10.1 -2.7 3.5 4.3 -10.1 2.8z" fill="#004eff" stroke="#004eff"/>
<path d="M468.2 553.9l9.9 -3.5 3.4 4.4 -10 3.5z" fill="#0021ff" stroke="#0021ff"/>
<path d="M535.2 544.5l10.1 -2.3 3.7 4.4 -10.1 2.3z" fill="#0056ff" stroke="#0056ff"/>
<path d="M501.5 548.3l10 -2.9 3.5 4.4 -10.1 2.9z" fill="#0044ff" stroke="#0044ff"/>
<path d="M458.3 557.7l9.9 -3.8 3.3 4.4 -10 3.8z" fill="#0010ff" stroke="#0010ff"/>
<path d="M525.1 547l10.1 -2.5 3.7 4.4 -10.2 2.6z" fill="#004fff" stroke="#004fff"/>
<path d="M491.5 551.4l10 -3.1 3.4 4.4 -10 3.1z" fill="#0037ff" stroke="#0037ff"/>
<path d="M481.5 554.8l10 -3.4 3.4 4.4 -10.1 3.4z" fill="#0029ff" stroke="#0029ff"/>
<path d="M515 549.8l10.1 -2.8 3.6 4.5 -10.2 2.7z" fill="#0046ff" stroke="#0046ff"/>
<path d="M471.5 558.3l10 -3.5 3.3 4.4 -10.1 3.6z" fill="#001aff" stroke="#001aff"/>
<path d="M504.9 552.7l10.1 -2.9 3.5 4.4 -10.1 3z" fill="#003bff" stroke="#003bff"/>
<path d="M461.5 562.1l10 -3.8 3.2 4.5 -10 3.8z" fill="#0008ff" stroke="#0008ff"/>
<path d="M494.9 555.8l10 -3.1 3.5 4.5 -10.2 3.2z" fill="#002eff" stroke="#002eff"/>
<path d="M484.8 559.2l10.1 -3.4 3.3 4.6 -10.1 3.4z" fill="#0020ff" stroke="#0020ff"/>
<path d="M474.7 562.8l10.1 -3.6 3.3 4.6 -10.1 3.6z" fill="#0011ff" stroke="#0011ff"/>
<path d="M464.7 566.6l10 -3.8 3.3 4.6 -10.1 3.8z" fill="#0000ff" stroke="#0000ff"/>
</g>
<g fill="none" stroke="#000" stroke-opacity="0.55" stroke-width="0.7">
<polyline points="404.4,500.4 413.2,497.3 422,494.3 430.8,491.6 439.6,489 448.5,486.6 457.3,484.3 466.2,482.3 475,480.4 483.9,478.7 492.8,477.2 501.6,475.8 510.5,474.6 519.4,473.6 528.3,472.8 537.1,472.1 546,471.6 554.9,471.2 563.7,471 572.6,471 581.4,471.1"/>
<polyline points="404.4,500.4 407.6,503 410.7,505.7 413.9,508.4 417,511.2 420.2,514.2 423.3,517.2 426.5,520.3 429.7,523.6 432.8,526.9 436,530.3 439.2,533.9 442.4,537.6 445.6,541.3 448.7,545.2 451.9,549.3 455.1,553.4 458.3,557.7 461.5,562.1 464.7,566.6 467.9,571.2"/>
<polyline points="407.6,503 416.4,499.8 425.3,496.8 434.2,494 443.1,491.4 452,489 460.9,486.7 469.8,484.7 478.7,482.8 487.7,481 496.6,479.5 505.5,478.1 514.5,476.9 523.4,475.9 532.4,475 541.3,474.3 550.2,473.8 559.2,473.4 568.1,473.2 577,473.2 585.9,473.3"/>
<polyline points="413.2,497.3 416.4,499.8 419.6,502.4 422.9,505.2 426.1,508 429.3,510.9 432.5,513.9 435.8,517 439,520.2 442.2,523.5 445.5,526.9 448.7,530.4 452,534 455.2,537.8 458.5,541.6 461.7,545.6 465,549.7 468.2,553.9 471.5,558.3 474.7,562.8 478,567.4"/>
<polyline points="410.7,505.7 419.6,502.4 428.6,499.4 437.5,496.6 446.5,494 455.5,491.5 464.4,489.2 473.4,487.1 482.4,485.2 491.4,483.5 500.4,481.9 509.4,480.5 518.4,479.3 527.4,478.2 536.5,477.4 545.5,476.7 554.5,476.1 563.5,475.7 572.5,475.5 581.4,475.5 590.4,475.6"/>
<polyline points="422,494.3 425.3,496.8 428.6,499.4 431.9,502.1 435.1,504.9 438.4,507.8 441.7,510.7 445,513.8 448.3,517 451.6,520.2 455,523.6 458.3,527.1 461.6,530.7 464.9,534.4 468.2,538.2 471.5,542.2 474.8,546.2 478.1,550.4 481.5,554.8 484.8,559.2 488.1,563.8"/>
<polyline points="413.9,508.4 422.9,505.2 431.9,502.1 440.9,499.3 449.9,496.6 458.9,494.1 468,491.8 477,489.7 486.1,487.7 495.2,486 504.2,484.4 513.3,483 522.4,481.7 531.5,480.7 540.5,479.8 549.6,479.1 558.7,478.5 567.8,478.1 576.8,477.9 585.9,477.9 594.9,478"/>
<polyline points="430.8,491.6 434.2,494 437.5,496.6 440.9,499.3 444.2,502 447.6,504.8 451,507.8 454.3,510.8 457.7,513.9 461.1,517.2 464.4,520.5 467.8,524 471.2,527.6 474.6,531.2 477.9,535 481.3,538.9 484.7,543 488.1,547.1 491.5,551.4 494.9,555.8 498.2,560.4"/>
<polyline points="417,511.2 426.1,508 435.1,504.9 444.2,502 453.3,499.3 462.4,496.8 471.6,494.5 480.7,492.3 489.8,490.4 498.9,488.6 508.1,487 517.2,485.5 526.4,484.3 535.5,483.2 544.6,482.3 553.8,481.6 562.9,481 572,480.6 581.2,480.4 590.3,480.3 599.4,480.4"/>
<polyline points="439.6,489 443.1,491.4 446.5,494 449.9,496.6 453.3,499.3 456.8,502.1 460.2,505 463.6,508 467.1,511.1 470.5,514.3 473.9,517.7 477.4,521.1 480.8,524.6 484.3,528.3 487.7,532 491.2,535.9 494.6,539.9 498,544.1 501.5,548.3 504.9,552.7 508.4,557.2"/>
<polyline points="420.2,514.2 429.3,510.9 438.4,507.8 447.6,504.8 456.8,502.1 465.9,499.6 475.1,497.2 484.3,495.1 493.5,493.1 502.7,491.3 511.9,489.6 521.1,488.2 530.3,486.9 539.5,485.8 548.7,484.9 557.9,484.2 567.1,483.6 576.3,483.2 585.5,483 594.7,482.9 603.9,483"/>
<polyline points="448.5,486.6 452,489 455.5,491.5 458.9,494.1 462.4,496.8 465.9,499.6 469.4,502.5 472.9,505.4 476.4,508.5 479.9,511.7 483.4,515 487,518.4 490.5,521.9 494,525.5 497.5,529.2 501,533.1 504.5,537.1 508,541.2 511.5,545.4 515,549.8 518.5,554.2"/>
<polyline points="423.3,517.2 432.5,513.9 441.7,510.7 451,507.8 460.2,505 469.4,502.5 478.7,500.1 487.9,497.9 497.2,495.9 506.5,494.1 515.7,492.4 525,490.9 534.3,489.7 543.6,488.6 552.8,487.6 562.1,486.9 571.4,486.3 580.6,485.9 589.9,485.6 599.1,485.5 608.4,485.6"/>
<polyline points="457.3,484.3 460.9,486.7 464.4,489.2 468,491.8 471.6,494.5 475.1,497.2 478.7,500.1 482.2,503 485.8,506.1 489.4,509.2 493,512.5 496.5,515.9 500.1,519.4 503.7,522.9 507.3,526.7 510.8,530.5 514.4,534.4 518,538.5 521.6,542.7 525.1,547 528.7,551.5"/>
<polyline points="426.5,520.3 435.8,517 445,513.8 454.3,510.8 463.6,508 472.9,505.4 482.2,503 491.6,500.8 500.9,498.8 510.2,496.9 519.6,495.3 528.9,493.8 538.3,492.5 547.6,491.4 556.9,490.4 566.3,489.7 575.6,489.1 584.9,488.6 594.3,488.4 603.6,488.3 612.9,488.4"/>
<polyline points="466.2,482.3 469.8,484.7 473.4,487.1 477,489.7 480.7,492.3 484.3,495.1 487.9,497.9 491.6,500.8 495.2,503.8 498.8,507 502.5,510.2 506.1,513.6 509.8,517 513.4,520.6 517,524.3 520.7,528.1 524.3,532 528,536 531.6,540.2 535.2,544.5 538.9,548.9"/>
<polyline points="429.7,523.6 439,520.2 448.3,517 457.7,513.9 467.1,511.1 476.4,508.5 485.8,506.1 495.2,503.8 504.6,501.8 514,499.9 523.4,498.2 532.8,496.7 542.2,495.4 551.6,494.3 561,493.3 570.4,492.5 579.8,491.9 589.2,491.5 598.6,491.2 608,491.1 617.4,491.2"/>
<polyline points="475,480.4 478.7,482.8 482.4,485.2 486.1,487.7 489.8,490.4 493.5,493.1 497.2,495.9 500.9,498.8 504.6,501.8 508.3,504.9 512,508.1 515.7,511.4 519.4,514.9 523.1,518.4 526.8,522.1 530.5,525.8 534.2,529.7 537.9,533.8 541.6,537.9 545.3,542.2 549,546.6"/>
<polyline points="432.8,526.9 442.2,523.5 451.6,520.2 461.1,517.2 470.5,514.3 479.9,511.7 489.4,509.2 498.8,507 508.3,504.9 517.8,503 527.2,501.3 536.7,499.8 546.2,498.5 555.7,497.3 565.1,496.3 574.6,495.5 584.1,494.9 593.5,494.5 603,494.2 612.4,494.1 621.8,494.1"/>
<polyline points="483.9,478.7 487.7,481 491.4,483.5 495.2,486 498.9,488.6 502.7,491.3 506.5,494.1 510.2,496.9 514,499.9 517.8,503 521.5,506.2 525.3,509.5 529.1,512.9 532.9,516.4 536.6,520.1 540.4,523.8 544.2,527.7 547.9,531.7 551.7,535.8 555.5,540.1 559.2,544.4"/>
<polyline points="436,530.3 445.5,526.9 455,523.6 464.4,520.5 473.9,517.7 483.4,515 493,512.5 502.5,510.2 512,508.1 521.5,506.2 531.1,504.5 540.6,502.9 550.2,501.6 559.7,500.4 569.2,499.4 578.8,498.6 588.3,498 597.8,497.5 607.3,497.2 616.8,497.1 626.3,497.2"/>
<polyline points="492.8,477.2 496.6,479.5 500.4,481.9 504.2,484.4 508.1,487 511.9,489.6 515.7,492.4 519.6,495.3 523.4,498.2 527.2,501.3 531.1,504.5 534.9,507.8 538.8,511.1 542.6,514.7 546.4,518.3 550.3,522 554.1,525.8 557.9,529.8 561.7,533.9 565.6,538.1 569.4,542.5"/>
<polyline points="439.2,533.9 448.7,530.4 458.3,527.1 467.8,524 477.4,521.1 487,518.4 496.5,515.9 506.1,513.6 515.7,511.4 525.3,509.5 534.9,507.8 544.5,506.2 554.1,504.8 563.7,503.6 573.3,502.6 582.9,501.8 592.5,501.2 602.1,500.7 611.7,500.4 621.2,500.3 630.8,500.3"/>
<polyline points="501.6,475.8 505.5,478.1 509.4,480.5 513.3,483 517.2,485.5 521.1,488.2 525,490.9 528.9,493.8 532.8,496.7 536.7,499.8 540.6,502.9 544.5,506.2 548.4,509.6 552.3,513.1 556.2,516.6 560.1,520.4 564,524.2 567.9,528.1 571.8,532.2 575.7,536.4 579.6,540.7"/>
<polyline points="442.4,537.6 452,534 461.6,530.7 471.2,527.6 480.8,524.6 490.5,521.9 500.1,519.4 509.8,517 519.4,514.9 529.1,512.9 538.8,511.1 548.4,509.6 558.1,508.2 567.8,507 577.4,506 587.1,505.1 596.7,504.5 606.4,504 616,503.7 625.7,503.5 635.3,503.6"/>
<polyline points="510.5,474.6 514.5,476.9 518.4,479.3 522.4,481.7 526.4,484.3 530.3,486.9 534.3,489.7 538.3,492.5 542.2,495.4 546.2,498.5 550.2,501.6 554.1,504.8 558.1,508.2 562.1,511.6 566,515.2 570,518.9 573.9,522.7 577.9,526.7 581.8,530.7 585.8,534.9 589.7,539.2"/>
<polyline points="445.6,541.3 455.2,537.8 464.9,534.4 474.6,531.2 484.3,528.3 494,525.5 503.7,522.9 513.4,520.6 523.1,518.4 532.9,516.4 542.6,514.7 552.3,513.1 562.1,511.6 571.8,510.4 581.5,509.4 591.2,508.5 601,507.9 610.7,507.4 620.4,507.1 630.1,506.9 639.7,506.9"/>
<polyline points="519.4,473.6 523.4,475.9 527.4,478.2 531.5,480.7 535.5,483.2 539.5,485.8 543.6,488.6 547.6,491.4 551.6,494.3 555.7,497.3 559.7,500.4 563.7,503.6 567.8,507 571.8,510.4 575.8,514 579.8,517.7 583.9,521.5 587.9,525.4 591.9,529.4 595.9,533.6 599.9,537.8"/>
<polyline points="448.7,545.2 458.5,541.6 468.2,538.2 477.9,535 487.7,532 497.5,529.2 507.3,526.7 517,524.3 526.8,522.1 536.6,520.1 546.4,518.3 556.2,516.6 566,515.2 575.8,514 585.6,512.9 595.4,512.1 605.2,511.4 614.9,510.9 624.7,510.5 634.5,510.4 644.2,510.4"/>
<polyline points="528.3,472.8 532.4,475 536.5,477.4 540.5,479.8 544.6,482.3 548.7,484.9 552.8,487.6 556.9,490.4 561,493.3 565.1,496.3 569.2,499.4 573.3,502.6 577.4,506 581.5,509.4 585.6,512.9 589.7,516.6 593.8,520.4 597.9,524.3 601.9,528.3 606,532.4 610.1,536.7"/>
<polyline points="451.9,549.3 461.7,545.6 471.5,542.2 481.3,538.9 491.2,535.9 501,533.1 510.8,530.5 520.7,528.1 530.5,525.8 540.4,523.8 550.3,522 560.1,520.4 570,518.9 579.8,517.7 589.7,516.6 599.5,515.7 609.4,515 619.2,514.5 629,514.1 638.9,514 648.7,514"/>
<polyline points="537.1,472.1 541.3,474.3 545.5,476.7 549.6,479.1 553.8,481.6 557.9,484.2 562.1,486.9 566.3,489.7 570.4,492.5 574.6,495.5 578.8,498.6 582.9,501.8 587.1,505.1 591.2,508.5 595.4,512.1 599.5,515.7 603.7,519.5 607.8,523.3 612,527.3 616.1,531.5 620.2,535.7"/>
<polyline points="455.1,553.4 465,549.7 474.8,546.2 484.7,543 494.6,539.9 504.5,537.1 514.4,534.4 524.3,532 534.2,529.7 544.2,527.7 554.1,525.8 564,524.2 573.9,522.7 583.9,521.5 593.8,520.4 603.7,519.5 613.6,518.8 623.5,518.2 633.4,517.9 643.3,517.7 653.1,517.7"/>
<polyline points="546,471.6 550.2,473.8 554.5,476.1 558.7,478.5 562.9,481 567.1,483.6 571.4,486.3 575.6,489.1 579.8,491.9 584.1,494.9 588.3,498 592.5,501.2 596.7,504.5 601,507.9 605.2,511.4 609.4,515 613.6,518.8 617.8,522.6 622,526.6 626.2,530.7 630.4,535"/>
<polyline points="458.3,557.7 468.2,553.9 478.1,550.4 488.1,547.1 498,544.1 508,541.2 518,538.5 528,536 537.9,533.8 547.9,531.7 557.9,529.8 567.9,528.1 577.9,526.7 587.9,525.4 597.9,524.3 607.8,523.3 617.8,522.6 627.8,522.1 637.7,521.7 647.7,521.5 657.6,521.5"/>
<polyline points="554.9,471.2 559.2,473.4 563.5,475.7 567.8,478.1 572,480.6 576.3,483.2 580.6,485.9 584.9,488.6 589.2,491.5 593.5,494.5 597.8,497.5 602.1,500.7 606.4,504 610.7,507.4 614.9,510.9 619.2,514.5 623.5,518.2 627.8,522.1 632,526 636.3,530.1 640.5,534.4"/>
<polyline points="461.5,562.1 471.5,558.3 481.5,554.8 491.5,551.4 501.5,548.3 511.5,545.4 521.6,542.7 531.6,540.2 541.6,537.9 551.7,535.8 561.7,533.9 571.8,532.2 581.8,530.7 591.9,529.4 601.9,528.3 612,527.3 622,526.6 632,526 642,525.7 652,525.5 662,525.5"/>
<polyline points="563.7,471 568.1,473.2 572.5,475.5 576.8,477.9 581.2,480.4 585.5,483 589.9,485.6 594.3,488.4 598.6,491.2 603,494.2 607.3,497.2 611.7,500.4 616,503.7 620.4,507.1 624.7,510.5 629,514.1 633.4,517.9 637.7,521.7 642,525.7 646.4,529.8 650.7,534"/>
<polyline points="464.7,566.6 474.7,562.8 484.8,559.2 494.9,555.8 504.9,552.7 515,549.8 525.1,547 535.2,544.5 545.3,542.2 555.5,540.1 565.6,538.1 575.7,536.4 585.8,534.9 595.9,533.6 606,532.4 616.1,531.5 626.2,530.7 636.3,530.1 646.4,529.8 656.4,529.5 666.5,529.5"/>
<polyline points="572.6,471 577,473.2 581.4,475.5 585.9,477.9 590.3,480.3 594.7,482.9 599.1,485.5 603.6,488.3 608,491.1 612.4,494.1 616.8,497.1 621.2,500.3 625.7,503.5 630.1,506.9 634.5,510.4 638.9,514 643.3,517.7 647.7,521.5 652,525.5 656.4,529.5 660.8,533.7"/>
<polyline points="467.9,571.2 478,567.4 488.1,563.8 498.2,560.4 508.4,557.2 518.5,554.2 528.7,551.5 538.9,548.9 549,546.6 559.2,544.4 569.4,542.5 579.6,540.7 589.7,539.2 599.9,537.8 610.1,536.7 620.2,535.7 630.4,535 640.5,534.4 650.7,534 660.8,533.7 670.9,533.7"/>
<polyline points="581.4,471.1 585.9,473.3 590.4,475.6 594.9,478 599.4,480.4 603.9,483 608.4,485.6 612.9,488.4 617.4,491.2 621.8,494.1 626.3,497.2 630.8,500.3 635.3,503.6 639.7,506.9 644.2,510.4 648.7,514 653.1,517.7 657.6,521.5 662,525.5 666.5,529.5 670.9,533.7"/>
</g>
<circle cx="404.1" cy="500.8" r="2.9" fill="#c80000" stroke="#8c0000" stroke-width="0.5"/>
<circle cx="407.6" cy="499.6" r="2.9" fill="#c80000" stroke="#8c0000" stroke-width="0.5"/>
<circle cx="410.8" cy="498.9" r="2.9" fill="#c80000" stroke="#8c0000" stroke-width="0.5"/>
<circle cx="467.5" cy="570.6" r="2.9" fill="#c80000" stroke="#8c0000" stroke-width="0.5"/>
<circle cx="471.4" cy="569.1" r="2.9" fill="#c80000" stroke="#8c0000" stroke-width="0.5"/>
<circle cx="475.2" cy="567.8" r="2.9" fill="#c80000" stroke="#8c0000" stroke-width="0.5"/>
<circle cx="670.8" cy="531.3" r="2.9" fill="#c80000" stroke="#8c0000" stroke-width="0.5"/>
<text x="399.7" y="523.3" font-size="10.2" text-anchor="end" textLength="23.5" lengthAdjust="spacingAndGlyphs">-5000</text>
<text x="398.9" y="497.7" font-size="10.2" text-anchor="end" textLength="5.1" lengthAdjust="spacingAndGlyphs">0</text>
<text x="398.1" y="472" font-size="10.2" text-anchor="end" textLength="20.4" lengthAdjust="spacingAndGlyphs">5000</text>
<text x="397.3" y="446.4" font-size="10.2" text-anchor="end" textLength="25.5" lengthAdjust="spacingAndGlyphs">10000</text>
<text x="396.4" y="420.8" font-size="10.2" text-anchor="end" textLength="25.5" lengthAdjust="spacingAndGlyphs">15000</text>
<text x="395.6" y="395.1" font-size="10.2" text-anchor="end" textLength="25.5" lengthAdjust="spacingAndGlyphs">20000</text>
<text x="394.8" y="369.5" font-size="10.2" text-anchor="end" textLength="25.5" lengthAdjust="spacingAndGlyphs">25000</text>
<text x="398.1" y="585.8" font-size="10.2" text-anchor="middle" textLength="5.1" lengthAdjust="spacingAndGlyphs">0</text>
<text x="413.7" y="606.4" font-size="10.2" text-anchor="middle" textLength="5.1" lengthAdjust="spacingAndGlyphs">2</text>
<text x="429.4" y="627.1" font-size="10.2" text-anchor="middle" textLength="5.1" lengthAdjust="spacingAndGlyphs">4</text>
<text x="445" y="647.7" font-size="10.2" text-anchor="middle" textLength="5.1" lengthAdjust="spacingAndGlyphs">6</text>
<text x="460.6" y="668.4" font-size="10.2" text-anchor="middle" textLength="5.1" lengthAdjust="spacingAndGlyphs">8</text>
<text x="475" y="668.2" font-size="10.2" textLength="12.8" lengthAdjust="spacingAndGlyphs">0.1</text>
<text x="514.7" y="660.8" font-size="10.2" textLength="17.9" lengthAdjust="spacingAndGlyphs">5.08</text>
<text x="554.4" y="653.4" font-size="10.2" textLength="23" lengthAdjust="spacingAndGlyphs">10.06</text>
<text x="594.1" y="646.1" font-size="10.2" textLength="23" lengthAdjust="spacingAndGlyphs">15.04</text>
<text x="633.8" y="638.7" font-size="10.2" textLength="23" lengthAdjust="spacingAndGlyphs">20.02</text>
<text x="673.5" y="631.3" font-size="10.2" textLength="10.2" lengthAdjust="spacingAndGlyphs">25</text>
<text transform="translate(357.9,472.8) rotate(-90)" font-size="10.2" text-anchor="middle" textLength="110.6" lengthAdjust="spacingAndGlyphs">Dynamic modulus (Mpa)</text>
<text x="354.2" y="634.5" font-size="10.2" textLength="41.3" lengthAdjust="spacingAndGlyphs">A: NR (%)</text>
<text x="575" y="678.3" font-size="10.2" textLength="50.2" lengthAdjust="spacingAndGlyphs">B: Freq (Hz)</text>
<text x="496.1" y="701" font-size="18" font-family="Liberation Serif, serif" fill="#000" stroke="#000" stroke-width="0.2" textLength="20" lengthAdjust="spacingAndGlyphs">(d)</text>
</svg>
</body></html>
